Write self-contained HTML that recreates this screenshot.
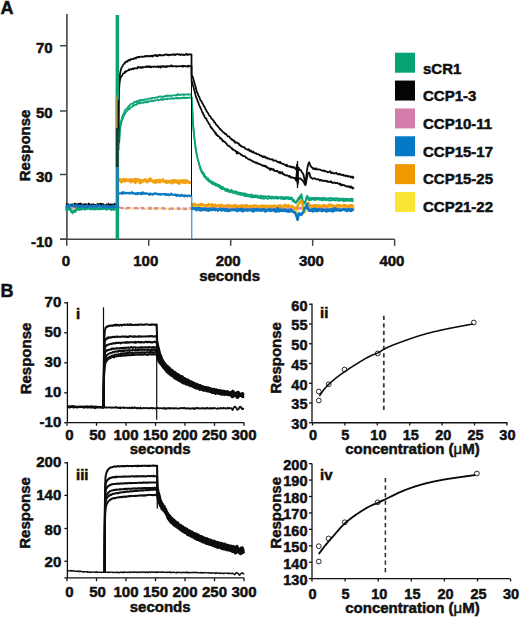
<!DOCTYPE html>
<html><head><meta charset="utf-8"><style>
html,body{margin:0;padding:0;background:#fff;}
svg{display:block;}
text{font-family:"Liberation Sans",sans-serif;font-weight:bold;fill:#111;stroke:#111;stroke-width:0.5px;}
</style></head><body>
<svg width="520" height="620" viewBox="0 0 520 620">
<rect width="520" height="620" fill="#fff"/>
<text x="0.50" y="13.50" font-size="18" text-anchor="start" >A</text>
<line x1="66.90" y1="14.00" x2="66.90" y2="239.25" stroke="#444444" stroke-width="1.6" />
<line x1="60.00" y1="239.25" x2="394.50" y2="239.25" stroke="#444444" stroke-width="1.6" />
<line x1="60.00" y1="45.70" x2="66.90" y2="45.70" stroke="#444444" stroke-width="1.5" />
<text x="52.70" y="53.10" font-size="15" text-anchor="end" >70</text>
<line x1="60.00" y1="111.00" x2="66.90" y2="111.00" stroke="#444444" stroke-width="1.5" />
<text x="52.70" y="117.50" font-size="15" text-anchor="end" >50</text>
<line x1="60.00" y1="174.50" x2="66.90" y2="174.50" stroke="#444444" stroke-width="1.5" />
<text x="52.70" y="182.00" font-size="15" text-anchor="end" >30</text>
<line x1="60.00" y1="239.25" x2="66.90" y2="239.25" stroke="#444444" stroke-width="1.5" />
<text x="52.70" y="247.20" font-size="15" text-anchor="end" >-10</text>
<line x1="66.75" y1="239.25" x2="66.75" y2="245.80" stroke="#444444" stroke-width="1.5" />
<text x="66.00" y="266.00" font-size="15" text-anchor="middle" >0</text>
<line x1="148.72" y1="239.25" x2="148.72" y2="245.80" stroke="#444444" stroke-width="1.5" />
<text x="145.72" y="266.00" font-size="15" text-anchor="middle" >100</text>
<line x1="230.69" y1="239.25" x2="230.69" y2="245.80" stroke="#444444" stroke-width="1.5" />
<text x="228.19" y="266.00" font-size="15" text-anchor="middle" >200</text>
<line x1="312.66" y1="239.25" x2="312.66" y2="245.80" stroke="#444444" stroke-width="1.5" />
<text x="311.46" y="266.00" font-size="15" text-anchor="middle" >300</text>
<line x1="394.63" y1="239.25" x2="394.63" y2="245.80" stroke="#444444" stroke-width="1.5" />
<text x="391.93" y="266.00" font-size="15" text-anchor="middle" >400</text>
<text x="229.60" y="280.50" font-size="15" text-anchor="middle" >seconds</text>
<path d="M119.00,209.02 L119.50,208.48 L120.00,208.35 L120.50,207.57 L121.00,208.21 L121.50,208.18 L122.00,208.30 L122.50,208.08 L123.00,208.32 L123.50,208.15 L124.00,207.82 L124.50,208.71 L125.00,208.71 L125.50,209.05 L126.00,208.39 L126.50,208.21 L127.00,208.16 L127.50,207.76 L128.00,208.78 L128.50,207.95 L129.00,207.92 L129.50,208.32 L130.00,209.00 L130.50,208.51 L131.00,208.01 L131.50,208.14 L132.00,208.68 L132.50,208.37 L133.00,208.13 L133.50,208.35 L134.00,208.74 L134.50,209.24 L135.00,207.96 L135.50,208.21 L136.00,208.14 L136.50,207.50 L137.00,208.10 L137.50,208.07 L138.00,208.93 L138.50,208.44 L139.00,207.84 L139.50,208.76 L140.00,208.36 L140.50,207.81 L141.00,208.27 L141.50,208.28 L142.00,208.17 L142.50,208.54 L143.00,207.63 L143.50,208.43 L144.00,208.95 L144.50,208.89 L145.00,208.99 L145.50,209.00 L146.00,209.16 L146.50,208.12 L147.00,208.91 L147.50,207.83 L148.00,208.34 L148.50,207.82 L149.00,209.01 L149.50,209.13 L150.00,208.52 L150.50,209.31 L151.00,208.34 L151.50,208.67 L152.00,208.68 L152.50,208.20 L153.00,208.80 L153.50,209.41 L154.00,208.23 L154.50,209.00 L155.00,208.59 L155.50,209.36 L156.00,208.85 L156.50,208.93 L157.00,208.92 L157.50,208.77 L158.00,208.12 L158.50,209.24 L159.00,208.14 L159.50,208.79 L160.00,208.94 L160.50,208.37 L161.00,208.76 L161.50,209.18 L162.00,208.71 L162.50,208.36 L163.00,207.56 L163.50,208.34 L164.00,208.50 L164.50,208.53 L165.00,208.36 L165.50,208.90 L166.00,208.52 L166.50,208.71 L167.00,209.04 L167.50,208.43 L168.00,208.65 L168.50,209.64 L169.00,209.13 L169.50,208.27 L170.00,208.76 L170.50,209.02 L171.00,209.30 L171.50,208.87 L172.00,208.60 L172.50,208.52 L173.00,209.08 L173.50,208.95 L174.00,208.62 L174.50,208.76 L175.00,208.67 L175.50,209.14 L176.00,208.57 L176.50,209.05 L177.00,209.20 L177.50,209.06 L178.00,208.54 L178.50,209.41 L179.00,208.61 L179.50,209.05 L180.00,208.59 L180.50,208.20 L181.00,208.99 L181.50,209.02 L182.00,208.88 L182.50,209.02 L183.00,208.66 L183.50,208.63 L184.00,208.86 L184.50,209.70 L185.00,209.26 L185.50,208.73 L186.00,209.17 L186.50,208.76 L187.00,208.77 L187.50,209.31 L188.00,208.76 L188.50,208.30 L189.00,208.61 L189.50,209.02 L190.00,209.04 L190.50,209.49 L191.00,208.71 L191.50,209.29" fill="none" stroke="#f8ea8a" stroke-width="1.8" stroke-linejoin="round" />
<path d="M66.00,207.71 L66.50,207.43 L67.00,207.92 L67.50,207.75 L68.00,207.07 L68.50,208.04 L69.00,206.89 L69.50,207.53 L70.00,207.50 L70.50,207.71 L71.00,207.14 L71.50,207.48 L72.00,207.43 L72.50,208.00 L73.00,207.10 L73.50,207.54 L74.00,207.37 L74.50,206.85 L75.00,208.84 L75.50,207.46 L76.00,206.76 L76.50,208.20 L77.00,206.96 L77.50,207.69 L78.00,207.93 L78.50,207.18 L79.00,207.28 L79.50,207.23 L80.00,207.44 L80.50,206.69 L81.00,206.88 L81.50,207.43 L82.00,208.02 L82.50,207.82 L83.00,208.36 L83.50,207.85 L84.00,207.24 L84.50,207.44 L85.00,206.48 L85.50,207.02 L86.00,206.99 L86.50,207.64 L87.00,207.82 L87.50,207.22 L88.00,207.21 L88.50,206.73 L89.00,207.44 L89.50,207.62 L90.00,207.72 L90.50,207.11 L91.00,208.49 L91.50,208.10 L92.00,207.45 L92.50,207.24 L93.00,207.34 L93.50,207.58 L94.00,207.49 L94.50,207.74 L95.00,207.88 L95.50,208.18 L96.00,208.07 L96.50,207.44 L97.00,207.69 L97.50,207.31 L98.00,207.21 L98.50,208.46 L99.00,207.27 L99.50,208.50 L100.00,207.33 L100.50,207.63 L101.00,208.04 L101.50,207.51 L102.00,207.70 L102.50,207.38 L103.00,207.26 L103.50,207.42 L104.00,207.18 L104.50,208.32 L105.00,207.42 L105.50,208.36 L106.00,206.16 L106.50,207.51 L107.00,207.78 L107.50,207.35 L108.00,208.05 L108.50,207.82 L109.00,207.36 L109.50,207.72 L110.00,208.91 L110.50,207.63 L111.00,207.65 L111.50,207.28 L112.00,207.57 L112.50,206.86 L113.00,207.40 L113.50,208.73 L114.00,208.03 L114.50,207.82 L115.00,208.05 L115.50,208.44 L116.00,207.80 L116.50,208.54 L117.00,208.03 L117.50,207.58" fill="none" stroke="#f7e23c" stroke-width="1.8" stroke-linejoin="round" />
<path d="M192.00,207.86 L192.50,205.82 L193.00,206.72 L193.50,207.14 L194.00,206.55 L194.50,206.93 L195.00,206.69 L195.50,206.69 L196.00,208.37 L196.49,207.33 L196.99,206.99 L197.49,207.68 L197.99,206.91 L198.49,207.47 L198.99,207.21 L199.49,207.85 L199.99,206.32 L200.49,207.42 L200.99,207.10 L201.49,206.46 L201.99,207.58 L202.49,206.61 L202.99,207.86 L203.49,207.31 L203.99,207.40 L204.48,207.09 L204.98,207.51 L205.48,206.13 L205.98,207.10 L206.48,206.75 L206.98,207.21 L207.48,207.04 L207.98,207.38 L208.48,206.65 L208.98,207.99 L209.48,208.23 L209.98,206.97 L210.48,207.07 L210.98,207.23 L211.48,207.72 L211.98,208.03 L212.47,206.49 L212.97,206.78 L213.47,206.56 L213.97,206.54 L214.47,206.28 L214.97,207.28 L215.47,206.52 L215.97,207.86 L216.47,207.56 L216.97,206.59 L217.47,206.59 L217.97,206.81 L218.47,207.81 L218.97,206.69 L219.47,206.37 L219.97,207.10 L220.46,207.31 L220.96,206.80 L221.46,207.94 L221.96,207.25 L222.46,207.36 L222.96,206.71 L223.46,207.12 L223.96,207.06 L224.46,206.00 L224.96,207.29 L225.46,206.25 L225.96,207.13 L226.46,206.41 L226.96,208.16 L227.46,207.32 L227.96,207.59 L228.46,207.62 L228.95,206.50 L229.45,206.02 L229.95,207.00 L230.45,207.61 L230.95,207.21 L231.45,207.56 L231.95,207.64 L232.45,206.43 L232.95,207.32 L233.45,208.16 L233.95,206.90 L234.45,206.17 L234.95,207.07 L235.45,206.96 L235.95,207.40 L236.45,206.75 L236.94,207.24 L237.44,206.09 L237.94,207.63 L238.44,207.99 L238.94,207.85 L239.44,206.45 L239.94,207.37 L240.44,205.72 L240.94,207.35 L241.44,207.18 L241.94,206.72 L242.44,207.39 L242.94,207.29 L243.44,207.69 L243.94,207.29 L244.44,207.34 L244.93,206.26 L245.43,206.65 L245.93,206.99 L246.43,207.38 L246.93,207.23 L247.43,207.99 L247.93,206.81 L248.43,207.12 L248.93,207.37 L249.43,207.13 L249.93,207.50 L250.43,206.97 L250.93,207.96 L251.43,207.10 L251.93,207.82 L252.43,207.25 L252.92,208.01 L253.42,206.57 L253.92,207.53 L254.42,207.05 L254.92,207.39 L255.42,207.87 L255.92,206.71 L256.42,206.62 L256.92,206.78 L257.42,207.41 L257.92,206.34 L258.42,207.33 L258.92,206.65 L259.42,206.72 L259.92,207.11 L260.42,207.49 L260.92,206.98 L261.41,207.05 L261.91,207.28 L262.41,207.17 L262.91,205.97 L263.41,207.09 L263.91,207.35 L264.41,207.86 L264.91,208.34 L265.41,207.65 L265.91,207.36 L266.41,206.84 L266.91,207.37 L267.41,207.71 L267.91,207.96 L268.41,206.89 L268.91,207.45 L269.40,207.74 L269.90,208.27 L270.40,207.47 L270.90,207.07 L271.40,207.00 L271.90,207.17 L272.40,207.02 L272.90,207.76 L273.40,207.89 L273.90,207.72 L274.40,207.95 L274.90,207.13 L275.40,207.55 L275.90,207.17 L276.40,207.39 L276.90,207.98 L277.39,207.35 L277.89,206.44 L278.39,207.25 L278.89,207.02 L279.39,206.62 L279.89,206.98 L280.39,207.86 L280.89,208.22 L281.39,207.14 L281.89,207.89 L282.39,207.98 L282.89,206.81 L283.39,207.37 L283.89,207.37 L284.39,207.48 L284.89,206.60 L285.38,207.23 L285.88,207.93 L286.38,208.04 L286.88,208.32 L287.38,207.24 L287.88,208.35 L288.38,207.75 L288.88,206.74 L289.38,207.80 L289.88,207.25 L290.38,207.68 L290.88,207.38 L291.38,208.03 L291.88,207.56 L292.38,207.29 L292.88,207.92 L293.38,207.57 L293.87,207.23 L294.37,208.83 L294.62,208.91 L294.87,208.99 L295.12,209.43 L295.37,209.87 L295.62,210.40 L295.87,210.92 L296.12,211.19 L296.37,211.46 L296.62,212.19 L296.87,212.92 L297.12,213.24 L297.37,212.72 L297.62,210.90 L297.87,209.09 L298.12,208.20 L298.37,207.30 L298.62,205.90 L298.87,204.50 L299.12,203.80 L299.37,203.42 L299.62,203.46 L299.87,203.49 L300.12,202.84 L300.37,202.18 L300.62,201.31 L300.87,200.43 L301.12,200.09 L301.37,199.74 L301.61,199.96 L301.86,201.25 L302.11,202.76 L302.36,204.27 L302.61,205.73 L302.86,207.20 L303.11,208.70 L303.36,210.21 L303.61,211.45 L303.86,212.01 L304.11,212.33 L304.36,212.64 L304.61,212.87 L304.86,213.09 L305.11,213.18 L305.36,213.26 L305.61,212.37 L305.86,210.41 L306.11,209.07 L306.36,207.73 L306.61,205.85 L306.86,203.98 L307.11,203.81 L307.36,205.01 L307.61,205.68 L307.86,206.35 L308.11,207.15 L308.36,207.95 L308.61,208.42 L308.86,208.90 L309.11,208.86 L309.36,208.25 L309.61,208.69 L309.85,209.13 L310.10,208.95 L310.35,208.77 L310.60,207.84 L310.85,206.92 L311.10,207.18 L311.35,207.58 L311.60,207.85 L311.85,208.11 L312.10,207.55 L312.35,206.98 L312.60,207.69 L312.85,208.41 L313.10,207.88 L313.35,207.35 L313.60,207.17 L313.85,206.99 L314.10,207.60 L314.35,208.21 L314.85,207.68 L315.35,207.21 L315.85,207.97 L316.35,206.56 L316.85,208.45 L317.35,207.13 L317.84,207.69 L318.34,207.35 L318.84,207.77 L319.34,207.99 L319.84,207.14 L320.34,207.95 L320.84,207.41 L321.34,207.21 L321.84,207.45 L322.34,207.06 L322.84,207.17 L323.34,208.04 L323.84,207.49 L324.34,208.14 L324.84,207.79 L325.34,207.06 L325.84,206.63 L326.33,207.24 L326.83,207.71 L327.33,207.59 L327.83,207.17 L328.33,208.09 L328.83,206.72 L329.33,206.96 L329.83,207.66 L330.33,208.69 L330.83,207.81 L331.33,207.10 L331.83,207.90 L332.33,207.95 L332.83,208.08 L333.33,207.40 L333.83,207.21 L334.32,207.67 L334.82,207.82 L335.32,208.42 L335.82,208.67 L336.32,207.26 L336.82,207.36 L337.32,207.59 L337.82,207.50 L338.32,207.87 L338.82,207.88 L339.32,207.76 L339.82,208.31 L340.32,207.56 L340.82,207.12 L341.32,206.86 L341.82,207.13 L342.31,207.13 L342.81,206.71 L343.31,207.98 L343.81,207.75 L344.31,207.45 L344.81,207.21 L345.31,206.87 L345.81,207.20 L346.31,208.59 L346.81,206.56 L347.31,207.74 L347.81,208.04 L348.31,207.74 L348.81,207.52 L349.31,208.06 L349.81,207.13 L350.30,207.96 L350.80,208.40 L351.30,207.17 L351.80,207.28 L352.30,207.76 L352.80,208.19 L353.30,208.37 L353.80,208.04 L354.30,207.37" fill="none" stroke="#f7e23c" stroke-width="1.8" stroke-linejoin="round" />
<path d="M66.00,206.55 L66.50,207.10 L67.00,207.16 L67.50,206.56 L68.00,207.02 L68.50,207.13 L69.00,207.42 L69.50,206.60 L70.00,207.22 L70.50,206.53 L71.00,206.83 L71.50,206.97 L72.00,207.61 L72.50,208.33 L73.00,207.10 L73.50,207.20 L74.00,207.40 L74.50,206.46 L75.00,207.31 L75.50,206.50 L76.00,207.65 L76.50,207.58 L77.00,207.20 L77.50,206.68 L78.00,207.67 L78.50,207.10 L79.00,207.04 L79.50,207.23 L80.00,206.32 L80.50,207.17 L81.00,207.40 L81.50,207.14 L82.00,207.06 L82.50,206.62 L83.00,207.26 L83.50,207.08 L84.00,207.00 L84.50,206.77 L85.00,207.34 L85.50,207.50 L86.00,207.16 L86.50,207.36 L87.00,207.53 L87.50,207.64 L88.00,207.09 L88.50,206.91 L89.00,206.83 L89.50,207.01 L90.00,207.22 L90.50,207.38 L91.00,206.83 L91.50,207.06 L92.00,206.60 L92.50,207.51 L93.00,206.84 L93.50,207.14 L94.00,206.71 L94.50,206.88 L95.00,206.73 L95.50,207.68 L96.00,207.14 L96.50,206.93 L97.00,206.62 L97.50,206.76 L98.00,207.23 L98.50,207.67 L99.00,206.43 L99.50,206.63 L100.00,206.93 L100.50,206.75 L101.00,206.34 L101.50,207.01 L102.00,207.30 L102.50,206.37 L103.00,207.08 L103.50,207.39 L104.00,207.39 L104.50,206.83 L105.00,207.92 L105.50,207.22 L106.00,206.68 L106.50,207.39 L107.00,206.55 L107.50,207.36 L108.00,206.50 L108.50,207.32 L109.00,206.77 L109.50,207.45 L110.00,207.30 L110.50,207.18 L111.00,207.02 L111.50,207.43 L112.00,206.28 L112.50,207.17 L113.00,207.17 L113.50,207.22 L114.00,207.33 L114.50,208.48 L115.00,207.05 L115.50,207.32 L116.00,207.06 L116.50,207.63 L117.00,206.19 L117.50,207.68" fill="none" stroke="#d67fb0" stroke-width="1.5" stroke-linejoin="round" />
<path d="M119.00,207.69 L119.50,207.23 L120.00,207.59 L120.50,207.87 L121.00,207.98 L121.50,207.92 L122.00,208.18 L122.50,207.93 L123.00,207.93 L123.50,207.31 L124.00,208.11 L124.50,208.27 L125.00,207.85 L125.50,207.42 L126.00,207.59 L126.50,208.50 L127.00,207.82 L127.50,207.81 L128.00,207.77 L128.50,208.22 L129.00,207.85 L129.50,207.77 L130.00,207.58 L130.50,208.01 L131.00,208.35 L131.50,208.01 L132.00,208.33 L132.50,208.12 L133.00,208.12 L133.50,208.13 L134.00,208.10 L134.50,208.40 L135.00,208.24 L135.50,207.93 L136.00,208.15 L136.50,208.09 L137.00,208.27 L137.50,208.18 L138.00,208.26 L138.50,207.70 L139.00,208.26 L139.50,208.55 L140.00,207.76 L140.50,208.65 L141.00,208.26 L141.50,208.12 L142.00,207.64 L142.50,208.52 L143.00,207.91 L143.50,208.05 L144.00,208.37 L144.50,207.91 L145.00,207.93 L145.50,207.88 L146.00,208.20 L146.50,208.42 L147.00,208.37 L147.50,208.38 L148.00,208.16 L148.50,208.31 L149.00,208.07 L149.50,208.88 L150.00,208.34 L150.50,207.70 L151.00,207.98 L151.50,208.78 L152.00,207.90 L152.50,208.18 L153.00,208.44 L153.50,208.00 L154.00,208.65 L154.50,208.84 L155.00,208.10 L155.50,208.69 L156.00,208.09 L156.50,208.07 L157.00,208.45 L157.50,208.45 L158.00,208.21 L158.50,208.64 L159.00,207.96 L159.50,208.15 L160.00,208.09 L160.50,208.64 L161.00,208.66 L161.50,208.63 L162.00,208.05 L162.50,208.48 L163.00,208.58 L163.50,207.97 L164.00,208.21 L164.50,208.66 L165.00,208.68 L165.50,208.55 L166.00,208.65 L166.50,208.59 L167.00,208.54 L167.50,208.47 L168.00,208.25 L168.50,208.44 L169.00,208.40 L169.50,209.22 L170.00,208.61 L170.50,208.54 L171.00,208.48 L171.50,208.52 L172.00,208.48 L172.50,208.73 L173.00,208.56 L173.50,208.82 L174.00,208.37 L174.50,208.69 L175.00,208.86 L175.50,208.26 L176.00,208.66 L176.50,208.69 L177.00,208.52 L177.50,208.48 L178.00,208.08 L178.50,208.98 L179.00,208.36 L179.50,208.28 L180.00,208.85 L180.50,208.11 L181.00,208.96 L181.50,208.81 L182.00,208.86 L182.50,208.64 L183.00,208.33 L183.50,208.13 L184.00,209.14 L184.50,208.57 L185.00,208.56 L185.50,209.20 L186.00,208.54 L186.50,208.67 L187.00,208.67 L187.50,208.71 L188.00,208.44 L188.50,208.59 L189.00,209.15 L189.50,209.00 L190.00,207.89 L190.50,208.20 L191.00,208.89 L191.50,208.77" fill="none" stroke="#d487a8" stroke-width="2.0" stroke-linejoin="round" stroke-dasharray="5 4"/>
<path d="M192.00,207.85 L192.50,208.42 L193.00,207.29 L193.50,208.49 L194.00,208.06 L194.50,208.23 L195.00,208.11 L195.50,208.35 L196.00,207.91 L196.49,207.80 L196.99,208.33 L197.49,208.09 L197.99,207.52 L198.49,208.56 L198.99,208.51 L199.49,208.60 L199.99,208.06 L200.49,208.17 L200.99,207.88 L201.49,207.65 L201.99,208.06 L202.49,208.11 L202.99,207.78 L203.49,208.77 L203.99,207.40 L204.48,207.72 L204.98,207.78 L205.48,208.57 L205.98,207.95 L206.48,207.92 L206.98,207.70 L207.48,207.75 L207.98,207.54 L208.48,208.47 L208.98,208.31 L209.48,208.46 L209.98,207.80 L210.48,209.07 L210.98,207.68 L211.48,207.25 L211.98,207.96 L212.47,208.13 L212.97,208.38 L213.47,207.67 L213.97,208.32 L214.47,208.77 L214.97,207.74 L215.47,207.79 L215.97,207.41 L216.47,208.19 L216.97,208.44 L217.47,208.40 L217.97,208.43 L218.47,208.66 L218.97,208.15 L219.47,208.48 L219.97,207.72 L220.46,207.79 L220.96,208.20 L221.46,207.78 L221.96,208.34 L222.46,208.66 L222.96,208.28 L223.46,207.82 L223.96,207.82 L224.46,208.67 L224.96,207.80 L225.46,208.16 L225.96,208.02 L226.46,208.15 L226.96,208.57 L227.46,207.92 L227.96,207.57 L228.46,208.72 L228.95,208.23 L229.45,208.43 L229.95,208.13 L230.45,208.45 L230.95,208.65 L231.45,208.69 L231.95,208.04 L232.45,208.01 L232.95,208.31 L233.45,208.24 L233.95,208.38 L234.45,207.87 L234.95,207.23 L235.45,208.34 L235.95,208.47 L236.45,208.42 L236.94,208.83 L237.44,208.51 L237.94,208.01 L238.44,208.57 L238.94,208.14 L239.44,208.68 L239.94,208.27 L240.44,208.36 L240.94,208.27 L241.44,208.20 L241.94,207.59 L242.44,208.21 L242.94,207.28 L243.44,208.39 L243.94,208.59 L244.44,209.01 L244.93,208.35 L245.43,207.91 L245.93,207.56 L246.43,208.98 L246.93,207.63 L247.43,208.56 L247.93,207.28 L248.43,208.19 L248.93,208.48 L249.43,208.34 L249.93,208.20 L250.43,207.89 L250.93,207.86 L251.43,208.62 L251.93,208.40 L252.43,208.16 L252.92,208.31 L253.42,207.86 L253.92,208.64 L254.42,208.74 L254.92,207.92 L255.42,208.28 L255.92,208.66 L256.42,207.98 L256.92,209.05 L257.42,208.85 L257.92,208.13 L258.42,208.64 L258.92,208.91 L259.42,207.75 L259.92,208.50 L260.42,208.20 L260.92,208.17 L261.41,208.54 L261.91,208.07 L262.41,207.70 L262.91,207.69 L263.41,208.26 L263.91,208.52 L264.41,208.26 L264.91,208.21 L265.41,208.26 L265.91,208.79 L266.41,208.49 L266.91,207.98 L267.41,208.16 L267.91,208.76 L268.41,208.05 L268.91,208.13 L269.40,208.28 L269.90,207.86 L270.40,208.65 L270.90,207.42 L271.40,208.87 L271.90,208.12 L272.40,207.79 L272.90,208.41 L273.40,207.62 L273.90,208.52 L274.40,208.61 L274.90,208.08 L275.40,208.15 L275.90,208.69 L276.40,208.04 L276.90,208.32 L277.39,208.45 L277.89,208.94 L278.39,208.12 L278.89,208.34 L279.39,208.78 L279.89,207.30 L280.39,208.22 L280.89,207.56 L281.39,207.59 L281.89,209.12 L282.39,208.42 L282.89,208.93 L283.39,208.24 L283.89,208.56 L284.39,208.17 L284.89,208.12 L285.38,208.32 L285.88,208.40 L286.38,208.96 L286.88,208.27 L287.38,208.50 L287.88,208.25 L288.38,208.41 L288.88,207.83 L289.38,208.80 L289.88,208.15 L290.38,208.38 L290.88,208.28 L291.38,208.76 L291.88,208.58 L292.38,208.38 L292.88,208.44 L293.38,208.51 L293.87,208.68 L294.37,208.58 L294.87,208.89 L295.37,209.03 L295.87,208.63 L296.37,207.86 L296.87,209.09 L297.37,209.25 L297.87,208.25 L298.37,208.23 L298.87,207.57 L299.37,208.71 L299.87,208.00 L300.37,209.13 L300.87,207.41 L301.37,208.43 L301.86,208.68 L302.36,208.25 L302.86,208.09 L303.36,208.51 L303.86,208.20 L304.36,208.28 L304.86,208.40 L305.36,208.20 L305.86,208.33 L306.36,208.74 L306.86,208.27 L307.36,208.49 L307.86,208.13 L308.36,208.80 L308.86,207.92 L309.36,208.82 L309.85,207.22 L310.35,208.07 L310.85,207.80 L311.35,208.85 L311.85,208.55 L312.35,207.92 L312.85,208.22 L313.35,208.98 L313.85,208.42 L314.35,208.67 L314.85,207.85 L315.35,207.85 L315.85,208.68 L316.35,209.38 L316.85,208.24 L317.35,208.69 L317.84,208.08 L318.34,208.96 L318.84,208.28 L319.34,208.29 L319.84,207.71 L320.34,208.30 L320.84,208.54 L321.34,209.02 L321.84,208.00 L322.34,208.86 L322.84,208.33 L323.34,208.36 L323.84,208.09 L324.34,207.79 L324.84,207.99 L325.34,209.13 L325.84,208.00 L326.33,208.31 L326.83,208.92 L327.33,207.64 L327.83,208.66 L328.33,208.28 L328.83,208.56 L329.33,208.83 L329.83,208.43 L330.33,208.41 L330.83,208.78 L331.33,208.75 L331.83,208.21 L332.33,208.42 L332.83,207.96 L333.33,209.02 L333.83,208.02 L334.32,208.58 L334.82,209.21 L335.32,208.83 L335.82,208.40 L336.32,208.22 L336.82,208.27 L337.32,208.89 L337.82,208.66 L338.32,208.52 L338.82,209.57 L339.32,208.20 L339.82,208.34 L340.32,208.38 L340.82,208.62 L341.32,208.66 L341.82,208.43 L342.31,208.84 L342.81,208.76 L343.31,208.43 L343.81,207.57 L344.31,208.86 L344.81,208.17 L345.31,208.29 L345.81,208.49 L346.31,208.05 L346.81,208.23 L347.31,208.57 L347.81,208.41 L348.31,208.67 L348.81,208.20 L349.31,208.45 L349.81,208.12 L350.30,208.44 L350.80,208.67 L351.30,208.45 L351.80,207.98 L352.30,208.48 L352.80,208.62 L353.30,209.01 L353.80,208.55 L354.30,208.40" fill="none" stroke="#d67fb0" stroke-width="1.5" stroke-linejoin="round" />
<path d="M66.00,208.25 L66.50,210.14 L67.00,208.37 L67.50,208.26 L68.00,208.85 L68.50,207.84 L69.00,209.58 L69.50,209.04 L70.00,209.22 L70.50,208.34 L71.00,211.12 L71.50,211.93 L72.00,211.96 L72.50,213.12 L73.00,212.07 L73.50,210.28 L74.00,211.46 L74.50,211.19 L75.00,212.06 L75.50,211.35 L76.00,209.20 L76.50,208.71 L77.00,209.26 L77.50,209.77 L78.00,208.53 L78.50,207.67 L79.00,208.27 L79.50,209.82 L80.00,209.02 L80.50,208.70 L81.00,208.30 L81.50,209.51 L82.00,209.05 L82.50,208.80 L83.00,208.54 L83.50,208.77 L84.00,208.67 L84.50,209.20 L85.00,209.62 L85.50,207.68 L86.00,207.98 L86.50,208.79 L87.00,208.89 L87.50,207.91 L88.00,208.47 L88.50,208.59 L89.00,208.57 L89.50,208.55 L90.00,208.77 L90.50,209.35 L91.00,209.26 L91.50,209.17 L92.00,208.98 L92.50,208.38 L93.00,208.52 L93.50,209.22 L94.00,208.87 L94.50,209.28 L95.00,208.96 L95.50,208.83 L96.00,209.06 L96.50,207.86 L97.00,208.69 L97.50,208.43 L98.00,209.29 L98.50,208.37 L99.00,208.91 L99.50,208.51 L100.00,209.05 L100.50,209.19 L101.00,208.63 L101.50,208.82 L102.00,208.86 L102.50,209.21 L103.00,208.55 L103.50,208.76 L104.00,208.48 L104.50,208.16 L105.00,208.83 L105.50,208.98 L106.00,208.24 L106.50,209.66 L107.00,208.27 L107.50,209.16 L108.00,208.93 L108.50,207.68 L109.00,208.69 L109.50,207.75 L110.00,208.63 L110.50,209.10 L111.00,209.80 L111.50,209.16 L112.00,207.77 L112.50,208.47 L113.00,209.58 L113.50,208.78 L114.00,209.73 L114.50,208.23 L115.00,208.33 L115.50,207.85 L116.00,208.43 L116.50,209.41 L117.00,208.09" fill="none" stroke="#0ba478" stroke-width="2.2" stroke-linejoin="round" />
<path d="M119.20,140.26 L119.70,131.68 L120.20,126.56 L120.70,122.73 L121.20,120.23 L121.70,119.07 L122.20,116.32 L122.70,115.68 L123.21,114.77 L123.71,113.36 L124.21,112.86 L124.71,110.40 L125.21,110.54 L125.71,109.49 L126.21,109.06 L126.71,108.52 L127.21,108.12 L127.71,107.09 L128.21,107.17 L128.71,105.83 L129.21,106.26 L129.71,105.42 L130.22,104.49 L130.72,104.12 L131.22,103.76 L131.72,103.71 L132.22,103.78 L132.72,103.91 L133.22,103.44 L133.72,102.44 L134.22,101.84 L134.72,102.30 L135.22,101.67 L135.72,101.88 L136.22,101.49 L136.72,102.43 L137.23,100.73 L137.73,101.27 L138.23,101.66 L138.73,100.72 L139.23,100.45 L139.73,101.19 L140.23,99.73 L140.73,99.76 L141.23,99.81 L141.73,100.28 L142.23,100.31 L142.73,99.89 L143.23,100.60 L143.73,99.67 L144.23,99.65 L144.74,99.46 L145.24,99.91 L145.74,99.39 L146.24,99.16 L146.74,99.81 L147.24,99.58 L147.74,99.39 L148.24,98.50 L148.74,98.48 L149.24,98.68 L149.74,98.58 L150.24,98.42 L150.74,98.40 L151.24,98.61 L151.75,97.93 L152.25,98.27 L152.75,97.95 L153.25,97.82 L153.75,97.80 L154.25,98.06 L154.75,97.81 L155.25,97.34 L155.75,97.64 L156.25,97.48 L156.75,97.49 L157.25,97.16 L157.75,97.52 L158.25,97.22 L158.76,96.60 L159.26,96.47 L159.76,96.35 L160.26,96.91 L160.76,96.45 L161.26,96.50 L161.76,96.53 L162.26,96.92 L162.76,97.19 L163.26,96.32 L163.76,97.01 L164.26,96.44 L164.76,96.62 L165.26,96.04 L165.77,95.65 L166.27,96.20 L166.77,96.44 L167.27,95.38 L167.77,95.86 L168.27,95.91 L168.77,96.00 L169.27,95.36 L169.77,95.50 L170.27,95.98 L170.77,96.25 L171.27,95.60 L171.77,95.87 L172.27,95.55 L172.77,95.60 L173.28,95.27 L173.78,95.29 L174.28,95.13 L174.78,95.32 L175.28,95.64 L175.78,95.28 L176.28,95.41 L176.78,94.92 L177.28,95.36 L177.78,93.96 L178.28,94.53 L178.78,94.88 L179.28,94.32 L179.78,95.13 L180.29,94.97 L180.79,94.54 L181.29,94.86 L181.79,94.26 L182.29,94.44 L182.79,94.60 L183.29,94.13 L183.79,95.04 L184.29,94.41 L184.79,94.97 L185.29,94.53 L185.79,94.66 L186.29,94.20 L186.79,94.39 L187.30,94.32 L187.80,94.52 L188.30,94.90 L188.80,94.19 L189.30,94.31 L189.80,94.47 L190.30,94.62 L190.80,94.26 L191.60,96.86 L192.10,104.38 L192.60,114.12 L193.10,124.07 L193.60,129.86 L194.10,134.85 L194.60,139.63 L195.10,143.56 L195.60,147.16 L196.10,150.83 L196.60,153.64 L197.10,156.13 L197.60,158.41 L198.10,160.05 L198.60,162.09 L199.10,163.85 L199.60,165.36 L200.09,166.15 L200.59,168.06 L201.09,169.33 L201.59,170.42 L202.09,171.12 L202.59,172.15 L203.09,172.36 L203.59,173.26 L204.09,173.48 L204.59,175.13 L205.09,176.41 L205.59,177.03 L206.09,176.57 L206.59,177.71 L207.09,178.41 L207.59,178.33 L208.09,178.19 L208.59,179.80 L209.09,179.58 L209.59,179.95 L210.09,181.05 L210.59,180.96 L211.09,181.42 L211.59,182.01 L212.09,181.69 L212.59,181.68 L213.09,182.56 L213.59,182.54 L214.09,183.04 L214.59,183.16 L215.09,182.99 L215.59,183.51 L216.08,183.62 L216.58,183.91 L217.08,184.24 L217.58,184.66 L218.08,184.89 L218.58,184.66 L219.08,185.63 L219.58,185.20 L220.08,186.78 L220.58,186.03 L221.08,186.56 L221.58,187.33 L222.08,187.06 L222.58,186.94 L223.08,187.13 L223.58,187.95 L224.08,188.21 L224.58,188.56 L225.08,188.56 L225.58,188.49 L226.08,189.01 L226.58,189.53 L227.08,188.93 L227.58,190.64 L228.08,189.41 L228.58,190.16 L229.08,190.54 L229.58,190.36 L230.08,190.31 L230.58,190.61 L231.08,190.98 L231.58,189.73 L232.07,190.97 L232.57,190.82 L233.07,190.86 L233.57,191.30 L234.07,191.46 L234.57,191.72 L235.07,191.49 L235.57,192.23 L236.07,191.25 L236.57,191.78 L237.07,191.83 L237.57,192.43 L238.07,192.36 L238.57,192.85 L239.07,192.51 L239.57,193.37 L240.07,193.30 L240.57,192.97 L241.07,192.67 L241.57,192.96 L242.07,192.93 L242.57,194.01 L243.07,193.93 L243.57,193.32 L244.07,194.52 L244.57,193.84 L245.07,193.25 L245.57,194.51 L246.07,194.68 L246.57,194.31 L247.07,194.08 L247.57,194.92 L248.07,194.39 L248.56,194.65 L249.06,194.90 L249.56,194.93 L250.06,194.74 L250.56,194.61 L251.06,195.32 L251.56,194.36 L252.06,195.32 L252.56,195.38 L253.06,195.54 L253.56,195.29 L254.06,195.57 L254.56,195.84 L255.06,195.26 L255.56,195.70 L256.06,195.88 L256.56,195.36 L257.06,195.53 L257.56,196.47 L258.06,196.33 L258.56,195.76 L259.06,196.32 L259.56,196.26 L260.06,196.65 L260.56,196.60 L261.06,195.39 L261.56,196.17 L262.06,196.79 L262.56,196.92 L263.06,196.16 L263.56,195.98 L264.06,196.53 L264.55,196.24 L265.05,196.49 L265.55,196.12 L266.05,196.82 L266.55,196.78 L267.05,196.77 L267.55,196.25 L268.05,196.07 L268.55,196.24 L269.05,196.88 L269.55,196.10 L270.05,196.99 L270.55,197.40 L271.05,196.58 L271.55,196.76 L272.05,197.19 L272.55,197.19 L273.05,196.67 L273.55,196.85 L274.05,196.97 L274.55,196.85 L275.05,197.17 L275.55,197.10 L276.05,197.46 L276.55,196.42 L277.05,197.46 L277.55,197.34 L278.05,197.03 L278.55,197.24 L279.05,197.45 L279.55,197.23 L280.05,197.06 L280.55,197.26 L281.04,196.93 L281.54,196.73 L282.04,196.90 L282.54,196.96 L283.04,197.31 L283.54,197.54 L284.04,197.36 L284.54,197.80 L285.04,197.27 L285.54,197.10 L286.04,197.08 L286.54,197.04 L287.04,197.26 L287.54,197.86 L288.04,196.88 L288.54,197.61 L289.04,197.42 L289.54,197.73 L290.04,197.29 L290.54,197.72 L291.04,197.35 L291.54,198.26 L292.04,197.86 L292.54,199.23 L293.04,199.84 L293.54,199.53 L294.04,200.90 L294.29,200.81 L294.54,200.72 L294.79,201.34 L295.04,201.97 L295.29,202.05 L295.54,202.14 L295.79,202.51 L296.04,202.78 L296.29,202.24 L296.54,201.69 L296.79,200.92 L297.03,200.15 L297.28,200.14 L297.53,200.12 L297.78,199.57 L298.03,199.04 L298.28,198.34 L298.53,197.63 L298.78,197.59 L299.03,197.56 L299.28,197.22 L299.53,196.89 L299.78,196.37 L300.03,195.86 L300.28,195.48 L300.53,195.10 L300.78,195.19 L301.03,195.28 L301.28,194.67 L301.53,194.26 L301.78,195.68 L302.03,197.10 L302.28,198.47 L302.53,199.83 L302.78,200.78 L303.03,201.72 L303.28,202.68 L303.53,203.44 L303.78,203.44 L304.03,203.44 L304.28,202.70 L304.53,201.96 L304.78,201.72 L305.03,201.42 L305.28,201.35 L305.53,201.28 L305.78,199.88 L306.03,198.48 L306.28,197.94 L306.53,197.40 L306.78,196.41 L307.03,195.54 L307.28,196.02 L307.53,196.50 L307.78,196.88 L308.03,197.25 L308.28,197.07 L308.53,196.89 L308.78,197.56 L309.03,198.19 L309.28,198.36 L309.53,198.54 L309.78,198.51 L310.03,198.49 L310.28,198.35 L310.53,198.20 L310.78,197.92 L311.03,197.64 L311.28,197.88 L311.53,198.12 L311.78,197.98 L312.03,197.83 L312.28,197.78 L312.53,197.74 L312.78,197.88 L313.02,198.03 L313.27,198.43 L313.52,198.84 L313.77,198.29 L314.02,197.74 L314.52,198.43 L315.02,198.17 L315.52,197.58 L316.02,197.79 L316.52,198.06 L317.02,197.97 L317.52,198.24 L318.02,197.82 L318.52,197.82 L319.02,198.55 L319.52,198.20 L320.02,197.93 L320.52,198.24 L321.02,198.89 L321.52,198.06 L322.02,197.76 L322.52,198.62 L323.02,199.00 L323.52,198.77 L324.02,197.88 L324.52,197.63 L325.02,198.81 L325.52,198.32 L326.02,198.57 L326.52,198.35 L327.02,199.02 L327.52,198.47 L328.02,198.35 L328.52,198.52 L329.02,198.07 L329.51,198.56 L330.01,198.48 L330.51,197.79 L331.01,198.15 L331.51,198.12 L332.01,198.03 L332.51,198.72 L333.01,199.00 L333.51,198.73 L334.01,198.12 L334.51,198.03 L335.01,198.94 L335.51,198.58 L336.01,198.66 L336.51,198.26 L337.01,198.02 L337.51,199.52 L338.01,198.55 L338.51,198.71 L339.01,198.39 L339.51,199.34 L340.01,198.70 L340.51,198.79 L341.01,198.87 L341.51,198.87 L342.01,199.39 L342.51,198.27 L343.01,199.14 L343.51,198.72 L344.01,198.81 L344.51,198.76 L345.01,199.14 L345.50,198.56 L346.00,198.83 L346.50,199.24 L347.00,198.86 L347.50,198.91 L348.00,199.22 L348.50,199.14 L349.00,199.01 L349.50,199.16 L350.00,198.85 L350.50,199.48 L351.00,198.81 L351.50,198.65 L352.00,199.38 L352.50,198.79 L353.00,198.93 L353.50,199.21" fill="none" stroke="#0ba478" stroke-width="1.7" stroke-linejoin="round" />
<path d="M119.20,143.23 L119.70,134.34 L120.20,129.19 L120.70,125.85 L121.20,123.65 L121.70,121.45 L122.20,120.12 L122.70,119.11 L123.21,117.33 L123.71,116.20 L124.21,115.03 L124.71,114.20 L125.21,113.20 L125.71,112.47 L126.21,111.91 L126.71,111.54 L127.21,110.94 L127.71,110.02 L128.21,109.73 L128.71,108.65 L129.21,109.36 L129.71,109.08 L130.22,107.77 L130.72,107.62 L131.22,107.13 L131.72,107.04 L132.22,106.24 L132.72,105.64 L133.22,106.17 L133.72,105.24 L134.22,105.48 L134.72,104.78 L135.22,104.58 L135.72,104.95 L136.22,104.94 L136.72,104.11 L137.23,103.82 L137.73,103.89 L138.23,103.43 L138.73,102.88 L139.23,103.35 L139.73,102.46 L140.23,103.28 L140.73,102.84 L141.23,102.98 L141.73,102.30 L142.23,102.46 L142.73,102.83 L143.23,103.02 L143.73,102.76 L144.23,102.52 L144.74,101.92 L145.24,102.43 L145.74,102.20 L146.24,101.96 L146.74,102.45 L147.24,101.65 L147.74,102.45 L148.24,101.53 L148.74,101.43 L149.24,101.55 L149.74,101.03 L150.24,101.24 L150.74,101.34 L151.24,100.63 L151.75,100.85 L152.25,100.56 L152.75,100.80 L153.25,101.27 L153.75,100.63 L154.25,100.62 L154.75,100.68 L155.25,100.13 L155.75,100.51 L156.25,100.16 L156.75,100.03 L157.25,99.58 L157.75,99.88 L158.25,100.38 L158.76,100.36 L159.26,99.76 L159.76,99.82 L160.26,99.57 L160.76,99.27 L161.26,98.96 L161.76,100.12 L162.26,99.12 L162.76,99.48 L163.26,99.89 L163.76,99.16 L164.26,99.19 L164.76,99.29 L165.26,99.02 L165.77,99.18 L166.27,98.93 L166.77,99.40 L167.27,99.13 L167.77,98.50 L168.27,98.40 L168.77,98.60 L169.27,98.57 L169.77,98.49 L170.27,99.03 L170.77,98.41 L171.27,98.47 L171.77,98.64 L172.27,97.86 L172.77,98.67 L173.28,98.68 L173.78,98.93 L174.28,98.07 L174.78,98.21 L175.28,98.42 L175.78,98.18 L176.28,97.77 L176.78,98.56 L177.28,98.11 L177.78,98.30 L178.28,97.77 L178.78,98.45 L179.28,97.97 L179.78,97.81 L180.29,98.30 L180.79,98.38 L181.29,97.64 L181.79,98.29 L182.29,98.48 L182.79,97.97 L183.29,97.36 L183.79,98.02 L184.29,98.17 L184.79,97.42 L185.29,98.33 L185.79,97.65 L186.29,97.66 L186.79,98.06 L187.30,97.72 L187.80,98.06 L188.30,97.60 L188.80,97.72 L189.30,97.57 L189.80,97.63 L190.30,97.73 L190.80,97.67 L191.60,97.70 L192.10,105.71 L192.60,114.89 L193.10,125.21 L193.60,131.12 L194.10,135.73 L194.60,139.91 L195.10,144.39 L195.60,148.65 L196.10,151.45 L196.60,154.51 L197.10,156.63 L197.60,158.81 L198.10,160.74 L198.60,162.27 L199.10,164.93 L199.60,166.60 L200.09,168.17 L200.59,169.89 L201.09,170.47 L201.59,172.47 L202.09,172.35 L202.59,173.87 L203.09,174.21 L203.59,175.32 L204.09,176.55 L204.59,176.29 L205.09,177.50 L205.59,178.05 L206.09,178.63 L206.59,179.17 L207.09,179.85 L207.59,180.21 L208.09,180.61 L208.59,181.21 L209.09,181.53 L209.59,181.64 L210.09,181.62 L210.59,182.67 L211.09,182.60 L211.59,183.62 L212.09,183.14 L212.59,183.19 L213.09,184.27 L213.59,183.87 L214.09,183.85 L214.59,185.02 L215.09,184.34 L215.59,185.55 L216.08,184.99 L216.58,185.72 L217.08,185.92 L217.58,185.48 L218.08,186.39 L218.58,186.54 L219.08,187.03 L219.58,187.47 L220.08,188.13 L220.58,187.79 L221.08,188.13 L221.58,189.20 L222.08,188.97 L222.58,189.23 L223.08,188.67 L223.58,188.94 L224.08,189.45 L224.58,189.78 L225.08,190.22 L225.58,191.19 L226.08,189.99 L226.58,190.46 L227.08,191.01 L227.58,191.06 L228.08,191.52 L228.58,191.20 L229.08,191.15 L229.58,192.35 L230.08,191.93 L230.58,191.52 L231.08,191.97 L231.58,192.22 L232.07,191.87 L232.57,192.81 L233.07,192.74 L233.57,192.70 L234.07,192.75 L234.57,193.70 L235.07,193.24 L235.57,193.14 L236.07,192.84 L236.57,193.33 L237.07,194.08 L237.57,194.50 L238.07,193.70 L238.57,193.53 L239.07,194.38 L239.57,194.48 L240.07,194.92 L240.57,194.49 L241.07,194.89 L241.57,194.31 L242.07,194.63 L242.57,194.97 L243.07,195.10 L243.57,195.53 L244.07,195.87 L244.57,195.03 L245.07,196.21 L245.57,195.45 L246.07,195.66 L246.57,196.29 L247.07,195.14 L247.57,195.56 L248.07,195.86 L248.56,196.27 L249.06,196.70 L249.56,196.79 L250.06,196.17 L250.56,196.83 L251.06,196.50 L251.56,197.24 L252.06,196.70 L252.56,197.24 L253.06,196.58 L253.56,197.28 L254.06,196.60 L254.56,197.18 L255.06,196.64 L255.56,197.22 L256.06,197.06 L256.56,197.05 L257.06,197.54 L257.56,197.78 L258.06,197.60 L258.56,197.72 L259.06,197.91 L259.56,198.13 L260.06,198.11 L260.56,197.94 L261.06,198.53 L261.56,197.69 L262.06,198.18 L262.56,197.54 L263.06,198.81 L263.56,197.91 L264.06,198.09 L264.55,198.54 L265.05,198.02 L265.55,197.82 L266.05,197.50 L266.55,198.08 L267.05,198.92 L267.55,198.28 L268.05,198.86 L268.55,198.57 L269.05,198.14 L269.55,197.83 L270.05,198.28 L270.55,198.59 L271.05,198.31 L271.55,198.47 L272.05,198.64 L272.55,198.33 L273.05,197.96 L273.55,198.38 L274.05,198.71 L274.55,198.24 L275.05,198.18 L275.55,198.21 L276.05,198.50 L276.55,198.56 L277.05,198.60 L277.55,198.19 L278.05,198.66 L278.55,198.45 L279.05,198.35 L279.55,198.05 L280.05,198.33 L280.55,198.52 L281.04,198.80 L281.54,198.91 L282.04,198.79 L282.54,198.88 L283.04,198.42 L283.54,199.11 L284.04,199.13 L284.54,199.10 L285.04,198.70 L285.54,198.86 L286.04,198.75 L286.54,198.46 L287.04,198.82 L287.54,198.41 L288.04,198.35 L288.54,199.18 L289.04,199.19 L289.54,199.31 L290.04,198.87 L290.54,199.05 L291.04,199.27 L291.54,199.37 L292.04,199.20 L292.54,201.11 L293.04,201.17 L293.54,201.59 L294.04,201.59 L294.29,201.64 L294.54,201.70 L294.79,202.06 L295.04,202.42 L295.29,202.66 L295.54,202.90 L295.79,202.82 L296.04,202.65 L296.29,202.41 L296.54,202.18 L296.79,201.96 L297.03,201.75 L297.28,201.52 L297.53,201.29 L297.78,200.74 L298.03,200.21 L298.28,199.78 L298.53,199.36 L298.78,198.95 L299.03,198.55 L299.28,198.88 L299.53,199.20 L299.78,198.62 L300.03,198.04 L300.28,197.90 L300.53,197.76 L300.78,197.38 L301.03,197.00 L301.28,196.51 L301.53,196.17 L301.78,197.74 L302.03,199.31 L302.28,200.00 L302.53,200.70 L302.78,201.75 L303.03,202.80 L303.28,203.40 L303.53,203.86 L303.78,203.73 L304.03,203.60 L304.28,203.58 L304.53,203.57 L304.78,203.00 L305.03,202.40 L305.28,201.74 L305.53,201.09 L305.78,200.42 L306.03,199.76 L306.28,199.12 L306.53,198.49 L306.78,198.28 L307.03,198.16 L307.28,198.26 L307.53,198.36 L307.78,198.32 L308.03,198.27 L308.28,199.10 L308.53,199.94 L308.78,200.16 L309.03,200.34 L309.28,200.27 L309.53,200.21 L309.78,199.64 L310.03,199.07 L310.28,199.36 L310.53,199.66 L310.78,199.83 L311.03,200.00 L311.28,199.60 L311.53,199.20 L311.78,199.24 L312.03,199.29 L312.28,199.40 L312.53,199.50 L312.78,199.20 L313.02,198.89 L313.27,199.29 L313.52,199.69 L313.77,199.83 L314.02,199.97 L314.52,199.87 L315.02,200.18 L315.52,199.70 L316.02,199.67 L316.52,199.63 L317.02,199.47 L317.52,199.35 L318.02,199.48 L318.52,199.73 L319.02,199.58 L319.52,199.82 L320.02,199.83 L320.52,200.04 L321.02,199.65 L321.52,199.12 L322.02,199.52 L322.52,200.54 L323.02,200.15 L323.52,199.76 L324.02,199.85 L324.52,199.90 L325.02,199.78 L325.52,200.03 L326.02,200.22 L326.52,200.42 L327.02,199.88 L327.52,199.92 L328.02,199.93 L328.52,200.07 L329.02,200.45 L329.51,199.82 L330.01,200.88 L330.51,200.31 L331.01,200.53 L331.51,199.84 L332.01,200.04 L332.51,200.00 L333.01,200.22 L333.51,199.50 L334.01,200.41 L334.51,199.66 L335.01,200.40 L335.51,200.64 L336.01,200.28 L336.51,200.26 L337.01,200.28 L337.51,200.27 L338.01,200.46 L338.51,200.71 L339.01,200.63 L339.51,200.95 L340.01,200.48 L340.51,200.28 L341.01,200.32 L341.51,200.06 L342.01,200.38 L342.51,200.33 L343.01,201.18 L343.51,200.75 L344.01,201.22 L344.51,199.94 L345.01,200.73 L345.50,201.00 L346.00,200.77 L346.50,200.52 L347.00,200.76 L347.50,200.75 L348.00,200.78 L348.50,200.84 L349.00,201.10 L349.50,200.87 L350.00,200.91 L350.50,200.83 L351.00,201.00 L351.50,200.62 L352.00,201.08 L352.50,200.79 L353.00,201.22 L353.50,200.73" fill="none" stroke="#0ba478" stroke-width="1.7" stroke-linejoin="round" />
<path d="M66.00,206.52 L66.50,206.48 L67.00,206.14 L67.50,206.97 L68.00,206.70 L68.50,206.56 L69.00,207.04 L69.50,206.42 L70.00,206.54 L70.50,206.99 L71.00,207.52 L71.50,206.58 L72.00,207.19 L72.50,206.62 L73.00,206.23 L73.50,206.75 L74.00,207.04 L74.50,206.63 L75.00,206.74 L75.50,206.12 L76.00,205.64 L76.50,206.64 L77.00,205.97 L77.50,206.50 L78.00,206.27 L78.50,206.58 L79.00,206.86 L79.50,205.84 L80.00,206.45 L80.50,206.44 L81.00,207.04 L81.50,206.53 L82.00,206.17 L82.50,206.27 L83.00,207.21 L83.50,206.14 L84.00,206.52 L84.50,206.60 L85.00,206.04 L85.50,206.17 L86.00,205.71 L86.50,206.14 L87.00,206.76 L87.50,206.58 L88.00,205.74 L88.50,207.07 L89.00,205.97 L89.50,206.12 L90.00,207.14 L90.50,206.68 L91.00,206.47 L91.50,207.09 L92.00,206.47 L92.50,206.64 L93.00,206.27 L93.50,206.45 L94.00,206.47 L94.50,206.94 L95.00,206.25 L95.50,206.42 L96.00,205.63 L96.50,205.82 L97.00,206.78 L97.50,206.34 L98.00,206.36 L98.50,206.74 L99.00,206.36 L99.50,206.53 L100.00,206.38 L100.50,205.69 L101.00,206.74 L101.50,207.08 L102.00,206.96 L102.50,206.52 L103.00,206.60 L103.50,206.64 L104.00,207.09 L104.50,206.96 L105.00,206.35 L105.50,206.43 L106.00,206.41 L106.50,206.25 L107.00,206.24 L107.50,206.43 L108.00,205.52 L108.50,206.62 L109.00,206.29 L109.50,205.99 L110.00,206.40 L110.50,206.17 L111.00,206.95 L111.50,206.03 L112.00,206.49 L112.50,206.60 L113.00,206.14 L113.50,205.98 L114.00,206.62 L114.50,206.31 L115.00,206.09 L115.50,205.90 L116.00,206.71 L116.50,207.06 L117.00,206.26 L117.50,206.68" fill="none" stroke="#f0a010" stroke-width="1.2" stroke-linejoin="round" />
<path d="M118.80,180.70 L119.30,180.64 L119.80,179.25 L120.30,180.27 L120.81,180.42 L121.31,182.09 L121.81,180.05 L122.31,180.81 L122.81,180.63 L123.31,180.51 L123.81,179.08 L124.32,180.23 L124.82,181.32 L125.32,179.69 L125.82,180.25 L126.32,179.37 L126.82,180.32 L127.32,180.41 L127.83,180.73 L128.33,179.79 L128.83,179.78 L129.33,179.67 L129.83,180.43 L130.33,180.36 L130.83,182.19 L131.33,179.69 L131.84,180.86 L132.34,179.79 L132.84,179.88 L133.34,181.25 L133.84,180.69 L134.34,180.80 L134.84,179.18 L135.35,182.63 L135.85,182.20 L136.35,179.78 L136.85,179.25 L137.35,179.80 L137.85,180.66 L138.35,179.65 L138.86,180.72 L139.36,179.92 L139.86,182.91 L140.36,180.32 L140.86,180.14 L141.36,182.30 L141.86,180.86 L142.37,180.59 L142.87,180.56 L143.37,181.10 L143.87,180.25 L144.37,180.74 L144.87,180.18 L145.37,179.49 L145.88,180.40 L146.38,180.84 L146.88,182.10 L147.38,180.92 L147.88,180.44 L148.38,180.86 L148.88,181.28 L149.38,178.82 L149.89,180.43 L150.39,178.93 L150.89,179.30 L151.39,180.19 L151.89,180.73 L152.39,180.90 L152.89,180.98 L153.40,182.03 L153.90,181.29 L154.40,181.25 L154.90,180.66 L155.40,182.64 L155.90,182.09 L156.40,180.47 L156.91,180.49 L157.41,181.68 L157.91,181.89 L158.41,180.76 L158.91,182.03 L159.41,180.03 L159.91,180.94 L160.42,181.98 L160.92,180.61 L161.42,181.25 L161.92,181.13 L162.42,180.93 L162.92,179.54 L163.42,180.90 L163.93,181.36 L164.43,181.39 L164.93,181.90 L165.43,182.07 L165.93,180.96 L166.43,181.09 L166.93,182.77 L167.43,182.09 L167.94,181.35 L168.44,181.16 L168.94,182.29 L169.44,182.31 L169.94,181.32 L170.44,181.81 L170.94,181.46 L171.45,181.42 L171.95,183.09 L172.45,180.36 L172.95,182.16 L173.45,180.59 L173.95,180.91 L174.45,182.28 L174.96,180.40 L175.46,180.74 L175.96,180.58 L176.46,181.07 L176.96,181.87 L177.46,182.64 L177.96,181.07 L178.47,182.45 L178.97,180.60 L179.47,183.55 L179.97,181.29 L180.47,181.27 L180.97,181.94 L181.47,181.80 L181.97,181.58 L182.48,180.25 L182.98,182.50 L183.48,182.39 L183.98,181.43 L184.48,180.76 L184.98,182.03 L185.48,182.80 L185.99,180.30 L186.49,180.86 L186.99,181.94 L187.49,181.16 L187.99,181.58 L188.49,181.81 L188.99,182.60 L189.50,182.62 L190.00,182.82 L190.50,182.76 L191.00,181.43" fill="none" stroke="#f0a010" stroke-width="2.8" stroke-linejoin="round" />
<path d="M191.80,202.98 L192.30,204.60 L192.80,204.70 L193.30,204.73 L193.80,204.09 L194.30,205.64 L194.80,203.56 L195.30,205.04 L195.80,204.95 L196.31,205.15 L196.81,205.46 L197.31,204.95 L197.81,204.88 L198.31,204.54 L198.81,205.18 L199.31,204.99 L199.81,205.25 L200.31,204.13 L200.81,203.93 L201.31,204.88 L201.81,205.18 L202.31,204.00 L202.81,204.32 L203.31,204.73 L203.81,205.13 L204.32,205.17 L204.82,205.58 L205.32,204.93 L205.82,205.29 L206.32,205.81 L206.82,204.92 L207.32,206.43 L207.82,204.91 L208.32,205.22 L208.82,204.06 L209.32,205.13 L209.82,204.88 L210.32,204.84 L210.82,205.40 L211.32,204.60 L211.82,205.39 L212.33,204.11 L212.83,205.01 L213.33,206.11 L213.83,205.41 L214.33,205.70 L214.83,204.84 L215.33,204.62 L215.83,206.21 L216.33,206.01 L216.83,205.94 L217.33,205.45 L217.83,206.15 L218.33,205.24 L218.83,205.91 L219.33,205.90 L219.83,205.02 L220.34,206.39 L220.84,205.65 L221.34,206.07 L221.84,204.73 L222.34,204.93 L222.84,205.39 L223.34,205.96 L223.84,206.35 L224.34,205.91 L224.84,205.64 L225.34,206.06 L225.84,205.61 L226.34,205.85 L226.84,206.01 L227.34,205.39 L227.84,206.04 L228.35,204.97 L228.85,205.36 L229.35,206.24 L229.85,205.49 L230.35,206.16 L230.85,206.02 L231.35,205.79 L231.85,206.81 L232.35,206.21 L232.85,205.61 L233.35,205.66 L233.85,206.04 L234.35,205.11 L234.85,206.67 L235.35,205.97 L235.85,205.02 L236.36,205.45 L236.86,206.87 L237.36,206.18 L237.86,207.33 L238.36,206.09 L238.86,206.36 L239.36,207.23 L239.86,207.35 L240.36,205.56 L240.86,206.63 L241.36,205.51 L241.86,205.86 L242.36,205.12 L242.86,206.49 L243.36,205.56 L243.86,205.70 L244.37,207.29 L244.87,206.69 L245.37,206.08 L245.87,205.13 L246.37,206.37 L246.87,204.84 L247.37,205.66 L247.87,206.58 L248.37,206.67 L248.87,206.28 L249.37,206.67 L249.87,206.31 L250.37,205.74 L250.87,206.21 L251.37,207.21 L251.87,206.17 L252.37,206.38 L252.88,206.52 L253.38,205.39 L253.88,205.60 L254.38,205.28 L254.88,206.41 L255.38,205.98 L255.88,205.47 L256.38,205.45 L256.88,206.62 L257.38,206.68 L257.88,206.44 L258.38,206.21 L258.88,206.49 L259.38,206.20 L259.88,206.40 L260.38,205.95 L260.89,205.59 L261.39,205.75 L261.89,206.34 L262.39,207.17 L262.89,205.68 L263.39,205.53 L263.89,206.61 L264.39,206.61 L264.89,205.76 L265.39,205.83 L265.89,205.83 L266.39,206.37 L266.89,207.98 L267.39,205.75 L267.89,206.35 L268.39,205.88 L268.90,206.26 L269.40,206.41 L269.90,206.33 L270.40,205.58 L270.90,205.58 L271.40,206.71 L271.90,206.32 L272.40,206.27 L272.90,206.50 L273.40,205.72 L273.90,206.86 L274.40,205.68 L274.90,205.52 L275.40,205.57 L275.90,206.07 L276.40,207.70 L276.91,206.17 L277.41,206.32 L277.91,207.04 L278.41,205.92 L278.91,205.31 L279.41,205.77 L279.91,205.91 L280.41,205.17 L280.91,205.97 L281.41,206.19 L281.91,207.33 L282.41,206.59 L282.91,206.20 L283.41,205.82 L283.91,205.69 L284.41,205.06 L284.92,206.04 L285.42,204.79 L285.92,206.03 L286.42,207.09 L286.92,205.89 L287.42,206.36 L287.92,205.60 L288.42,205.01 L288.92,206.26 L289.42,205.97 L289.92,206.39 L290.42,206.19 L290.92,206.47 L291.42,205.84 L291.92,206.43 L292.42,207.02 L292.93,206.50 L293.43,206.99 L293.93,208.18 L294.43,208.23 L294.68,208.21 L294.93,208.18 L295.18,207.98 L295.43,207.78 L295.68,208.34 L295.93,208.90 L296.18,209.11 L296.43,209.13 L296.68,208.06 L296.93,206.99 L297.18,206.57 L297.43,206.15 L297.68,205.43 L297.93,204.72 L298.18,204.45 L298.43,204.19 L298.68,203.84 L298.93,203.53 L299.18,203.28 L299.43,203.03 L299.68,202.42 L299.93,201.81 L300.18,201.34 L300.43,200.87 L300.68,201.48 L300.93,202.08 L301.19,201.18 L301.44,200.28 L301.69,200.73 L301.94,201.56 L302.19,202.89 L302.44,204.21 L302.69,205.53 L302.94,206.84 L303.19,208.15 L303.44,209.45 L303.69,209.35 L303.94,208.92 L304.19,208.53 L304.44,208.14 L304.69,208.19 L304.94,208.23 L305.19,207.48 L305.44,206.72 L305.69,206.65 L305.94,206.58 L306.19,206.79 L306.44,206.92 L306.69,206.12 L306.94,205.31 L307.19,204.73 L307.44,204.16 L307.69,203.48 L307.94,202.81 L308.19,202.74 L308.44,202.83 L308.69,203.50 L308.94,204.16 L309.20,204.35 L309.45,204.53 L309.70,205.28 L309.95,206.02 L310.20,205.51 L310.45,205.01 L310.70,205.51 L310.95,206.01 L311.20,205.95 L311.45,205.84 L311.70,205.68 L311.95,205.52 L312.20,206.31 L312.45,207.11 L312.70,206.97 L312.95,206.84 L313.20,206.48 L313.45,206.12 L313.70,205.66 L313.95,205.21 L314.20,205.71 L314.45,206.21 L314.95,206.31 L315.45,205.66 L315.95,205.07 L316.45,207.06 L316.95,205.20 L317.46,206.63 L317.96,205.60 L318.46,205.75 L318.96,206.57 L319.46,205.30 L319.96,205.77 L320.46,205.93 L320.96,206.65 L321.46,206.54 L321.96,206.03 L322.46,205.22 L322.96,206.64 L323.46,205.69 L323.96,206.10 L324.46,204.84 L324.96,205.82 L325.47,206.22 L325.97,205.70 L326.47,206.27 L326.97,206.66 L327.47,206.83 L327.97,205.56 L328.47,204.99 L328.97,204.43 L329.47,205.68 L329.97,204.91 L330.47,206.13 L330.97,204.62 L331.47,206.47 L331.97,205.87 L332.47,204.89 L332.97,205.98 L333.48,206.15 L333.98,206.14 L334.48,205.79 L334.98,206.15 L335.48,206.09 L335.98,205.57 L336.48,205.82 L336.98,204.99 L337.48,206.20 L337.98,204.98 L338.48,205.63 L338.98,205.04 L339.48,206.27 L339.98,205.81 L340.48,205.09 L340.98,205.85 L341.49,205.56 L341.99,206.07 L342.49,205.69 L342.99,205.63 L343.49,205.51 L343.99,204.67 L344.49,205.91 L344.99,206.06 L345.49,205.05 L345.99,205.91 L346.49,206.29 L346.99,206.14 L347.49,206.36 L347.99,206.13 L348.49,205.35 L348.99,206.88 L349.50,205.64 L350.00,205.25 L350.50,206.45 L351.00,205.18 L351.50,206.10 L352.00,205.12 L352.50,206.27 L353.00,206.34 L353.50,205.31" fill="none" stroke="#f0a010" stroke-width="2.3" stroke-linejoin="round" />
<path d="M66.00,203.68 L66.50,204.47 L67.00,205.28 L67.50,203.95 L68.00,204.79 L68.50,204.22 L69.00,205.95 L69.50,205.78 L70.00,204.40 L70.50,204.26 L71.00,204.77 L71.50,204.34 L72.00,204.32 L72.50,204.02 L73.00,205.63 L73.50,206.00 L74.00,204.81 L74.50,203.31 L75.00,203.47 L75.50,204.80 L76.00,203.78 L76.50,204.05 L77.00,204.52 L77.50,204.14 L78.00,205.31 L78.50,203.53 L79.00,204.54 L79.50,203.64 L80.00,204.59 L80.50,203.17 L81.00,204.13 L81.50,205.24 L82.00,203.98 L82.50,204.67 L83.00,204.11 L83.50,204.60 L84.00,204.25 L84.50,204.88 L85.00,203.75 L85.50,204.36 L86.00,205.02 L86.50,204.01 L87.00,205.05 L87.50,205.15 L88.00,204.71 L88.50,203.10 L89.00,205.75 L89.50,203.69 L90.00,204.56 L90.50,204.87 L91.00,205.73 L91.50,204.63 L92.00,203.97 L92.50,205.04 L93.00,205.74 L93.50,203.92 L94.00,205.04 L94.50,204.60 L95.00,204.74 L95.50,204.44 L96.00,204.88 L96.50,205.05 L97.00,206.34 L97.50,203.33 L98.00,205.82 L98.50,204.74 L99.00,203.95 L99.50,203.63 L100.00,205.64 L100.50,203.50 L101.00,205.99 L101.50,203.70 L102.00,204.97 L102.50,204.02 L103.00,203.71 L103.50,204.26 L104.00,206.07 L104.50,204.84 L105.00,204.91 L105.50,205.40 L106.00,205.57 L106.50,204.08 L107.00,205.06 L107.50,204.79 L108.00,204.48 L108.50,203.24 L109.00,205.44 L109.50,205.30 L110.00,204.40 L110.50,207.34 L111.00,203.91 L111.50,204.59 L112.00,204.97 L112.50,204.23 L113.00,204.75 L113.50,205.85 L114.00,204.04 L114.50,203.35 L115.00,204.34 L115.50,204.10 L116.00,204.42 L116.50,204.28 L117.00,204.73 L117.50,206.41" fill="none" stroke="#0a0a0a" stroke-width="1.3" stroke-linejoin="round" />
<path d="M118.30,150.18 L118.80,91.31 L119.30,80.58 L119.80,75.54 L120.30,72.26 L120.80,70.04 L121.30,68.27 L121.80,67.38 L122.30,66.40 L122.80,65.64 L123.30,64.79 L123.80,64.20 L124.30,63.26 L124.80,63.46 L125.30,62.13 L125.80,62.26 L126.30,61.58 L126.80,61.22 L127.30,61.72 L127.80,60.94 L128.30,60.12 L128.80,60.40 L129.30,59.91 L129.80,60.50 L130.30,59.40 L130.80,59.52 L131.30,59.15 L131.80,58.96 L132.30,59.24 L132.80,59.22 L133.30,59.11 L133.80,58.49 L134.30,58.19 L134.80,58.44 L135.30,57.98 L135.80,58.53 L136.30,57.39 L136.80,57.91 L137.30,57.22 L137.80,57.20 L138.30,56.90 L138.80,56.90 L139.30,57.43 L139.80,56.92 L140.30,56.72 L140.80,56.58 L141.30,56.60 L141.80,56.69 L142.30,57.06 L142.80,56.70 L143.30,56.60 L143.80,56.51 L144.30,56.73 L144.80,56.10 L145.30,56.47 L145.80,55.92 L146.30,55.88 L146.80,56.40 L147.30,56.15 L147.80,56.02 L148.30,55.70 L148.80,56.14 L149.30,56.68 L149.80,56.09 L150.30,56.05 L150.80,55.78 L151.30,56.17 L151.80,55.59 L152.30,56.69 L152.80,55.73 L153.30,55.63 L153.80,55.98 L154.30,55.15 L154.80,55.26 L155.30,55.21 L155.80,55.34 L156.30,55.98 L156.80,55.03 L157.30,56.16 L157.80,55.62 L158.30,55.79 L158.80,55.30 L159.30,54.68 L159.80,54.76 L160.30,55.59 L160.80,55.01 L161.30,55.21 L161.80,55.17 L162.30,55.55 L162.80,55.47 L163.30,55.12 L163.80,55.02 L164.30,55.31 L164.80,54.59 L165.30,54.70 L165.80,54.47 L166.30,54.59 L166.80,54.36 L167.30,55.16 L167.80,54.76 L168.30,55.44 L168.80,54.71 L169.30,54.90 L169.80,54.63 L170.30,55.03 L170.80,54.97 L171.30,54.64 L171.80,54.85 L172.30,54.47 L172.80,54.52 L173.30,54.35 L173.80,54.99 L174.30,54.35 L174.80,54.29 L175.30,54.98 L175.80,54.60 L176.30,54.16 L176.80,54.23 L177.30,54.40 L177.80,54.21 L178.30,54.54 L178.80,54.15 L179.30,54.14 L179.80,54.80 L180.30,55.10 L180.80,54.97 L181.30,54.38 L181.80,54.69 L182.30,54.43 L182.80,55.10 L183.30,54.58 L183.80,54.64 L184.30,55.11 L184.80,54.89 L185.30,54.50 L185.80,54.11 L186.30,54.32 L186.80,53.96 L187.30,55.01 L187.80,54.37 L188.30,54.66 L188.80,54.49 L189.30,54.16 L189.80,54.51 L190.30,54.54 L190.80,54.39 L191.50,54.40 L191.60,76.00 L191.80,75.19 L192.30,76.26 L192.80,76.88 L193.30,78.65 L193.80,80.24 L194.30,82.02 L194.80,84.36 L195.30,85.43 L195.80,87.62 L196.30,89.74 L196.80,91.82 L197.30,92.75 L197.80,93.48 L198.30,95.53 L198.80,96.17 L199.30,96.96 L199.80,98.25 L200.29,99.92 L200.79,100.65 L201.29,101.04 L201.79,101.86 L202.29,103.43 L202.79,103.67 L203.29,104.83 L203.79,106.19 L204.29,106.40 L204.79,107.38 L205.29,108.64 L205.79,109.30 L206.29,110.76 L206.79,111.09 L207.29,112.14 L207.79,112.97 L208.29,113.28 L208.79,114.61 L209.29,115.56 L209.79,115.74 L210.29,116.33 L210.79,117.18 L211.29,118.54 L211.79,118.69 L212.29,119.20 L212.79,119.58 L213.29,120.72 L213.79,120.87 L214.29,122.38 L214.79,122.35 L215.29,122.78 L215.79,124.27 L216.28,124.62 L216.78,125.26 L217.28,125.30 L217.78,126.53 L218.28,126.91 L218.78,127.41 L219.28,128.24 L219.78,128.84 L220.28,128.94 L220.78,130.09 L221.28,130.21 L221.78,130.47 L222.28,131.25 L222.78,131.60 L223.28,132.58 L223.78,132.57 L224.28,132.89 L224.78,133.41 L225.28,134.19 L225.78,133.72 L226.28,134.27 L226.78,135.12 L227.28,135.83 L227.78,136.33 L228.28,136.39 L228.78,136.33 L229.28,136.52 L229.78,137.68 L230.28,137.98 L230.78,138.66 L231.28,139.32 L231.78,139.00 L232.28,140.25 L232.77,139.94 L233.27,140.41 L233.77,140.92 L234.27,140.49 L234.77,142.51 L235.27,141.83 L235.77,142.74 L236.27,142.41 L236.77,142.40 L237.27,142.96 L237.77,143.27 L238.27,143.31 L238.77,143.39 L239.27,144.99 L239.77,144.76 L240.27,145.40 L240.77,146.14 L241.27,145.77 L241.77,146.29 L242.27,146.98 L242.77,147.03 L243.27,147.25 L243.77,147.08 L244.27,147.37 L244.77,148.28 L245.27,148.18 L245.77,148.89 L246.27,149.08 L246.77,149.22 L247.27,149.58 L247.77,149.66 L248.27,150.28 L248.76,149.25 L249.26,150.03 L249.76,150.68 L250.26,151.44 L250.76,150.38 L251.26,151.06 L251.76,151.67 L252.26,152.23 L252.76,151.79 L253.26,151.41 L253.76,152.56 L254.26,152.96 L254.76,153.06 L255.26,153.28 L255.76,153.56 L256.26,153.26 L256.76,153.99 L257.26,154.31 L257.76,154.21 L258.26,154.09 L258.76,154.40 L259.26,155.11 L259.76,154.80 L260.26,155.76 L260.76,155.56 L261.26,155.58 L261.76,156.21 L262.26,156.08 L262.76,157.12 L263.26,157.05 L263.76,156.41 L264.26,156.75 L264.76,156.31 L265.25,157.59 L265.75,157.65 L266.25,157.75 L266.75,157.31 L267.25,158.66 L267.75,158.73 L268.25,158.26 L268.75,158.37 L269.25,158.61 L269.75,159.29 L270.25,159.30 L270.75,159.30 L271.25,159.42 L271.75,159.17 L272.25,159.64 L272.75,159.39 L273.25,160.62 L273.75,160.39 L274.25,160.59 L274.75,160.60 L275.25,160.56 L275.75,160.32 L276.25,160.96 L276.75,161.27 L277.25,161.48 L277.75,162.17 L278.25,162.36 L278.75,161.80 L279.25,162.03 L279.75,162.94 L280.25,161.90 L280.75,162.85 L281.24,163.46 L281.74,163.43 L282.24,163.42 L282.74,164.07 L283.24,163.81 L283.74,163.94 L284.24,164.58 L284.74,164.66 L285.24,165.15 L285.74,165.60 L286.24,165.88 L286.74,164.62 L287.24,165.89 L287.74,166.17 L288.24,166.47 L288.74,166.19 L289.24,166.36 L289.74,166.78 L290.24,166.47 L290.74,166.26 L291.24,167.30 L291.74,167.39 L292.24,166.75 L292.74,167.70 L293.24,166.99 L293.74,167.53 L294.24,167.17 L294.49,167.70 L294.74,168.22 L294.99,168.35 L295.24,168.48 L295.49,168.79 L295.74,169.10 L295.99,169.54 L296.24,168.56 L296.49,167.38 L296.74,166.21 L296.99,164.67 L297.24,172.53 L297.48,181.77 L297.73,182.26 L297.98,174.31 L298.23,167.44 L298.48,167.58 L298.73,167.72 L298.98,168.25 L299.23,168.78 L299.48,169.49 L299.73,170.21 L299.98,170.02 L300.23,169.83 L300.48,169.95 L300.73,170.06 L300.98,170.47 L301.23,170.91 L301.48,171.42 L301.73,171.93 L301.98,172.28 L302.23,172.64 L302.48,172.93 L302.73,173.22 L302.98,173.65 L303.23,174.08 L303.48,174.59 L303.73,176.03 L303.98,176.98 L304.23,177.94 L304.48,179.33 L304.73,180.72 L304.98,181.97 L305.23,183.22 L305.48,183.47 L305.73,181.28 L305.98,179.18 L306.23,177.09 L306.48,174.67 L306.73,172.74 L306.98,170.76 L307.23,168.78 L307.48,167.43 L307.73,166.09 L307.98,165.22 L308.23,164.65 L308.48,163.70 L308.73,162.75 L308.98,162.38 L309.23,162.20 L309.48,163.01 L309.73,163.82 L309.98,164.31 L310.23,164.80 L310.48,165.98 L310.73,166.47 L310.98,166.55 L311.23,166.64 L311.48,166.99 L311.73,167.33 L311.98,167.49 L312.23,167.64 L312.48,168.08 L312.73,168.51 L312.98,168.83 L313.23,168.96 L313.48,168.49 L313.72,168.01 L313.97,168.58 L314.22,169.16 L314.72,168.88 L315.22,169.39 L315.72,168.98 L316.22,168.28 L316.72,169.22 L317.22,169.50 L317.72,169.61 L318.22,169.52 L318.72,169.23 L319.22,169.39 L319.72,169.53 L320.22,169.55 L320.72,170.08 L321.22,170.32 L321.72,170.59 L322.22,170.53 L322.72,170.44 L323.22,170.84 L323.72,170.70 L324.22,170.42 L324.72,171.27 L325.22,171.01 L325.72,171.10 L326.22,171.72 L326.72,171.56 L327.22,171.73 L327.72,172.35 L328.22,172.16 L328.72,172.15 L329.22,171.98 L329.72,171.27 L330.21,171.21 L330.71,171.92 L331.21,173.32 L331.71,172.47 L332.21,172.48 L332.71,172.99 L333.21,173.35 L333.71,173.17 L334.21,173.37 L334.71,173.41 L335.21,173.24 L335.71,173.28 L336.21,172.73 L336.71,173.71 L337.21,173.83 L337.71,174.07 L338.21,174.45 L338.71,173.65 L339.21,173.83 L339.71,174.68 L340.21,173.89 L340.71,174.71 L341.21,174.75 L341.71,175.05 L342.21,174.64 L342.71,175.31 L343.21,174.72 L343.71,175.61 L344.21,175.41 L344.71,175.36 L345.21,175.70 L345.71,176.25 L346.20,175.45 L346.70,175.90 L347.20,175.60 L347.70,176.57 L348.20,176.59 L348.70,176.06 L349.20,176.43 L349.70,176.20 L350.20,176.76 L350.70,177.26 L351.20,176.75 L351.70,177.09 L352.20,176.54 L352.70,177.96 L353.20,176.95 L353.70,177.57 L354.20,177.49" fill="none" stroke="#0a0a0a" stroke-width="1.75" stroke-linejoin="round" />
<path d="M118.30,150.30 L118.80,96.48 L119.30,86.48 L119.80,80.97 L120.30,79.05 L120.80,76.67 L121.30,76.77 L121.80,75.89 L122.30,75.46 L122.80,73.95 L123.30,73.46 L123.80,73.27 L124.30,73.12 L124.80,71.95 L125.30,72.34 L125.80,71.18 L126.30,71.49 L126.80,70.99 L127.30,70.78 L127.80,70.45 L128.30,70.48 L128.80,69.43 L129.30,70.18 L129.80,69.45 L130.30,69.39 L130.80,69.03 L131.30,69.38 L131.80,69.14 L132.30,68.74 L132.80,68.41 L133.30,69.22 L133.80,68.39 L134.30,68.54 L134.80,68.13 L135.30,68.48 L135.80,68.48 L136.30,68.28 L136.80,68.39 L137.30,68.33 L137.80,66.95 L138.30,67.39 L138.80,67.14 L139.30,67.72 L139.80,67.54 L140.30,66.98 L140.80,67.89 L141.30,67.35 L141.80,67.80 L142.30,66.99 L142.80,67.45 L143.30,67.55 L143.80,66.96 L144.30,67.16 L144.80,67.01 L145.30,66.85 L145.80,67.06 L146.30,66.26 L146.80,67.13 L147.30,66.90 L147.80,66.42 L148.30,67.06 L148.80,66.13 L149.30,66.39 L149.80,67.17 L150.30,66.94 L150.80,66.52 L151.30,67.22 L151.80,66.61 L152.30,66.64 L152.80,66.71 L153.30,66.91 L153.80,66.85 L154.30,66.34 L154.80,66.51 L155.30,66.85 L155.80,67.02 L156.30,66.72 L156.80,66.93 L157.30,66.91 L157.80,66.26 L158.30,66.53 L158.80,67.32 L159.30,66.50 L159.80,66.83 L160.30,66.12 L160.80,67.60 L161.30,66.29 L161.80,66.77 L162.30,66.71 L162.80,65.99 L163.30,66.44 L163.80,66.87 L164.30,66.26 L164.80,66.79 L165.30,66.34 L165.80,66.85 L166.30,67.19 L166.80,66.03 L167.30,66.50 L167.80,66.13 L168.30,66.02 L168.80,66.33 L169.30,66.38 L169.80,66.45 L170.30,66.42 L170.80,65.51 L171.30,66.08 L171.80,65.51 L172.30,66.33 L172.80,66.51 L173.30,66.31 L173.80,66.03 L174.30,66.33 L174.80,66.48 L175.30,66.39 L175.80,66.01 L176.30,66.08 L176.80,66.64 L177.30,66.20 L177.80,66.26 L178.30,66.22 L178.80,66.41 L179.30,66.39 L179.80,66.10 L180.30,66.08 L180.80,66.10 L181.30,66.25 L181.80,66.40 L182.30,65.72 L182.80,66.72 L183.30,65.84 L183.80,66.23 L184.30,65.83 L184.80,66.02 L185.30,66.17 L185.80,66.38 L186.30,66.28 L186.80,66.48 L187.30,66.09 L187.80,66.74 L188.30,65.65 L188.80,66.28 L189.30,66.30 L189.80,66.04 L190.30,66.18 L190.80,65.90 L191.50,66.30 L191.60,82.00 L191.80,81.15 L192.30,82.48 L192.80,84.63 L193.30,86.32 L193.80,88.27 L194.30,90.14 L194.80,91.74 L195.30,94.28 L195.80,96.14 L196.30,97.36 L196.80,98.54 L197.30,100.08 L197.80,102.07 L198.30,102.30 L198.80,104.30 L199.30,105.22 L199.80,106.79 L200.29,107.04 L200.79,108.86 L201.29,109.33 L201.79,110.96 L202.29,112.41 L202.79,112.65 L203.29,114.43 L203.79,114.67 L204.29,115.88 L204.79,117.43 L205.29,117.85 L205.79,118.57 L206.29,118.38 L206.79,119.86 L207.29,121.19 L207.79,121.62 L208.29,122.38 L208.79,123.78 L209.29,123.86 L209.79,124.77 L210.29,126.27 L210.79,127.55 L211.29,127.23 L211.79,128.30 L212.29,129.18 L212.79,129.41 L213.29,130.01 L213.79,131.15 L214.29,131.21 L214.79,131.95 L215.29,133.57 L215.79,132.69 L216.28,134.76 L216.78,135.11 L217.28,134.87 L217.78,136.09 L218.28,136.24 L218.78,136.31 L219.28,136.96 L219.78,137.39 L220.28,138.77 L220.78,138.18 L221.28,138.62 L221.78,139.44 L222.28,139.80 L222.78,141.37 L223.28,140.80 L223.78,141.18 L224.28,141.62 L224.78,142.07 L225.28,142.05 L225.78,143.30 L226.28,143.44 L226.78,144.05 L227.28,145.08 L227.78,145.45 L228.28,145.79 L228.78,145.54 L229.28,146.28 L229.78,146.53 L230.28,147.02 L230.78,147.49 L231.28,147.73 L231.78,148.74 L232.28,148.43 L232.77,149.64 L233.27,149.64 L233.77,149.79 L234.27,150.38 L234.77,150.42 L235.27,150.78 L235.77,151.64 L236.27,151.48 L236.77,153.59 L237.27,151.78 L237.77,152.05 L238.27,153.40 L238.77,153.02 L239.27,153.28 L239.77,153.42 L240.27,154.05 L240.77,154.14 L241.27,155.04 L241.77,154.81 L242.27,155.35 L242.77,155.90 L243.27,156.04 L243.77,156.06 L244.27,156.14 L244.77,156.26 L245.27,156.53 L245.77,157.72 L246.27,157.50 L246.77,157.85 L247.27,158.37 L247.77,158.71 L248.27,159.27 L248.76,159.33 L249.26,159.33 L249.76,159.24 L250.26,160.14 L250.76,160.19 L251.26,160.47 L251.76,160.40 L252.26,161.11 L252.76,161.57 L253.26,161.41 L253.76,161.97 L254.26,161.96 L254.76,162.04 L255.26,162.87 L255.76,162.50 L256.26,162.93 L256.76,162.45 L257.26,163.59 L257.76,163.30 L258.26,163.61 L258.76,163.71 L259.26,164.18 L259.76,164.04 L260.26,164.05 L260.76,164.73 L261.26,164.97 L261.76,164.87 L262.26,165.53 L262.76,165.89 L263.26,165.38 L263.76,166.05 L264.26,166.25 L264.76,165.67 L265.25,166.00 L265.75,165.82 L266.25,167.44 L266.75,166.93 L267.25,167.16 L267.75,167.77 L268.25,168.35 L268.75,168.12 L269.25,168.78 L269.75,168.87 L270.25,170.04 L270.75,168.40 L271.25,168.81 L271.75,168.89 L272.25,169.64 L272.75,169.27 L273.25,170.11 L273.75,169.26 L274.25,170.60 L274.75,170.61 L275.25,171.20 L275.75,171.08 L276.25,171.07 L276.75,171.36 L277.25,170.61 L277.75,171.51 L278.25,171.87 L278.75,172.71 L279.25,172.24 L279.75,171.77 L280.25,173.48 L280.75,172.44 L281.24,173.06 L281.74,172.86 L282.24,172.08 L282.74,174.02 L283.24,173.74 L283.74,174.47 L284.24,174.14 L284.74,174.86 L285.24,175.47 L285.74,175.31 L286.24,175.22 L286.74,175.28 L287.24,175.69 L287.74,175.36 L288.24,176.12 L288.74,176.52 L289.24,175.84 L289.74,176.09 L290.24,177.47 L290.74,176.87 L291.24,177.73 L291.74,177.34 L292.24,177.49 L292.74,177.35 L293.24,178.03 L293.74,177.95 L294.24,177.81 L294.49,177.84 L294.74,177.88 L294.99,178.41 L295.24,178.93 L295.49,179.57 L295.74,180.20 L295.99,180.42 L296.24,177.70 L296.49,175.29 L296.74,172.87 L296.99,170.12 L297.24,176.21 L297.48,182.91 L297.73,184.21 L297.98,180.92 L298.23,178.10 L298.48,178.13 L298.73,178.16 L298.98,178.31 L299.23,178.46 L299.48,178.53 L299.73,178.60 L299.98,178.45 L300.23,178.29 L300.48,178.61 L300.73,178.92 L300.98,179.03 L301.23,179.24 L301.48,179.64 L301.73,180.05 L301.98,180.00 L302.23,179.95 L302.48,180.07 L302.73,180.18 L302.98,180.95 L303.23,181.72 L303.48,181.71 L303.73,182.01 L303.98,182.62 L304.23,183.22 L304.48,183.87 L304.73,184.51 L304.98,184.67 L305.23,184.83 L305.48,185.10 L305.73,184.25 L305.98,182.96 L306.23,181.67 L306.48,180.28 L306.73,178.71 L306.98,177.65 L307.23,176.60 L307.48,175.26 L307.73,173.92 L307.98,173.50 L308.23,173.40 L308.48,173.08 L308.73,172.75 L308.98,172.59 L309.23,172.56 L309.48,173.37 L309.73,174.17 L309.98,175.54 L310.23,176.91 L310.48,177.32 L310.73,176.96 L310.98,177.48 L311.23,178.00 L311.48,178.02 L311.73,178.04 L311.98,178.17 L312.23,178.30 L312.48,178.57 L312.73,178.83 L312.98,178.84 L313.23,178.75 L313.48,178.50 L313.72,178.25 L313.97,178.22 L314.22,178.18 L314.72,178.33 L315.22,178.81 L315.72,179.07 L316.22,179.13 L316.72,179.36 L317.22,179.50 L317.72,179.34 L318.22,179.03 L318.72,179.49 L319.22,179.51 L319.72,180.53 L320.22,180.34 L320.72,179.70 L321.22,180.09 L321.72,180.74 L322.22,180.42 L322.72,180.85 L323.22,180.63 L323.72,180.74 L324.22,180.98 L324.72,180.58 L325.22,180.64 L325.72,180.88 L326.22,181.55 L326.72,181.34 L327.22,180.81 L327.72,181.83 L328.22,181.72 L328.72,182.00 L329.22,181.85 L329.72,181.86 L330.21,181.16 L330.71,182.16 L331.21,181.45 L331.71,182.19 L332.21,183.10 L332.71,182.58 L333.21,182.75 L333.71,182.52 L334.21,182.95 L334.71,182.44 L335.21,182.97 L335.71,183.30 L336.21,183.21 L336.71,182.98 L337.21,182.61 L337.71,183.43 L338.21,183.46 L338.71,183.68 L339.21,184.23 L339.71,183.45 L340.21,184.59 L340.71,183.86 L341.21,185.53 L341.71,185.18 L342.21,185.06 L342.71,184.61 L343.21,185.14 L343.71,185.28 L344.21,185.10 L344.71,185.26 L345.21,186.05 L345.71,185.82 L346.20,186.66 L346.70,186.52 L347.20,186.17 L347.70,186.58 L348.20,186.54 L348.70,186.13 L349.20,186.99 L349.70,186.59 L350.20,187.63 L350.70,187.62 L351.20,186.40 L351.70,187.56 L352.20,187.24 L352.70,188.48 L353.20,187.92 L353.70,188.24 L354.20,188.52" fill="none" stroke="#0a0a0a" stroke-width="1.75" stroke-linejoin="round" />
<line x1="297.50" y1="161.00" x2="297.50" y2="188.00" stroke="#0a0a0a" stroke-width="1.3" />
<line x1="191.50" y1="54.40" x2="191.50" y2="196.00" stroke="#0a0a0a" stroke-width="1.0" />
<path d="M66.00,205.99 L66.50,207.28 L67.00,205.92 L67.50,205.64 L68.00,204.78 L68.50,206.11 L69.00,206.31 L69.50,207.61 L70.00,204.94 L70.50,205.58 L71.00,205.79 L71.50,205.89 L72.00,205.99 L72.50,205.52 L73.00,205.98 L73.50,205.44 L74.00,205.44 L74.50,206.21 L75.00,206.80 L75.50,205.67 L76.00,204.97 L76.50,205.77 L77.00,206.10 L77.50,206.07 L78.00,206.85 L78.50,205.49 L79.00,205.96 L79.50,205.74 L80.00,207.18 L80.50,206.36 L81.00,205.99 L81.50,205.67 L82.00,206.72 L82.50,205.36 L83.00,206.89 L83.50,206.84 L84.00,206.59 L84.50,206.33 L85.00,206.26 L85.50,206.74 L86.00,206.13 L86.50,206.86 L87.00,205.39 L87.50,207.09 L88.00,206.22 L88.50,207.04 L89.00,206.53 L89.50,206.00 L90.00,206.25 L90.50,205.95 L91.00,206.83 L91.50,205.49 L92.00,205.49 L92.50,206.93 L93.00,206.60 L93.50,205.79 L94.00,206.75 L94.50,205.61 L95.00,206.45 L95.50,205.60 L96.00,206.86 L96.50,206.39 L97.00,206.59 L97.50,205.17 L98.00,205.76 L98.50,205.53 L99.00,206.16 L99.50,206.45 L100.00,205.42 L100.50,206.16 L101.00,206.39 L101.50,206.72 L102.00,206.40 L102.50,206.62 L103.00,207.26 L103.50,205.52 L104.00,207.23 L104.50,205.69 L105.00,206.51 L105.50,206.07 L106.00,206.71 L106.50,206.42 L107.00,207.31 L107.50,205.62 L108.00,207.21 L108.50,206.90 L109.00,207.34 L109.50,206.27 L110.00,207.49 L110.50,206.80 L111.00,207.06 L111.50,206.73 L112.00,207.06 L112.50,207.52 L113.00,206.53 L113.50,205.55 L114.00,206.78 L114.50,207.13 L115.00,206.29 L115.50,206.45 L116.00,205.78 L116.50,207.01 L117.00,206.09" fill="none" stroke="#0a78c2" stroke-width="2.2" stroke-linejoin="round" />
<path d="M119.00,193.16 L119.50,193.25 L120.00,193.65 L120.50,193.37 L121.00,193.33 L121.50,192.88 L122.00,193.76 L122.50,191.97 L123.00,192.36 L123.50,193.70 L124.00,192.59 L124.50,192.43 L125.00,192.64 L125.50,193.35 L126.00,193.48 L126.50,193.32 L127.00,192.80 L127.50,192.94 L128.00,193.34 L128.50,192.94 L129.00,193.35 L129.50,192.52 L130.00,193.64 L130.50,193.21 L131.00,193.14 L131.50,192.93 L132.00,192.16 L132.50,193.80 L133.00,192.97 L133.50,193.23 L134.00,193.23 L134.50,193.69 L135.00,193.21 L135.50,194.15 L136.00,193.64 L136.50,193.15 L137.00,193.10 L137.50,194.52 L138.00,192.98 L138.50,193.18 L139.00,192.91 L139.50,193.51 L140.00,193.40 L140.50,194.03 L141.00,193.03 L141.50,192.85 L142.00,194.30 L142.50,192.30 L143.00,193.53 L143.50,192.74 L144.00,193.82 L144.50,193.21 L145.00,193.91 L145.50,193.41 L146.00,193.75 L146.50,193.09 L147.00,193.64 L147.50,193.78 L148.00,193.78 L148.50,194.19 L149.00,194.15 L149.50,194.99 L150.00,193.17 L150.50,193.98 L151.00,193.79 L151.50,194.08 L152.00,194.48 L152.50,194.80 L153.00,194.60 L153.50,193.48 L154.00,193.52 L154.50,193.48 L155.00,193.93 L155.50,193.28 L156.00,193.89 L156.50,193.27 L157.00,193.90 L157.50,194.03 L158.00,194.61 L158.50,194.06 L159.00,193.97 L159.50,194.42 L160.00,193.78 L160.50,194.76 L161.00,194.19 L161.50,194.46 L162.00,194.12 L162.50,194.29 L163.00,194.13 L163.50,194.04 L164.00,194.38 L164.50,194.72 L165.00,193.74 L165.50,194.43 L166.00,194.93 L166.50,194.33 L167.00,195.02 L167.50,194.86 L168.00,194.07 L168.50,194.29 L169.00,195.23 L169.50,195.16 L170.00,194.86 L170.50,194.75 L171.00,193.64 L171.50,194.71 L172.00,193.98 L172.50,194.72 L173.00,194.80 L173.50,194.79 L174.00,195.12 L174.50,194.97 L175.00,194.39 L175.50,194.77 L176.00,195.44 L176.50,195.98 L177.00,194.56 L177.50,195.31 L178.00,195.65 L178.50,195.40 L179.00,195.12 L179.50,195.79 L180.00,196.10 L180.50,195.38 L181.00,194.95 L181.50,194.72 L182.00,195.73 L182.50,196.05 L183.00,195.35 L183.50,195.51 L184.00,195.42 L184.50,196.51 L185.00,195.16 L185.50,195.97 L186.00,195.38 L186.50,196.03 L187.00,195.97 L187.50,196.33 L188.00,195.72 L188.50,195.52 L189.00,195.63 L189.50,195.45 L190.00,196.37 L190.50,195.95 L191.00,195.23" fill="none" stroke="#0a78c2" stroke-width="2.0" stroke-linejoin="round" />
<path d="M192.00,209.15 L192.50,208.71 L193.00,207.95 L193.50,208.83 L194.00,208.99 L194.50,208.65 L195.00,208.70 L195.50,208.34 L196.00,208.32 L196.50,210.25 L197.00,208.28 L197.50,209.46 L198.00,209.41 L198.50,209.14 L199.00,207.89 L199.50,209.83 L200.00,208.72 L200.50,210.50 L201.00,208.92 L201.50,208.51 L202.00,209.94 L202.50,209.00 L203.00,209.39 L203.50,209.83 L204.00,208.69 L204.50,208.48 L205.00,209.29 L205.50,209.92 L206.00,209.23 L206.50,209.10 L207.00,210.20 L207.50,210.00 L208.00,209.37 L208.50,210.68 L209.00,209.12 L209.50,209.58 L210.00,208.88 L210.50,209.80 L211.00,210.11 L211.50,209.37 L212.00,208.60 L212.50,209.66 L213.00,209.40 L213.50,209.74 L214.00,208.76 L214.50,209.72 L215.00,209.09 L215.50,210.07 L216.00,209.60 L216.50,209.44 L217.00,209.66 L217.50,209.99 L218.00,210.57 L218.50,209.49 L219.00,209.75 L219.50,209.18 L220.00,209.66 L220.50,208.80 L221.00,209.48 L221.50,210.58 L222.00,209.68 L222.50,209.46 L223.00,209.42 L223.50,209.15 L224.00,210.12 L224.50,209.46 L225.00,209.27 L225.50,210.80 L226.00,210.39 L226.50,209.92 L227.00,209.35 L227.50,210.59 L228.00,210.96 L228.50,209.78 L229.00,210.03 L229.50,210.14 L230.00,210.72 L230.50,210.19 L231.00,210.05 L231.50,209.69 L232.00,209.53 L232.50,210.09 L233.00,210.02 L233.50,209.71 L234.00,209.29 L234.50,209.81 L235.00,209.61 L235.50,210.01 L236.00,210.55 L236.50,210.45 L237.00,210.78 L237.50,208.83 L238.00,210.81 L238.50,209.19 L239.00,210.21 L239.50,209.91 L240.00,210.33 L240.50,209.39 L241.00,210.36 L241.50,208.91 L242.00,210.71 L242.50,209.34 L243.00,211.35 L243.50,209.66 L244.00,209.90 L244.50,209.87 L245.00,210.32 L245.50,209.90 L246.00,209.84 L246.50,209.65 L247.00,209.96 L247.50,210.69 L248.00,209.72 L248.50,210.12 L249.00,209.76 L249.50,209.87 L250.00,210.27 L250.50,210.23 L251.00,209.36 L251.50,210.34 L252.00,210.03 L252.50,210.23 L253.00,211.50 L253.50,210.13 L254.00,209.09 L254.50,210.86 L255.00,209.55 L255.50,209.71 L256.00,209.75 L256.50,210.50 L257.00,209.11 L257.50,209.75 L258.00,209.58 L258.50,210.51 L259.00,210.27 L259.50,210.07 L260.00,210.10 L260.50,209.56 L261.00,209.42 L261.50,210.67 L262.00,209.80 L262.50,210.14 L263.00,209.78 L263.50,209.36 L264.00,209.36 L264.50,210.41 L265.00,211.38 L265.50,210.13 L266.00,211.13 L266.50,210.08 L267.00,210.15 L267.50,210.51 L268.00,209.58 L268.50,210.17 L269.00,209.94 L269.50,210.51 L270.00,208.96 L270.50,210.86 L271.00,210.81 L271.50,210.42 L272.00,210.44 L272.50,210.14 L273.00,210.09 L273.50,210.42 L274.00,209.45 L274.50,209.75 L275.00,209.97 L275.50,211.60 L276.00,210.04 L276.50,211.47 L277.00,209.87 L277.50,208.25 L278.00,210.18 L278.50,210.35 L279.00,211.43 L279.50,209.79 L280.00,210.57 L280.50,209.79 L281.00,210.53 L281.50,210.65 L282.00,209.76 L282.50,210.90 L283.00,210.63 L283.50,209.82 L284.00,210.95 L284.50,209.90 L285.00,210.69 L285.50,210.05 L286.00,209.86 L286.50,211.09 L287.00,211.47 L287.50,210.96 L288.00,210.76 L288.50,210.16 L289.00,211.69 L289.50,210.47 L290.00,210.67 L290.50,209.98 L291.00,209.66 L291.50,210.98 L292.00,211.46 L292.50,210.78 L293.00,211.41 L293.50,212.03 L294.00,212.42 L294.25,212.29 L294.50,212.15 L294.75,212.28 L295.00,212.41 L295.25,212.95 L295.50,213.49 L295.75,214.00 L296.00,214.52 L296.25,215.37 L296.50,216.22 L296.75,216.63 L297.00,217.04 L297.25,218.42 L297.50,219.81 L297.75,219.25 L298.00,217.18 L298.25,216.27 L298.50,215.35 L298.75,214.35 L299.00,213.34 L299.25,213.63 L299.50,213.92 L299.75,214.21 L300.00,214.50 L300.25,214.43 L300.50,214.36 L300.75,214.59 L301.00,214.83 L301.25,214.24 L301.50,213.65 L301.75,213.96 L302.00,214.27 L302.25,213.44 L302.50,212.62 L302.75,212.48 L303.00,212.34 L303.25,212.13 L303.50,211.91 L303.75,211.14 L304.00,210.36 L304.25,209.41 L304.50,208.46 L304.75,208.33 L305.00,208.19 L305.25,207.83 L305.50,207.47 L305.75,207.41 L306.00,207.35 L306.25,206.45 L306.50,205.54 L306.75,204.70 L307.00,203.86 L307.25,205.96 L307.50,208.06 L307.75,208.25 L308.00,208.44 L308.25,209.12 L308.50,209.80 L308.75,210.28 L309.00,210.75 L309.25,210.51 L309.50,210.26 L309.75,210.50 L310.00,210.74 L310.25,210.71 L310.50,210.68 L310.75,210.32 L311.00,209.96 L311.25,210.26 L311.50,210.57 L311.75,210.38 L312.00,210.18 L312.25,209.74 L312.50,209.30 L312.75,210.31 L313.00,211.32 L313.25,210.24 L313.50,209.16 L313.75,210.04 L314.00,210.91 L314.50,209.94 L315.00,208.90 L315.50,209.69 L316.00,210.96 L316.50,209.33 L317.00,209.90 L317.50,211.06 L318.00,209.58 L318.50,210.62 L319.00,209.32 L319.50,210.16 L320.00,210.03 L320.50,210.17 L321.00,209.74 L321.50,210.95 L322.00,209.17 L322.50,210.96 L323.00,210.13 L323.50,209.66 L324.00,210.47 L324.50,210.56 L325.00,210.17 L325.50,209.92 L326.00,211.32 L326.50,210.27 L327.00,209.54 L327.50,211.29 L328.00,210.66 L328.50,210.18 L329.00,209.50 L329.50,210.73 L330.00,209.86 L330.50,209.92 L331.00,209.86 L331.50,209.28 L332.00,211.38 L332.50,210.33 L333.00,210.68 L333.50,209.72 L334.00,210.93 L334.50,208.29 L335.00,209.74 L335.50,208.39 L336.00,210.21 L336.50,210.46 L337.00,210.34 L337.50,209.18 L338.00,209.99 L338.50,209.87 L339.00,210.17 L339.50,210.70 L340.00,209.61 L340.50,210.47 L341.00,210.41 L341.50,210.49 L342.00,209.49 L342.50,209.53 L343.00,209.69 L343.50,209.28 L344.00,209.46 L344.50,209.41 L345.00,210.11 L345.50,209.54 L346.00,210.32 L346.50,209.59 L347.00,210.97 L347.50,209.89 L348.00,209.84 L348.50,209.11 L349.00,210.38 L349.50,210.55 L350.00,209.67 L350.50,210.28 L351.00,210.86 L351.50,209.31 L352.00,210.29 L352.50,209.67 L353.00,209.73 L353.50,209.12" fill="none" stroke="#0a78c2" stroke-width="2.6" stroke-linejoin="round" />
<line x1="191.80" y1="195.50" x2="191.80" y2="239.00" stroke="#0a78c2" stroke-width="1.0" />
<rect x="115.6" y="15" width="3.5" height="224.25" fill="#0ba478"/>
<rect x="115.6" y="95" width="1.6" height="33" fill="#9c9b45"/>
<line x1="118.40" y1="100.00" x2="118.40" y2="130.00" stroke="#0a0a0a" stroke-width="1.1" />
<rect x="115.8" y="128" width="2.9" height="39" fill="#153d33"/>
<rect x="116.1" y="167" width="2.9" height="41" fill="#1a84aa"/>
<text x="0" y="0" font-size="15" text-anchor="middle" transform="translate(29.60,145.40) rotate(-90)" >Response</text>
<rect x="395" y="52.7" width="20" height="20" fill="#06a474"/>
<text x="423.00" y="73.60" font-size="15" text-anchor="start" >sCR1</text>
<rect x="395" y="80.56" width="20" height="20" fill="#050505"/>
<text x="423.00" y="101.24" font-size="15" text-anchor="start" >CCP1-3</text>
<rect x="395" y="108.42" width="20" height="20" fill="#d47daa"/>
<text x="423.00" y="128.88" font-size="15" text-anchor="start" >CCP10-11</text>
<rect x="395" y="136.28" width="20" height="20" fill="#0479c6"/>
<text x="423.00" y="156.52" font-size="15" text-anchor="start" >CCP15-17</text>
<rect x="395" y="164.14" width="20" height="20" fill="#f09800"/>
<text x="423.00" y="184.16" font-size="15" text-anchor="start" >CCP15-25</text>
<rect x="395" y="192.0" width="20" height="20" fill="#f9e534"/>
<text x="423.00" y="211.80" font-size="15" text-anchor="start" >CCP21-22</text>
<text x="0.60" y="297.30" font-size="18" text-anchor="start" >B</text>
<line x1="67.40" y1="302.00" x2="67.40" y2="422.70" stroke="#111" stroke-width="1.3" />
<line x1="67.40" y1="422.70" x2="244.20" y2="422.70" stroke="#111" stroke-width="1.3" />
<line x1="64.20" y1="302.80" x2="67.40" y2="302.80" stroke="#111" stroke-width="1.3" />
<text x="61.30" y="307.20" font-size="15" text-anchor="end" >70</text>
<line x1="64.20" y1="332.80" x2="67.40" y2="332.80" stroke="#111" stroke-width="1.3" />
<text x="61.30" y="337.20" font-size="15" text-anchor="end" >50</text>
<line x1="64.20" y1="362.80" x2="67.40" y2="362.80" stroke="#111" stroke-width="1.3" />
<text x="61.30" y="367.20" font-size="15" text-anchor="end" >30</text>
<line x1="64.20" y1="392.80" x2="67.40" y2="392.80" stroke="#111" stroke-width="1.3" />
<text x="61.30" y="397.20" font-size="15" text-anchor="end" >10</text>
<line x1="64.20" y1="422.70" x2="67.40" y2="422.70" stroke="#111" stroke-width="1.3" />
<text x="61.30" y="427.10" font-size="15" text-anchor="end" >-10</text>
<line x1="67.00" y1="422.70" x2="67.00" y2="425.80" stroke="#111" stroke-width="1.3" />
<text x="69.50" y="439.60" font-size="15" text-anchor="middle" >0</text>
<line x1="96.50" y1="422.70" x2="96.50" y2="425.80" stroke="#111" stroke-width="1.3" />
<text x="97.50" y="439.60" font-size="15" text-anchor="middle" >50</text>
<line x1="126.00" y1="422.70" x2="126.00" y2="425.80" stroke="#111" stroke-width="1.3" />
<text x="126.00" y="439.60" font-size="15" text-anchor="middle" >100</text>
<line x1="155.50" y1="422.70" x2="155.50" y2="425.80" stroke="#111" stroke-width="1.3" />
<text x="155.50" y="439.60" font-size="15" text-anchor="middle" >150</text>
<line x1="185.00" y1="422.70" x2="185.00" y2="425.80" stroke="#111" stroke-width="1.3" />
<text x="185.00" y="439.60" font-size="15" text-anchor="middle" >200</text>
<line x1="214.50" y1="422.70" x2="214.50" y2="425.80" stroke="#111" stroke-width="1.3" />
<text x="214.50" y="439.60" font-size="15" text-anchor="middle" >250</text>
<line x1="244.00" y1="422.70" x2="244.00" y2="425.80" stroke="#111" stroke-width="1.3" />
<text x="244.00" y="439.60" font-size="15" text-anchor="middle" >300</text>
<text x="160.20" y="454.00" font-size="15" text-anchor="middle" >seconds</text>
<text x="0" y="0" font-size="15" text-anchor="middle" transform="translate(31.00,358.50) rotate(-90)" >Response</text>
<text x="76.00" y="319.00" font-size="15" text-anchor="start" >i</text>
<line x1="67.40" y1="462.00" x2="67.40" y2="577.90" stroke="#111" stroke-width="1.3" />
<line x1="67.40" y1="577.90" x2="244.20" y2="577.90" stroke="#111" stroke-width="1.3" />
<line x1="64.40" y1="462.80" x2="67.40" y2="462.80" stroke="#111" stroke-width="1.3" />
<text x="61.30" y="466.70" font-size="15" text-anchor="end" >200</text>
<line x1="64.40" y1="495.40" x2="67.40" y2="495.40" stroke="#111" stroke-width="1.3" />
<text x="61.30" y="500.10" font-size="15" text-anchor="end" >140</text>
<line x1="64.40" y1="528.50" x2="67.40" y2="528.50" stroke="#111" stroke-width="1.3" />
<text x="61.30" y="535.00" font-size="15" text-anchor="end" >80</text>
<line x1="64.40" y1="561.30" x2="67.40" y2="561.30" stroke="#111" stroke-width="1.3" />
<text x="61.30" y="567.20" font-size="15" text-anchor="end" >20</text>
<line x1="64.40" y1="577.90" x2="67.40" y2="577.90" stroke="#111" stroke-width="1.3" />
<line x1="67.00" y1="577.90" x2="67.00" y2="581.20" stroke="#111" stroke-width="1.3" />
<text x="69.50" y="597.30" font-size="15" text-anchor="middle" >0</text>
<line x1="96.50" y1="577.90" x2="96.50" y2="581.20" stroke="#111" stroke-width="1.3" />
<text x="97.50" y="597.30" font-size="15" text-anchor="middle" >50</text>
<line x1="126.00" y1="577.90" x2="126.00" y2="581.20" stroke="#111" stroke-width="1.3" />
<text x="126.00" y="597.30" font-size="15" text-anchor="middle" >100</text>
<line x1="155.50" y1="577.90" x2="155.50" y2="581.20" stroke="#111" stroke-width="1.3" />
<text x="155.50" y="597.30" font-size="15" text-anchor="middle" >150</text>
<line x1="185.00" y1="577.90" x2="185.00" y2="581.20" stroke="#111" stroke-width="1.3" />
<text x="185.00" y="597.30" font-size="15" text-anchor="middle" >200</text>
<line x1="214.50" y1="577.90" x2="214.50" y2="581.20" stroke="#111" stroke-width="1.3" />
<text x="214.50" y="597.30" font-size="15" text-anchor="middle" >250</text>
<line x1="244.00" y1="577.90" x2="244.00" y2="581.20" stroke="#111" stroke-width="1.3" />
<text x="244.00" y="597.30" font-size="15" text-anchor="middle" >300</text>
<text x="160.20" y="612.00" font-size="15" text-anchor="middle" >seconds</text>
<text x="0" y="0" font-size="15" text-anchor="middle" transform="translate(30.00,512.90) rotate(-90)" >Response</text>
<text x="76.00" y="480.00" font-size="15" text-anchor="start" >iii</text>
<path d="M67.00,406.55 L67.50,406.58 L68.00,406.88 L68.50,406.42 L69.00,406.49 L69.50,407.38 L70.00,406.71 L70.50,406.87 L71.00,406.79 L71.50,406.27 L72.00,406.71 L72.50,406.75 L73.00,406.16 L73.50,407.42 L74.00,406.54 L74.50,406.50 L75.00,406.83 L75.50,406.99 L76.00,407.03 L76.50,406.81 L77.00,407.31 L77.50,407.00 L78.00,406.83 L78.50,407.02 L79.00,406.69 L79.50,406.75 L80.00,406.99 L80.50,406.63 L81.00,406.61 L81.50,406.91 L82.00,406.83 L82.50,406.84 L83.00,406.65 L83.50,407.44 L84.00,406.85 L84.50,407.20 L85.00,407.13 L85.50,406.60 L86.00,407.00 L86.50,407.11 L87.00,407.35 L87.50,406.43 L88.00,406.56 L88.50,407.34 L89.00,406.66 L89.50,406.65 L90.00,407.25 L90.50,406.97 L91.00,407.42 L91.50,406.32 L92.00,407.38 L92.50,407.37 L93.00,406.93 L93.50,406.87 L94.00,407.45 L94.50,406.72 L95.00,407.93 L95.50,407.42 L96.00,406.68 L96.50,407.14 L97.00,407.26 L97.50,407.52 L98.00,406.99 L98.50,407.31 L99.00,407.15 L99.50,407.09 L100.00,407.07 L100.50,407.45 L101.00,407.23 L101.50,407.41 L102.00,407.42 L102.50,407.30 L103.00,407.88 L103.50,407.66" fill="none" stroke="#0d0d0d" stroke-width="2.4" stroke-linejoin="round" />
<path d="M103.50,407.48 L104.00,407.01 L104.50,407.69 L105.00,407.41 L105.50,407.40 L106.00,407.13 L106.50,407.27 L107.00,407.87 L107.50,407.61 L108.00,407.42 L108.50,407.49 L109.00,407.30 L109.50,407.64 L110.00,407.31 L110.50,407.28 L111.00,407.90 L111.50,407.47 L112.00,407.80 L112.50,407.28 L113.00,407.43 L113.50,407.74 L114.00,407.61 L114.50,407.63 L115.00,407.61 L115.50,407.02 L116.00,407.75 L116.50,407.65 L117.00,407.14 L117.50,407.86 L118.00,407.95 L118.50,408.22 L119.00,407.67 L119.50,407.91 L120.00,407.17 L120.50,408.42 L121.00,407.71 L121.50,407.85 L122.00,407.72 L122.50,407.49 L123.00,407.31 L123.50,407.92 L124.00,407.37 L124.50,408.01 L125.00,407.62 L125.50,407.97 L126.00,407.80 L126.50,407.69 L127.00,407.66 L127.50,408.05 L128.00,408.13 L128.50,408.26 L129.00,407.49 L129.50,407.81 L130.00,407.91 L130.50,408.35 L131.00,407.91 L131.50,407.41 L132.00,407.83 L132.50,407.30 L133.00,408.34 L133.50,407.98 L134.00,408.18 L134.50,407.20 L135.00,407.92 L135.50,407.69 L136.00,408.00 L136.50,408.33 L137.00,407.71 L137.50,408.46 L138.00,408.01 L138.50,408.30 L139.00,407.93 L139.50,408.12 L140.00,408.45 L140.50,407.33 L141.00,408.33 L141.50,408.28 L142.00,408.38 L142.50,408.32 L143.00,407.95 L143.50,408.07 L144.00,407.78 L144.50,408.27 L145.00,408.34 L145.50,407.87 L146.00,407.84 L146.50,408.03 L147.00,408.11 L147.50,408.20 L148.00,408.53 L148.50,407.92 L149.00,408.15 L149.50,408.19 L150.00,408.38 L150.50,407.78 L151.00,408.37 L151.50,408.11 L152.00,407.70 L152.50,408.60 L153.00,408.01 L153.50,407.98 L154.00,408.08 L154.50,408.33 L155.00,408.23 L155.50,408.68 L156.00,408.45 L156.50,407.99 L157.00,408.23 L157.50,407.68 L158.00,407.95 L158.50,408.27 L159.00,408.38 L159.50,408.42 L160.00,408.00 L160.50,408.21 L161.00,408.22 L161.50,408.39 L162.00,408.43 L162.50,408.20 L163.00,408.61 L163.50,407.95 L164.00,408.32 L164.50,408.17 L165.00,408.17 L165.50,409.09 L166.00,408.21 L166.50,408.69 L167.00,408.26 L167.50,408.10 L168.00,408.65 L168.50,407.95 L169.00,408.17 L169.50,408.28 L170.00,407.92 L170.50,408.78 L171.00,408.18 L171.50,408.46 L172.00,408.02 L172.50,408.31 L173.00,408.30 L173.50,408.66 L174.00,408.19 L174.50,408.08 L175.00,408.59 L175.50,408.25 L176.00,407.93 L176.50,408.31 L177.00,408.36 L177.50,408.63 L178.00,408.55 L178.50,408.57 L179.00,408.73 L179.50,408.04 L180.00,408.49 L180.50,408.26 L181.00,408.09 L181.50,408.35 L182.00,407.92 L182.50,408.23 L183.00,407.92 L183.50,408.41 L184.00,408.42 L184.50,407.77 L185.00,408.41 L185.50,408.23 L186.00,408.57 L186.50,408.63 L187.00,408.13 L187.50,408.28 L188.00,408.16 L188.50,408.74 L189.00,408.63 L189.50,408.84 L190.00,408.28 L190.50,408.61 L191.00,408.41 L191.50,408.60 L192.00,408.25 L192.50,408.17 L193.00,408.81 L193.50,408.03 L194.00,408.55 L194.50,409.08 L195.00,408.05 L195.50,408.31 L196.00,408.51 L196.50,407.84 L197.00,408.51 L197.50,408.01 L198.00,407.86 L198.50,408.39 L199.00,408.09 L199.50,408.62 L200.00,408.59 L200.50,408.60 L201.00,408.11 L201.50,408.14 L202.00,408.43 L202.50,407.79 L203.00,408.51 L203.50,408.57 L204.00,408.76 L204.50,408.34 L205.00,408.06 L205.50,408.71 L206.00,408.03 L206.50,408.55 L207.00,408.33 L207.50,407.77 L208.00,408.35 L208.50,408.46 L209.00,408.55 L209.50,408.54 L210.00,407.88 L210.50,408.51 L211.00,408.19 L211.50,408.23 L212.00,408.65 L212.50,408.00 L213.00,408.73 L213.50,408.50 L214.00,407.86 L214.50,408.17 L215.00,408.11 L215.50,408.19 L216.00,408.48 L216.50,408.67 L217.00,408.84 L217.50,408.32 L218.00,408.61 L218.50,408.22 L219.00,408.34 L219.50,408.31 L220.00,408.67 L220.50,407.97 L221.00,408.24 L221.50,408.01 L222.00,408.49 L222.50,408.46 L223.00,408.57 L223.50,407.75 L224.00,408.17 L224.50,408.23 L225.00,408.47 L225.50,408.07 L226.00,408.57 L226.50,408.57 L227.00,408.40 L227.50,407.59 L228.00,407.97 L228.50,408.67 L229.00,408.33 L229.50,408.00 L230.00,407.93 L230.50,408.26 L231.00,408.44 L231.50,408.22 L232.00,408.95 L232.50,410.05 L233.00,409.40 L233.50,407.96 L234.00,407.10 L234.50,407.21 L235.00,406.48 L235.50,406.98 L236.00,407.98 L236.50,408.07 L237.00,409.65 L237.50,409.79 L238.00,409.34 L238.50,409.35 L239.00,408.28 L239.50,407.00 L240.00,407.27 L240.50,406.69 L241.00,407.02 L241.50,408.59 L242.00,408.39 L242.50,409.26 L243.00,408.37 L243.50,408.81 L244.00,408.89" fill="none" stroke="#0d0d0d" stroke-width="1.7" stroke-linejoin="round" />
<path d="M103.60,407.00 L103.68,391.29 L103.76,378.78 L103.84,368.76 L103.92,360.79 L104.00,354.44 L104.08,349.29 L104.16,345.14 L104.24,342.07 L104.32,339.37 L104.40,337.06 L104.48,335.34 L104.56,334.08 L104.64,332.90 L104.72,332.04 L104.80,331.21 L104.88,330.45 L104.96,330.03 L105.04,329.60 L105.12,329.31 L105.20,328.95 L105.28,328.22 L105.36,328.40 L105.44,328.68 L105.52,328.05 L105.60,328.48 L105.68,327.83 L105.76,327.42 L105.84,327.52 L105.92,327.71 L106.00,327.50 L106.08,327.61 L106.16,327.36 L106.24,327.45 L106.32,327.09 L106.40,326.74 L106.48,327.29 L106.56,327.24 L106.60,326.98 L107.10,326.25 L107.60,326.38 L108.10,326.46 L108.60,325.95 L109.10,325.80 L109.60,325.52 L110.10,325.93 L110.60,325.91 L111.10,325.41 L111.60,325.76 L112.10,325.48 L112.60,325.97 L113.10,325.37 L113.60,324.89 L114.10,325.05 L114.60,325.53 L115.10,325.03 L115.60,324.68 L116.10,325.55 L116.60,324.99 L117.10,324.81 L117.60,325.30 L118.10,324.72 L118.60,325.32 L119.10,325.65 L119.60,325.07 L120.10,324.89 L120.60,324.77 L121.10,324.77 L121.60,325.61 L122.10,324.98 L122.60,324.99 L123.10,324.81 L123.60,324.62 L124.10,325.04 L124.60,324.75 L125.10,324.95 L125.60,324.64 L126.10,324.71 L126.60,324.69 L127.10,324.39 L127.60,324.75 L128.10,325.01 L128.60,324.50 L129.10,324.69 L129.60,324.55 L130.10,325.12 L130.60,324.77 L131.10,324.16 L131.60,324.87 L132.10,325.12 L132.60,325.02 L133.10,325.14 L133.60,324.91 L134.10,324.93 L134.60,324.69 L135.10,324.65 L135.60,324.80 L136.10,325.12 L136.60,325.11 L137.10,324.66 L137.60,324.52 L138.10,325.08 L138.60,324.81 L139.10,324.48 L139.60,324.83 L140.10,324.72 L140.60,324.42 L141.10,324.48 L141.60,324.36 L142.10,324.95 L142.60,324.70 L143.10,324.86 L143.60,324.72 L144.10,324.65 L144.60,324.67 L145.10,324.60 L145.60,324.24 L146.10,324.60 L146.60,324.62 L147.10,324.48 L147.60,324.61 L148.10,324.57 L148.60,324.65 L149.10,324.60 L149.60,324.87 L150.10,324.95 L150.60,324.91 L151.10,324.60 L151.60,324.35 L152.10,324.69 L152.60,324.50 L153.10,324.44 L153.60,324.68 L154.10,324.70 L154.60,324.60 L155.10,325.09 L155.60,324.66 L156.10,324.56 L156.60,324.77 L157.20,340.71 L157.70,343.12 L158.20,345.99 L158.70,347.86 L159.20,349.68 L159.70,351.74 L160.20,353.88 L160.70,354.91 L161.20,355.93 L161.70,357.39 L162.20,358.86 L162.70,359.84 L163.20,360.58 L163.70,361.40 L164.20,362.28 L164.70,363.20 L165.20,363.66 L165.70,363.81 L166.20,365.16 L166.70,365.59 L167.20,365.52 L167.70,365.92 L168.20,366.67 L168.70,367.87 L169.20,368.04 L169.70,367.56 L170.20,368.66 L170.70,369.23 L171.20,369.36 L171.70,370.13 L172.20,369.69 L172.70,370.71 L173.20,371.07 L173.70,371.54 L174.20,371.58 L174.70,372.37 L175.20,372.10 L175.70,372.92 L176.20,372.97 L176.70,373.58 L177.20,374.29 L177.70,373.88 L178.20,374.18 L178.70,374.73 L179.20,374.70 L179.70,375.21 L180.20,375.98 L180.70,375.78 L181.20,376.46 L181.70,376.74 L182.20,375.99 L182.70,376.62 L183.20,377.49 L183.70,378.04 L184.20,378.01 L184.70,378.26 L185.20,378.27 L185.70,378.86 L186.20,379.03 L186.70,379.68 L187.20,380.07 L187.70,379.99 L188.20,379.42 L188.70,380.41 L189.20,380.92 L189.70,380.84 L190.20,381.63 L190.70,381.15 L191.20,381.15 L191.70,382.18 L192.20,381.93 L192.70,382.05 L193.20,382.51 L193.70,382.50 L194.20,382.96 L194.70,383.05 L195.20,383.36 L195.70,384.01 L196.20,383.60 L196.70,384.23 L197.20,384.50 L197.70,384.38 L198.20,384.30 L198.70,385.05 L199.20,385.34 L199.70,385.06 L200.20,385.22 L200.70,385.44 L201.20,385.75 L201.70,385.92 L202.20,385.94 L202.70,386.41 L203.20,386.49 L203.70,386.38 L204.20,387.02 L204.70,387.02 L205.20,387.45 L205.70,386.92 L206.20,387.68 L206.70,387.29 L207.20,387.36 L207.70,387.61 L208.20,387.22 L208.70,388.13 L209.20,388.23 L209.70,387.90 L210.20,388.20 L210.70,388.81 L211.20,388.52 L211.70,388.61 L212.20,389.01 L212.70,388.90 L213.20,388.73 L213.70,389.04 L214.20,388.83 L214.70,389.24 L215.20,389.49 L215.70,389.55 L216.20,389.66 L216.70,389.28 L217.20,389.99 L217.70,390.30 L218.20,390.07 L218.70,390.01 L219.20,390.65 L219.70,390.17 L220.20,390.79 L220.70,390.30 L221.20,390.41 L221.70,390.54 L222.20,391.19 L222.70,391.33 L223.20,390.60 L223.70,391.31 L224.20,391.47 L224.70,390.73 L225.20,391.21 L225.70,391.17 L226.20,391.93 L226.70,391.31 L227.20,391.03 L227.70,391.38 L228.20,391.98 L228.70,391.54 L229.20,392.47 L229.70,392.73 L230.20,393.85 L230.70,392.82 L231.20,392.89 L231.70,392.26 L232.20,391.70 L232.70,390.60 L233.20,391.52 L233.70,391.32 L234.20,393.35 L234.70,393.39 L235.20,393.99 L235.70,394.90 L236.20,393.89 L236.70,393.78 L237.20,392.29 L237.70,392.21 L238.20,391.81 L238.70,392.14 L239.20,392.47 L239.70,393.63 L240.20,393.76 L240.70,393.95 L241.20,394.61 L241.70,394.34 L242.20,393.07 L242.70,392.92 L243.20,393.77 L243.70,394.55" fill="none" stroke="#0d0d0d" stroke-width="2.0" stroke-linejoin="round" />
<path d="M103.60,407.00 L103.68,393.65 L103.76,382.99 L103.84,374.52 L103.92,367.74 L104.00,362.27 L104.08,357.94 L104.16,354.32 L104.24,351.62 L104.32,349.17 L104.40,347.54 L104.48,345.80 L104.56,344.58 L104.64,343.80 L104.72,343.01 L104.80,342.47 L104.88,341.69 L104.96,341.65 L105.04,340.71 L105.12,340.79 L105.20,340.50 L105.28,340.12 L105.36,339.76 L105.44,339.93 L105.52,339.73 L105.60,339.31 L105.68,339.67 L105.76,340.02 L105.84,338.98 L105.92,339.48 L106.00,339.41 L106.08,339.01 L106.16,339.23 L106.24,339.10 L106.32,338.82 L106.40,338.97 L106.48,338.44 L106.56,338.28 L106.60,338.36 L107.10,338.16 L107.60,338.52 L108.10,337.22 L108.60,337.88 L109.10,337.33 L109.60,337.62 L110.10,337.69 L110.60,337.15 L111.10,337.31 L111.60,337.50 L112.10,337.05 L112.60,336.75 L113.10,337.00 L113.60,337.19 L114.10,336.92 L114.60,336.71 L115.10,337.24 L115.60,336.80 L116.10,336.56 L116.60,336.49 L117.10,336.65 L117.60,337.01 L118.10,336.79 L118.60,336.85 L119.10,336.63 L119.60,336.70 L120.10,337.06 L120.60,336.75 L121.10,336.70 L121.60,336.85 L122.10,336.40 L122.60,336.50 L123.10,336.31 L123.60,336.73 L124.10,336.85 L124.60,336.77 L125.10,336.77 L125.60,336.28 L126.10,336.53 L126.60,336.96 L127.10,336.73 L127.60,337.00 L128.10,336.73 L128.60,337.07 L129.10,336.40 L129.60,336.14 L130.10,336.19 L130.60,336.27 L131.10,336.46 L131.60,336.40 L132.10,336.67 L132.60,336.50 L133.10,336.66 L133.60,336.92 L134.10,336.54 L134.60,335.99 L135.10,336.62 L135.60,336.70 L136.10,336.82 L136.60,336.60 L137.10,336.60 L137.60,336.55 L138.10,336.74 L138.60,336.89 L139.10,336.00 L139.60,336.42 L140.10,336.60 L140.60,336.23 L141.10,336.66 L141.60,336.64 L142.10,336.62 L142.60,336.62 L143.10,336.47 L143.60,336.42 L144.10,336.48 L144.60,336.47 L145.10,336.53 L145.60,336.58 L146.10,336.30 L146.60,336.42 L147.10,336.45 L147.60,336.22 L148.10,336.45 L148.60,336.42 L149.10,336.18 L149.60,336.46 L150.10,336.42 L150.60,335.89 L151.10,336.33 L151.60,336.27 L152.10,336.08 L152.60,336.22 L153.10,336.66 L153.60,336.86 L154.10,336.38 L154.60,336.40 L155.10,336.17 L155.60,336.09 L156.10,336.30 L156.60,336.30 L157.20,343.70 L157.70,346.60 L158.20,348.15 L158.70,350.21 L159.20,352.47 L159.70,353.42 L160.20,356.01 L160.70,356.97 L161.20,358.04 L161.70,359.16 L162.20,360.14 L162.70,360.76 L163.20,361.74 L163.70,362.70 L164.20,363.37 L164.70,363.54 L165.20,364.37 L165.70,365.15 L166.20,365.50 L166.70,366.45 L167.20,366.53 L167.70,367.34 L168.20,367.99 L168.70,368.25 L169.20,368.94 L169.70,368.92 L170.20,369.77 L170.70,370.55 L171.20,370.79 L171.70,371.62 L172.20,370.81 L172.70,371.74 L173.20,372.08 L173.70,372.70 L174.20,373.05 L174.70,372.85 L175.20,373.58 L175.70,373.54 L176.20,373.97 L176.70,374.34 L177.20,374.73 L177.70,374.56 L178.20,375.73 L178.70,375.30 L179.20,376.07 L179.70,376.48 L180.20,376.69 L180.70,377.22 L181.20,377.07 L181.70,377.54 L182.20,377.71 L182.70,378.31 L183.20,377.96 L183.70,378.61 L184.20,379.16 L184.70,379.85 L185.20,379.78 L185.70,379.31 L186.20,379.73 L186.70,380.50 L187.20,380.23 L187.70,380.38 L188.20,381.11 L188.70,381.22 L189.20,381.35 L189.70,381.95 L190.20,381.42 L190.70,381.59 L191.20,382.75 L191.70,382.09 L192.20,382.68 L192.70,382.77 L193.20,383.23 L193.70,383.20 L194.20,383.72 L194.70,384.23 L195.20,384.29 L195.70,384.30 L196.20,384.32 L196.70,385.04 L197.20,384.24 L197.70,384.53 L198.20,385.27 L198.70,385.36 L199.20,386.04 L199.70,386.14 L200.20,385.50 L200.70,385.98 L201.20,385.83 L201.70,386.76 L202.20,386.35 L202.70,386.70 L203.20,386.89 L203.70,387.52 L204.20,387.43 L204.70,387.06 L205.20,387.58 L205.70,388.00 L206.20,387.37 L206.70,387.74 L207.20,388.69 L207.70,388.62 L208.20,388.47 L208.70,388.51 L209.20,388.69 L209.70,388.60 L210.20,388.38 L210.70,389.57 L211.20,389.18 L211.70,388.98 L212.20,389.70 L212.70,389.25 L213.20,390.15 L213.70,389.88 L214.20,389.98 L214.70,389.59 L215.20,390.21 L215.70,390.65 L216.20,390.56 L216.70,390.34 L217.20,390.61 L217.70,390.62 L218.20,390.86 L218.70,390.95 L219.20,390.77 L219.70,391.29 L220.20,391.31 L220.70,391.20 L221.20,391.26 L221.70,391.30 L222.20,391.33 L222.70,391.18 L223.20,391.33 L223.70,391.51 L224.20,392.24 L224.70,391.39 L225.20,391.64 L225.70,391.98 L226.20,392.22 L226.70,392.03 L227.20,391.92 L227.70,391.83 L228.20,392.19 L228.70,392.55 L229.20,393.08 L229.70,392.99 L230.20,393.95 L230.70,393.20 L231.20,392.40 L231.70,391.65 L232.20,391.38 L232.70,391.91 L233.20,392.52 L233.70,392.09 L234.20,393.92 L234.70,395.27 L235.20,395.34 L235.70,394.11 L236.20,393.07 L236.70,392.35 L237.20,392.42 L237.70,391.81 L238.20,392.14 L238.70,392.53 L239.20,394.38 L239.70,394.35 L240.20,395.15 L240.70,395.64 L241.20,394.31 L241.70,394.70 L242.20,394.00 L242.70,393.41 L243.20,394.28 L243.70,394.28" fill="none" stroke="#0d0d0d" stroke-width="2.0" stroke-linejoin="round" />
<path d="M103.60,407.00 L103.68,394.95 L103.76,385.34 L103.84,377.66 L103.92,371.58 L104.00,366.64 L104.08,362.76 L104.16,359.61 L104.24,357.18 L104.32,354.99 L104.40,353.25 L104.48,351.92 L104.56,350.97 L104.64,350.08 L104.72,349.52 L104.80,349.02 L104.88,348.16 L104.96,347.88 L105.04,347.76 L105.12,347.37 L105.20,347.50 L105.28,346.87 L105.36,346.88 L105.44,346.13 L105.52,346.21 L105.60,346.61 L105.68,346.61 L105.76,346.13 L105.84,345.59 L105.92,345.97 L106.00,346.00 L106.08,345.81 L106.16,345.64 L106.24,345.58 L106.32,345.45 L106.40,345.60 L106.48,345.36 L106.56,345.63 L106.60,345.49 L107.10,344.92 L107.60,344.71 L108.10,344.65 L108.60,344.68 L109.10,344.24 L109.60,344.34 L110.10,344.14 L110.60,343.84 L111.10,343.69 L111.60,343.94 L112.10,343.81 L112.60,343.56 L113.10,343.54 L113.60,343.04 L114.10,343.17 L114.60,343.17 L115.10,343.53 L115.60,343.12 L116.10,343.12 L116.60,342.46 L117.10,342.92 L117.60,342.97 L118.10,342.93 L118.60,342.91 L119.10,342.55 L119.60,342.82 L120.10,342.76 L120.60,343.44 L121.10,342.98 L121.60,342.58 L122.10,342.81 L122.60,342.66 L123.10,342.51 L123.60,342.58 L124.10,342.74 L124.60,342.65 L125.10,342.83 L125.60,342.11 L126.10,342.52 L126.60,342.76 L127.10,342.02 L127.60,342.16 L128.10,342.72 L128.60,342.30 L129.10,342.57 L129.60,342.27 L130.10,342.40 L130.60,342.32 L131.10,342.24 L131.60,342.31 L132.10,342.10 L132.60,342.13 L133.10,342.45 L133.60,342.18 L134.10,342.47 L134.60,341.94 L135.10,342.63 L135.60,341.70 L136.10,342.59 L136.60,342.16 L137.10,342.26 L137.60,342.12 L138.10,341.86 L138.60,342.07 L139.10,342.37 L139.60,342.12 L140.10,342.55 L140.60,342.08 L141.10,342.06 L141.60,342.42 L142.10,342.09 L142.60,342.17 L143.10,342.36 L143.60,342.41 L144.10,342.60 L144.60,342.23 L145.10,341.92 L145.60,341.77 L146.10,342.01 L146.60,341.79 L147.10,342.52 L147.60,342.05 L148.10,341.97 L148.60,341.84 L149.10,342.29 L149.60,341.89 L150.10,341.73 L150.60,342.36 L151.10,342.17 L151.60,342.52 L152.10,342.03 L152.60,342.45 L153.10,341.99 L153.60,342.02 L154.10,342.04 L154.60,341.53 L155.10,342.23 L155.60,342.17 L156.10,341.79 L156.60,342.02 L157.20,346.40 L157.70,348.26 L158.20,351.02 L158.70,352.47 L159.20,354.02 L159.70,355.47 L160.20,356.79 L160.70,357.86 L161.20,359.75 L161.70,360.35 L162.20,361.21 L162.70,361.15 L163.20,363.35 L163.70,363.80 L164.20,363.80 L164.70,364.85 L165.20,365.16 L165.70,366.45 L166.20,366.57 L166.70,367.65 L167.20,367.99 L167.70,368.57 L168.20,368.48 L168.70,369.54 L169.20,369.59 L169.70,370.17 L170.20,370.58 L170.70,370.69 L171.20,371.86 L171.70,371.85 L172.20,372.43 L172.70,372.47 L173.20,372.89 L173.70,373.47 L174.20,373.56 L174.70,374.32 L175.20,374.84 L175.70,374.66 L176.20,375.11 L176.70,376.02 L177.20,375.74 L177.70,375.90 L178.20,376.14 L178.70,376.87 L179.20,377.56 L179.70,377.18 L180.20,377.52 L180.70,378.06 L181.20,377.94 L181.70,378.40 L182.20,378.95 L182.70,378.92 L183.20,379.37 L183.70,379.46 L184.20,380.00 L184.70,379.90 L185.20,380.79 L185.70,380.41 L186.20,380.30 L186.70,380.98 L187.20,381.42 L187.70,381.33 L188.20,381.85 L188.70,382.11 L189.20,382.08 L189.70,382.64 L190.20,381.90 L190.70,383.42 L191.20,383.32 L191.70,383.06 L192.20,383.33 L192.70,383.98 L193.20,384.47 L193.70,384.53 L194.20,384.32 L194.70,384.10 L195.20,384.67 L195.70,385.01 L196.20,385.33 L196.70,385.18 L197.20,385.48 L197.70,385.91 L198.20,385.99 L198.70,386.07 L199.20,386.51 L199.70,386.99 L200.20,387.00 L200.70,387.61 L201.20,386.65 L201.70,386.90 L202.20,387.17 L202.70,387.82 L203.20,387.81 L203.70,387.35 L204.20,387.27 L204.70,388.24 L205.20,388.15 L205.70,388.53 L206.20,388.44 L206.70,388.92 L207.20,388.92 L207.70,389.11 L208.20,388.80 L208.70,389.29 L209.20,388.97 L209.70,389.74 L210.20,389.16 L210.70,389.76 L211.20,389.56 L211.70,389.57 L212.20,390.16 L212.70,390.45 L213.20,390.35 L213.70,390.43 L214.20,390.19 L214.70,390.74 L215.20,390.75 L215.70,390.88 L216.20,391.31 L216.70,390.65 L217.20,391.11 L217.70,391.15 L218.20,392.12 L218.70,391.03 L219.20,391.43 L219.70,391.79 L220.20,391.90 L220.70,391.63 L221.20,391.75 L221.70,391.60 L222.20,392.04 L222.70,391.69 L223.20,391.94 L223.70,392.30 L224.20,392.37 L224.70,393.23 L225.20,391.97 L225.70,392.29 L226.20,392.36 L226.70,392.95 L227.20,393.08 L227.70,392.44 L228.20,392.97 L228.70,392.52 L229.20,393.82 L229.70,393.70 L230.20,393.43 L230.70,392.73 L231.20,393.43 L231.70,391.87 L232.20,392.20 L232.70,392.40 L233.20,394.17 L233.70,395.13 L234.20,395.63 L234.70,395.02 L235.20,395.08 L235.70,393.77 L236.20,393.06 L236.70,392.80 L237.20,393.01 L237.70,392.98 L238.20,393.29 L238.70,395.41 L239.20,395.75 L239.70,395.01 L240.20,395.52 L240.70,395.02 L241.20,393.79 L241.70,393.91 L242.20,394.37 L242.70,395.07 L243.20,394.08 L243.70,394.99" fill="none" stroke="#0d0d0d" stroke-width="2.0" stroke-linejoin="round" />
<path d="M103.60,407.00 L103.68,396.13 L103.76,387.42 L103.84,380.50 L103.92,374.90 L104.00,370.53 L104.08,366.98 L104.16,364.13 L104.24,361.78 L104.32,359.76 L104.40,358.41 L104.48,357.10 L104.56,356.09 L104.64,355.29 L104.72,354.65 L104.80,354.37 L104.88,353.78 L104.96,353.85 L105.04,353.04 L105.12,352.74 L105.20,352.72 L105.28,352.18 L105.36,352.20 L105.44,351.84 L105.52,351.89 L105.60,351.90 L105.68,351.37 L105.76,351.49 L105.84,351.13 L105.92,351.09 L106.00,351.01 L106.08,351.12 L106.16,351.35 L106.24,351.11 L106.32,350.28 L106.40,350.92 L106.48,350.58 L106.56,351.23 L106.60,350.56 L107.10,350.16 L107.60,349.99 L108.10,350.32 L108.60,349.74 L109.10,349.76 L109.60,349.70 L110.10,349.53 L110.60,349.38 L111.10,349.55 L111.60,348.46 L112.10,349.07 L112.60,348.58 L113.10,348.70 L113.60,348.92 L114.10,348.60 L114.60,348.72 L115.10,348.51 L115.60,348.80 L116.10,348.76 L116.60,347.97 L117.10,348.34 L117.60,348.23 L118.10,348.61 L118.60,348.49 L119.10,348.28 L119.60,348.47 L120.10,348.32 L120.60,348.25 L121.10,347.86 L121.60,348.37 L122.10,347.91 L122.60,347.79 L123.10,348.35 L123.60,347.98 L124.10,348.51 L124.60,347.56 L125.10,348.04 L125.60,347.93 L126.10,347.74 L126.60,347.86 L127.10,347.79 L127.60,347.56 L128.10,347.68 L128.60,347.51 L129.10,347.58 L129.60,347.79 L130.10,347.86 L130.60,347.24 L131.10,347.44 L131.60,347.11 L132.10,347.61 L132.60,347.93 L133.10,347.49 L133.60,347.31 L134.10,347.24 L134.60,347.41 L135.10,347.28 L135.60,347.91 L136.10,347.56 L136.60,347.38 L137.10,347.63 L137.60,347.77 L138.10,347.68 L138.60,347.74 L139.10,347.39 L139.60,347.85 L140.10,347.44 L140.60,347.68 L141.10,347.04 L141.60,347.45 L142.10,347.35 L142.60,347.32 L143.10,347.60 L143.60,347.34 L144.10,347.52 L144.60,347.27 L145.10,347.51 L145.60,347.18 L146.10,347.57 L146.60,347.26 L147.10,347.26 L147.60,347.46 L148.10,347.74 L148.60,347.14 L149.10,346.98 L149.60,347.23 L150.10,347.27 L150.60,347.23 L151.10,347.31 L151.60,347.51 L152.10,347.80 L152.60,346.97 L153.10,347.52 L153.60,347.25 L154.10,347.75 L154.60,347.07 L155.10,347.27 L155.60,347.50 L156.10,347.63 L156.60,347.28 L157.20,349.05 L157.70,351.69 L158.20,353.33 L158.70,354.72 L159.20,356.37 L159.70,357.61 L160.20,358.51 L160.70,359.99 L161.20,360.81 L161.70,362.13 L162.20,362.41 L162.70,362.88 L163.20,364.03 L163.70,364.63 L164.20,365.64 L164.70,365.60 L165.20,366.40 L165.70,367.58 L166.20,367.88 L166.70,368.77 L167.20,369.32 L167.70,369.41 L168.20,370.03 L168.70,370.19 L169.20,371.07 L169.70,371.37 L170.20,371.65 L170.70,371.96 L171.20,372.74 L171.70,373.02 L172.20,373.27 L172.70,373.81 L173.20,374.33 L173.70,374.12 L174.20,374.57 L174.70,375.06 L175.20,375.89 L175.70,375.42 L176.20,376.50 L176.70,376.70 L177.20,376.74 L177.70,377.04 L178.20,377.35 L178.70,378.02 L179.20,378.03 L179.70,378.51 L180.20,378.28 L180.70,379.10 L181.20,379.18 L181.70,379.54 L182.20,379.20 L182.70,380.63 L183.20,380.01 L183.70,379.83 L184.20,380.91 L184.70,380.94 L185.20,380.89 L185.70,380.98 L186.20,382.02 L186.70,381.94 L187.20,381.86 L187.70,381.82 L188.20,382.58 L188.70,383.37 L189.20,382.89 L189.70,383.20 L190.20,383.13 L190.70,383.65 L191.20,383.56 L191.70,383.94 L192.20,384.33 L192.70,384.56 L193.20,384.91 L193.70,385.23 L194.20,384.77 L194.70,385.25 L195.20,385.33 L195.70,385.87 L196.20,385.96 L196.70,385.99 L197.20,386.79 L197.70,386.43 L198.20,386.56 L198.70,387.39 L199.20,387.16 L199.70,387.30 L200.20,387.43 L200.70,387.65 L201.20,387.63 L201.70,388.10 L202.20,387.95 L202.70,388.61 L203.20,388.86 L203.70,388.32 L204.20,388.14 L204.70,388.88 L205.20,389.15 L205.70,388.75 L206.20,389.04 L206.70,389.21 L207.20,389.54 L207.70,389.48 L208.20,389.98 L208.70,389.81 L209.20,390.20 L209.70,389.94 L210.20,390.08 L210.70,390.58 L211.20,390.48 L211.70,390.23 L212.20,390.92 L212.70,390.73 L213.20,391.37 L213.70,391.24 L214.20,390.90 L214.70,391.19 L215.20,391.21 L215.70,391.63 L216.20,391.17 L216.70,391.18 L217.20,391.84 L217.70,391.83 L218.20,392.28 L218.70,392.17 L219.20,392.58 L219.70,392.47 L220.20,392.74 L220.70,392.41 L221.20,391.91 L221.70,392.31 L222.20,391.88 L222.70,392.81 L223.20,393.09 L223.70,392.70 L224.20,392.40 L224.70,393.08 L225.20,393.12 L225.70,392.91 L226.20,393.21 L226.70,393.16 L227.20,393.13 L227.70,393.33 L228.20,393.58 L228.70,393.29 L229.20,393.90 L229.70,393.16 L230.20,393.68 L230.70,392.37 L231.20,392.79 L231.70,392.72 L232.20,393.49 L232.70,394.25 L233.20,395.26 L233.70,395.54 L234.20,395.36 L234.70,394.82 L235.20,393.60 L235.70,393.51 L236.20,393.03 L236.70,392.78 L237.20,394.32 L237.70,394.23 L238.20,395.04 L238.70,396.34 L239.20,396.35 L239.70,395.20 L240.20,394.32 L240.70,395.30 L241.20,394.68 L241.70,394.36 L242.20,394.15 L242.70,395.32 L243.20,395.34 L243.70,395.04" fill="none" stroke="#0d0d0d" stroke-width="2.0" stroke-linejoin="round" />
<path d="M103.60,407.00 L103.68,397.52 L103.76,389.94 L103.84,383.85 L103.92,378.96 L104.00,375.04 L104.08,371.75 L104.16,369.40 L104.24,367.37 L104.32,365.44 L104.40,363.95 L104.48,363.02 L104.56,362.02 L104.64,361.25 L104.72,360.36 L104.80,359.84 L104.88,359.48 L104.96,358.70 L105.04,358.51 L105.12,358.57 L105.20,358.13 L105.28,357.90 L105.36,357.32 L105.44,357.13 L105.52,357.19 L105.60,357.27 L105.68,356.69 L105.76,356.79 L105.84,356.29 L105.92,356.17 L106.00,356.13 L106.08,356.13 L106.16,356.18 L106.24,355.80 L106.32,355.29 L106.40,355.54 L106.48,355.55 L106.56,355.67 L106.60,355.49 L107.10,354.70 L107.60,354.75 L108.10,353.92 L108.60,353.82 L109.10,353.56 L109.60,353.36 L110.10,353.34 L110.60,352.92 L111.10,352.97 L111.60,352.65 L112.10,352.68 L112.60,352.58 L113.10,351.79 L113.60,352.19 L114.10,351.76 L114.60,351.66 L115.10,351.72 L115.60,351.65 L116.10,351.41 L116.60,351.26 L117.10,351.60 L117.60,351.06 L118.10,351.75 L118.60,351.09 L119.10,350.85 L119.60,350.93 L120.10,351.32 L120.60,350.68 L121.10,350.99 L121.60,351.66 L122.10,350.71 L122.60,350.54 L123.10,350.82 L123.60,351.32 L124.10,350.76 L124.60,350.70 L125.10,350.65 L125.60,350.21 L126.10,350.42 L126.60,350.66 L127.10,350.40 L127.60,350.82 L128.10,350.27 L128.60,350.10 L129.10,350.01 L129.60,350.95 L130.10,350.70 L130.60,350.23 L131.10,350.43 L131.60,350.60 L132.10,350.26 L132.60,350.38 L133.10,349.85 L133.60,349.71 L134.10,350.30 L134.60,349.93 L135.10,350.42 L135.60,349.89 L136.10,350.42 L136.60,349.90 L137.10,349.96 L137.60,349.99 L138.10,349.92 L138.60,349.89 L139.10,350.00 L139.60,349.87 L140.10,349.80 L140.60,349.66 L141.10,349.75 L141.60,349.56 L142.10,349.93 L142.60,349.59 L143.10,349.62 L143.60,349.74 L144.10,349.79 L144.60,350.01 L145.10,349.81 L145.60,349.75 L146.10,349.70 L146.60,349.74 L147.10,349.65 L147.60,350.10 L148.10,349.76 L148.60,349.43 L149.10,349.70 L149.60,349.85 L150.10,349.99 L150.60,349.80 L151.10,350.09 L151.60,349.39 L152.10,350.17 L152.60,349.67 L153.10,349.80 L153.60,349.89 L154.10,349.20 L154.60,350.07 L155.10,349.53 L155.60,349.92 L156.10,349.80 L156.60,349.85 L157.20,352.86 L157.70,354.16 L158.20,356.04 L158.70,357.39 L159.20,358.20 L159.70,359.79 L160.20,360.59 L160.70,361.12 L161.20,362.50 L161.70,363.37 L162.20,364.24 L162.70,364.07 L163.20,365.50 L163.70,366.07 L164.20,366.22 L164.70,367.00 L165.20,368.00 L165.70,368.39 L166.20,369.43 L166.70,369.33 L167.20,370.35 L167.70,370.30 L168.20,370.62 L168.70,371.65 L169.20,372.27 L169.70,372.47 L170.20,372.87 L170.70,373.38 L171.20,373.88 L171.70,373.84 L172.20,374.41 L172.70,375.21 L173.20,375.17 L173.70,375.67 L174.20,375.60 L174.70,376.05 L175.20,376.55 L175.70,377.01 L176.20,377.45 L176.70,377.60 L177.20,377.55 L177.70,379.10 L178.20,378.33 L178.70,378.75 L179.20,378.74 L179.70,379.65 L180.20,379.61 L180.70,379.95 L181.20,380.18 L181.70,380.15 L182.20,380.05 L182.70,380.50 L183.20,381.48 L183.70,381.42 L184.20,381.49 L184.70,382.00 L185.20,381.98 L185.70,382.44 L186.20,382.48 L186.70,382.42 L187.20,382.97 L187.70,383.25 L188.20,383.19 L188.70,383.14 L189.20,383.77 L189.70,384.04 L190.20,383.98 L190.70,384.37 L191.20,384.52 L191.70,384.51 L192.20,384.24 L192.70,385.38 L193.20,385.37 L193.70,385.87 L194.20,386.14 L194.70,385.91 L195.20,385.55 L195.70,386.71 L196.20,386.44 L196.70,386.83 L197.20,387.11 L197.70,386.94 L198.20,387.77 L198.70,387.96 L199.20,387.92 L199.70,387.57 L200.20,388.06 L200.70,388.15 L201.20,389.15 L201.70,388.62 L202.20,389.03 L202.70,388.58 L203.20,388.89 L203.70,389.58 L204.20,389.43 L204.70,389.69 L205.20,389.06 L205.70,389.45 L206.20,389.88 L206.70,389.72 L207.20,390.08 L207.70,390.32 L208.20,390.35 L208.70,390.52 L209.20,390.21 L209.70,390.58 L210.20,390.65 L210.70,390.60 L211.20,391.41 L211.70,391.02 L212.20,391.67 L212.70,391.43 L213.20,391.94 L213.70,391.80 L214.20,391.17 L214.70,391.88 L215.20,392.17 L215.70,391.94 L216.20,392.34 L216.70,392.07 L217.20,392.56 L217.70,392.34 L218.20,393.12 L218.70,393.19 L219.20,392.08 L219.70,392.77 L220.20,392.79 L220.70,393.57 L221.20,393.39 L221.70,392.94 L222.20,392.86 L222.70,393.33 L223.20,393.40 L223.70,393.56 L224.20,393.20 L224.70,393.91 L225.20,393.44 L225.70,392.56 L226.20,392.90 L226.70,394.03 L227.20,393.89 L227.70,393.29 L228.20,394.41 L228.70,393.57 L229.20,393.45 L229.70,393.17 L230.20,393.68 L230.70,393.67 L231.20,393.47 L231.70,394.38 L232.20,395.24 L232.70,395.29 L233.20,395.69 L233.70,396.38 L234.20,395.35 L234.70,394.68 L235.20,393.39 L235.70,392.77 L236.20,393.70 L236.70,393.53 L237.20,395.98 L237.70,395.78 L238.20,396.55 L238.70,396.76 L239.20,395.71 L239.70,395.34 L240.20,394.86 L240.70,394.79 L241.20,395.08 L241.70,394.78 L242.20,395.62 L242.70,395.07 L243.20,396.21 L243.70,396.27" fill="none" stroke="#0d0d0d" stroke-width="2.0" stroke-linejoin="round" />
<path d="M103.60,407.00 L103.68,398.10 L103.76,390.95 L103.84,385.27 L103.92,380.63 L104.00,376.99 L104.08,374.02 L104.16,371.62 L104.24,369.74 L104.32,368.01 L104.40,366.89 L104.48,365.63 L104.56,364.83 L104.64,364.21 L104.72,363.51 L104.80,363.02 L104.88,362.52 L104.96,362.52 L105.04,361.67 L105.12,361.62 L105.20,361.27 L105.28,361.21 L105.36,361.06 L105.44,360.59 L105.52,360.56 L105.60,360.37 L105.68,360.19 L105.76,360.24 L105.84,359.96 L105.92,359.64 L106.00,359.85 L106.08,359.64 L106.16,359.61 L106.24,359.61 L106.32,359.51 L106.40,359.04 L106.48,359.16 L106.56,359.00 L106.60,358.76 L107.10,358.18 L107.60,357.91 L108.10,357.64 L108.60,357.65 L109.10,357.09 L109.60,357.00 L110.10,356.49 L110.60,356.45 L111.10,356.27 L111.60,356.26 L112.10,355.58 L112.60,355.78 L113.10,356.09 L113.60,355.67 L114.10,355.44 L114.60,354.61 L115.10,354.71 L115.60,354.82 L116.10,354.61 L116.60,354.71 L117.10,354.45 L117.60,354.46 L118.10,354.43 L118.60,354.23 L119.10,354.26 L119.60,354.39 L120.10,354.40 L120.60,353.72 L121.10,353.76 L121.60,354.03 L122.10,353.68 L122.60,353.79 L123.10,353.43 L123.60,353.99 L124.10,353.38 L124.60,353.25 L125.10,353.30 L125.60,353.11 L126.10,353.30 L126.60,353.14 L127.10,352.91 L127.60,353.08 L128.10,353.21 L128.60,352.83 L129.10,352.75 L129.60,352.84 L130.10,352.74 L130.60,352.83 L131.10,352.90 L131.60,353.14 L132.10,352.77 L132.60,353.00 L133.10,353.43 L133.60,353.08 L134.10,352.84 L134.60,352.53 L135.10,352.65 L135.60,352.83 L136.10,352.48 L136.60,352.80 L137.10,352.77 L137.60,352.46 L138.10,352.56 L138.60,352.35 L139.10,352.58 L139.60,352.95 L140.10,352.49 L140.60,352.39 L141.10,352.20 L141.60,352.88 L142.10,352.31 L142.60,352.51 L143.10,352.36 L143.60,352.39 L144.10,352.66 L144.60,352.47 L145.10,352.36 L145.60,352.72 L146.10,352.59 L146.60,352.42 L147.10,351.92 L147.60,352.37 L148.10,352.53 L148.60,352.26 L149.10,352.68 L149.60,351.94 L150.10,352.38 L150.60,351.70 L151.10,352.02 L151.60,352.66 L152.10,352.65 L152.60,352.26 L153.10,352.36 L153.60,352.20 L154.10,352.66 L154.60,352.59 L155.10,352.06 L155.60,352.05 L156.10,352.18 L156.60,352.16 L157.20,355.84 L157.70,356.76 L158.20,358.01 L158.70,359.53 L159.20,360.74 L159.70,361.70 L160.20,361.67 L160.70,363.00 L161.20,363.49 L161.70,364.07 L162.20,365.23 L162.70,365.73 L163.20,366.26 L163.70,367.07 L164.20,367.50 L164.70,367.99 L165.20,368.86 L165.70,369.26 L166.20,370.11 L166.70,370.41 L167.20,370.68 L167.70,371.58 L168.20,372.50 L168.70,372.55 L169.20,372.93 L169.70,372.95 L170.20,373.78 L170.70,374.15 L171.20,374.66 L171.70,375.12 L172.20,375.25 L172.70,375.65 L173.20,375.83 L173.70,376.93 L174.20,376.58 L174.70,377.04 L175.20,377.37 L175.70,378.21 L176.20,378.07 L176.70,377.99 L177.20,379.14 L177.70,379.29 L178.20,379.84 L178.70,379.78 L179.20,380.08 L179.70,379.71 L180.20,380.89 L180.70,380.79 L181.20,381.62 L181.70,381.08 L182.20,381.27 L182.70,381.52 L183.20,382.06 L183.70,382.09 L184.20,382.02 L184.70,382.53 L185.20,382.87 L185.70,383.32 L186.20,382.88 L186.70,383.48 L187.20,383.70 L187.70,383.82 L188.20,384.50 L188.70,384.20 L189.20,384.28 L189.70,384.24 L190.20,384.66 L190.70,384.96 L191.20,385.24 L191.70,385.92 L192.20,386.13 L192.70,385.82 L193.20,386.40 L193.70,386.66 L194.20,386.95 L194.70,386.98 L195.20,386.68 L195.70,386.89 L196.20,387.57 L196.70,387.96 L197.20,387.89 L197.70,388.10 L198.20,388.39 L198.70,388.47 L199.20,388.58 L199.70,388.76 L200.20,388.81 L200.70,388.65 L201.20,388.79 L201.70,388.96 L202.20,389.21 L202.70,389.08 L203.20,389.80 L203.70,389.74 L204.20,389.84 L204.70,389.76 L205.20,390.05 L205.70,390.73 L206.20,390.52 L206.70,390.49 L207.20,391.09 L207.70,390.50 L208.20,391.27 L208.70,391.22 L209.20,391.13 L209.70,390.96 L210.20,391.20 L210.70,391.62 L211.20,391.43 L211.70,391.49 L212.20,391.69 L212.70,392.01 L213.20,392.61 L213.70,392.56 L214.20,392.88 L214.70,392.19 L215.20,392.41 L215.70,392.77 L216.20,392.71 L216.70,393.17 L217.20,392.96 L217.70,393.24 L218.20,392.78 L218.70,393.35 L219.20,393.75 L219.70,393.62 L220.20,393.33 L220.70,393.60 L221.20,393.51 L221.70,393.44 L222.20,393.93 L222.70,393.27 L223.20,393.58 L223.70,394.03 L224.20,393.68 L224.70,394.04 L225.20,394.18 L225.70,393.67 L226.20,393.78 L226.70,393.45 L227.20,394.51 L227.70,394.46 L228.20,394.11 L228.70,394.37 L229.20,393.99 L229.70,395.57 L230.20,393.62 L230.70,394.29 L231.20,395.34 L231.70,395.98 L232.20,396.91 L232.70,396.87 L233.20,395.44 L233.70,395.85 L234.20,394.20 L234.70,394.82 L235.20,393.41 L235.70,393.72 L236.20,394.64 L236.70,395.71 L237.20,395.82 L237.70,397.79 L238.20,396.70 L238.70,396.23 L239.20,395.44 L239.70,395.15 L240.20,395.16 L240.70,394.80 L241.20,395.80 L241.70,396.39 L242.20,396.26 L242.70,395.73 L243.20,397.33 L243.70,396.50" fill="none" stroke="#0d0d0d" stroke-width="2.0" stroke-linejoin="round" />
<path d="M103.60,407.00 L103.68,398.86 L103.76,392.34 L103.84,387.09 L103.92,382.80 L104.00,379.33 L104.08,376.54 L104.16,374.50 L104.24,372.52 L104.32,370.80 L104.40,369.48 L104.48,368.78 L104.56,367.82 L104.64,366.91 L104.72,366.19 L104.80,365.72 L104.88,365.33 L104.96,365.04 L105.04,364.47 L105.12,364.22 L105.20,364.05 L105.28,363.69 L105.36,363.03 L105.44,363.47 L105.52,362.51 L105.60,362.62 L105.68,362.79 L105.76,362.02 L105.84,362.65 L105.92,362.04 L106.00,361.51 L106.08,361.69 L106.16,361.25 L106.24,361.48 L106.32,360.82 L106.40,361.40 L106.48,361.06 L106.56,360.87 L106.60,360.80 L107.10,360.56 L107.60,359.55 L108.10,359.09 L108.60,358.60 L109.10,358.65 L109.60,358.43 L110.10,357.74 L110.60,358.13 L111.10,357.44 L111.60,357.21 L112.10,357.15 L112.60,356.96 L113.10,357.13 L113.60,357.13 L114.10,357.39 L114.60,356.61 L115.10,356.25 L115.60,356.47 L116.10,356.55 L116.60,356.06 L117.10,356.15 L117.60,356.24 L118.10,356.20 L118.60,355.64 L119.10,355.90 L119.60,355.96 L120.10,355.80 L120.60,355.91 L121.10,355.61 L121.60,355.63 L122.10,355.70 L122.60,355.59 L123.10,355.68 L123.60,355.57 L124.10,355.36 L124.60,355.12 L125.10,355.73 L125.60,355.15 L126.10,355.43 L126.60,355.41 L127.10,354.99 L127.60,354.73 L128.10,355.23 L128.60,355.15 L129.10,354.76 L129.60,355.08 L130.10,355.19 L130.60,355.24 L131.10,355.06 L131.60,354.77 L132.10,355.04 L132.60,354.73 L133.10,354.72 L133.60,355.01 L134.10,355.01 L134.60,354.89 L135.10,354.59 L135.60,354.76 L136.10,354.64 L136.60,354.63 L137.10,354.70 L137.60,354.66 L138.10,354.42 L138.60,354.30 L139.10,354.82 L139.60,354.77 L140.10,354.76 L140.60,354.59 L141.10,354.76 L141.60,354.31 L142.10,354.63 L142.60,354.48 L143.10,354.67 L143.60,354.71 L144.10,354.33 L144.60,354.48 L145.10,353.98 L145.60,354.48 L146.10,354.68 L146.60,354.63 L147.10,354.50 L147.60,354.87 L148.10,354.52 L148.60,354.70 L149.10,354.46 L149.60,353.97 L150.10,354.21 L150.60,354.43 L151.10,354.37 L151.60,354.63 L152.10,354.57 L152.60,354.57 L153.10,353.95 L153.60,354.55 L154.10,354.53 L154.60,354.61 L155.10,354.46 L155.60,354.57 L156.10,354.55 L156.60,354.68 L157.20,358.07 L157.70,359.64 L158.20,360.54 L158.70,361.75 L159.20,362.58 L159.70,363.27 L160.20,363.87 L160.70,363.92 L161.20,365.10 L161.70,365.61 L162.20,366.45 L162.70,366.63 L163.20,368.01 L163.70,368.06 L164.20,368.58 L164.70,369.58 L165.20,369.91 L165.70,370.51 L166.20,371.33 L166.70,372.12 L167.20,371.59 L167.70,372.04 L168.20,373.53 L168.70,373.18 L169.20,374.05 L169.70,374.68 L170.20,374.61 L170.70,375.40 L171.20,375.78 L171.70,375.77 L172.20,376.21 L172.70,376.29 L173.20,376.88 L173.70,377.43 L174.20,378.23 L174.70,378.37 L175.20,378.83 L175.70,378.45 L176.20,379.41 L176.70,379.43 L177.20,379.45 L177.70,379.50 L178.20,380.64 L178.70,380.75 L179.20,380.92 L179.70,381.14 L180.20,381.46 L180.70,381.64 L181.20,381.66 L181.70,382.53 L182.20,382.75 L182.70,382.18 L183.20,383.47 L183.70,383.10 L184.20,383.41 L184.70,383.33 L185.20,383.73 L185.70,384.51 L186.20,383.96 L186.70,384.13 L187.20,384.76 L187.70,384.65 L188.20,384.47 L188.70,385.42 L189.20,384.79 L189.70,385.03 L190.20,386.02 L190.70,386.18 L191.20,385.38 L191.70,386.38 L192.20,386.49 L192.70,386.84 L193.20,386.57 L193.70,387.21 L194.20,387.90 L194.70,387.72 L195.20,387.08 L195.70,388.12 L196.20,388.82 L196.70,388.65 L197.20,388.20 L197.70,388.25 L198.20,388.87 L198.70,389.33 L199.20,389.13 L199.70,389.94 L200.20,389.54 L200.70,389.82 L201.20,389.68 L201.70,389.80 L202.20,390.10 L202.70,390.00 L203.20,390.83 L203.70,390.50 L204.20,390.33 L204.70,390.30 L205.20,390.85 L205.70,390.64 L206.20,390.79 L206.70,391.41 L207.20,390.88 L207.70,391.24 L208.20,390.95 L208.70,391.54 L209.20,391.21 L209.70,391.95 L210.20,391.72 L210.70,392.09 L211.20,391.75 L211.70,392.84 L212.20,392.56 L212.70,392.97 L213.20,393.12 L213.70,393.16 L214.20,392.42 L214.70,393.33 L215.20,393.00 L215.70,393.89 L216.20,393.36 L216.70,393.00 L217.20,393.12 L217.70,393.39 L218.20,393.93 L218.70,393.68 L219.20,393.83 L219.70,394.01 L220.20,393.93 L220.70,394.23 L221.20,394.85 L221.70,394.60 L222.20,393.38 L222.70,393.98 L223.20,394.67 L223.70,394.55 L224.20,394.42 L224.70,395.05 L225.20,393.37 L225.70,394.07 L226.20,394.68 L226.70,394.72 L227.20,394.94 L227.70,394.76 L228.20,395.28 L228.70,394.84 L229.20,394.21 L229.70,394.75 L230.20,394.43 L230.70,394.70 L231.20,395.68 L231.70,397.02 L232.20,396.20 L232.70,397.26 L233.20,395.51 L233.70,395.06 L234.20,394.98 L234.70,394.64 L235.20,395.14 L235.70,395.40 L236.20,397.08 L236.70,397.47 L237.20,397.91 L237.70,398.02 L238.20,396.73 L238.70,395.97 L239.20,395.60 L239.70,395.30 L240.20,394.95 L240.70,395.89 L241.20,396.10 L241.70,396.36 L242.20,396.93 L242.70,395.90 L243.20,396.75 L243.70,396.04" fill="none" stroke="#0d0d0d" stroke-width="2.0" stroke-linejoin="round" />
<line x1="103.50" y1="307.30" x2="103.50" y2="407.50" stroke="#0d0d0d" stroke-width="1.2" />
<line x1="156.70" y1="323.70" x2="156.70" y2="419.80" stroke="#0d0d0d" stroke-width="1.2" />
<path d="M67.00,570.18 L67.50,570.46 L68.00,570.44 L68.50,570.81 L69.00,571.07 L69.50,570.96 L70.00,570.78 L70.50,570.66 L71.00,570.52 L71.50,571.03 L72.00,570.84 L72.50,571.00 L73.00,570.87 L73.50,570.58 L74.00,571.00 L74.50,571.11 L75.00,571.37 L75.50,571.35 L76.00,571.24 L76.50,571.25 L77.00,571.44 L77.50,571.21 L78.00,570.98 L78.50,571.42 L79.00,571.73 L79.50,571.24 L80.00,571.04 L80.50,571.49 L81.00,571.55 L81.50,571.31 L82.00,571.77 L82.50,571.85 L83.00,571.53 L83.50,572.11 L84.00,571.93 L84.50,571.60 L85.00,571.76 L85.50,571.86 L86.00,571.74 L86.50,571.62 L87.00,571.68 L87.50,572.17 L88.00,571.78 L88.50,572.10 L89.00,571.99 L89.50,572.52 L90.00,572.08 L90.50,572.03 L91.00,572.27 L91.50,572.06 L92.00,571.87 L92.50,572.10 L93.00,572.13 L93.50,572.11 L94.00,571.96 L94.50,572.27 L95.00,572.35 L95.50,572.29 L96.00,571.79 L96.50,571.81 L97.00,572.41 L97.50,572.06 L98.00,572.44 L98.50,572.33 L99.00,572.21 L99.50,572.27 L100.00,572.29 L100.50,572.28 L101.00,572.14 L101.50,572.48 L102.00,572.14 L102.50,572.35 L103.00,572.37 L103.50,572.05 L104.00,572.21 L104.50,571.98 L105.00,572.34 L105.50,572.27 L106.00,572.35 L106.50,572.21 L107.00,572.28 L107.50,572.36 L108.00,572.14 L108.50,572.48 L109.00,572.28 L109.50,572.10 L110.00,572.33 L110.50,572.32 L111.00,572.09 L111.50,572.11 L112.00,572.14 L112.50,572.59 L113.00,572.27 L113.50,572.39 L114.00,572.42 L114.50,572.43 L115.00,572.36 L115.50,572.60 L116.00,572.55 L116.50,572.17 L117.00,572.51 L117.50,572.22 L118.00,572.34 L118.50,572.72 L119.00,572.69 L119.50,572.51 L120.00,572.25 L120.50,572.30 L121.00,572.30 L121.50,572.08 L122.00,572.50 L122.50,572.28 L123.00,572.57 L123.50,572.19 L124.00,571.86 L124.50,572.51 L125.00,572.15 L125.50,572.12 L126.00,572.42 L126.50,572.34 L127.00,572.14 L127.50,572.54 L128.00,572.28 L128.50,572.13 L129.00,572.19 L129.50,572.46 L130.00,572.62 L130.50,572.02 L131.00,571.97 L131.50,572.24 L132.00,572.48 L132.50,572.11 L133.00,572.21 L133.50,572.23 L134.00,572.13 L134.50,571.77 L135.00,572.22 L135.50,572.22 L136.00,572.50 L136.50,572.35 L137.00,571.90 L137.50,572.23 L138.00,572.05 L138.50,572.61 L139.00,572.43 L139.50,572.32 L140.00,571.98 L140.50,572.00 L141.00,572.05 L141.50,572.54 L142.00,572.41 L142.50,572.22 L143.00,572.02 L143.50,572.19 L144.00,572.03 L144.50,572.32 L145.00,572.12 L145.50,572.55 L146.00,572.21 L146.50,571.97 L147.00,572.30 L147.50,572.57 L148.00,572.05 L148.50,572.57 L149.00,572.17 L149.50,572.09 L150.00,571.74 L150.50,572.54 L151.00,572.39 L151.50,572.26 L152.00,571.85 L152.50,572.36 L153.00,572.10 L153.50,572.15 L154.00,572.27 L154.50,572.06 L155.00,572.37 L155.50,571.99 L156.00,572.21 L156.50,572.58 L157.00,572.14 L157.50,572.03 L158.00,572.42 L158.50,572.16 L159.00,572.06 L159.50,572.08 L160.00,572.26 L160.50,572.24 L161.00,572.33 L161.50,571.91 L162.00,572.11 L162.50,571.98 L163.00,572.33 L163.50,572.02 L164.00,572.26 L164.50,572.42 L165.00,572.32 L165.50,572.13 L166.00,572.38 L166.50,572.52 L167.00,572.31 L167.50,572.23 L168.00,572.48 L168.50,572.20 L169.00,572.13 L169.50,572.38 L170.00,571.90 L170.50,572.11 L171.00,572.69 L171.50,572.44 L172.00,572.46 L172.50,572.09 L173.00,572.08 L173.50,572.45 L174.00,572.23 L174.50,572.46 L175.00,572.65 L175.50,572.61 L176.00,572.77 L176.50,572.20 L177.00,572.82 L177.50,572.15 L178.00,572.41 L178.50,572.35 L179.00,572.48 L179.50,572.46 L180.00,572.24 L180.50,572.66 L181.00,572.50 L181.50,572.67 L182.00,572.73 L182.50,572.81 L183.00,572.16 L183.50,572.41 L184.00,572.46 L184.50,572.37 L185.00,572.46 L185.50,572.69 L186.00,572.27 L186.50,572.52 L187.00,572.13 L187.50,572.72 L188.00,572.32 L188.50,572.89 L189.00,572.51 L189.50,572.74 L190.00,572.55 L190.50,572.61 L191.00,572.75 L191.50,572.44 L192.00,572.57 L192.50,572.45 L193.00,572.55 L193.50,572.27 L194.00,572.52 L194.50,572.34 L195.00,572.39 L195.50,572.69 L196.00,572.33 L196.50,572.65 L197.00,572.62 L197.50,572.53 L198.00,572.66 L198.50,572.75 L199.00,572.90 L199.50,572.85 L200.00,572.78 L200.50,572.49 L201.00,572.58 L201.50,572.96 L202.00,572.41 L202.50,572.65 L203.00,573.09 L203.50,572.64 L204.00,573.00 L204.50,572.83 L205.00,572.63 L205.50,572.41 L206.00,572.66 L206.50,572.59 L207.00,572.88 L207.50,572.88 L208.00,572.76 L208.50,572.71 L209.00,572.98 L209.50,572.85 L210.00,573.09 L210.50,573.07 L211.00,572.82 L211.50,573.25 L212.00,572.87 L212.50,572.94 L213.00,573.00 L213.50,572.83 L214.00,573.13 L214.50,573.09 L215.00,572.82 L215.50,573.50 L216.00,573.17 L216.50,573.22 L217.00,572.79 L217.50,572.93 L218.00,572.95 L218.50,573.06 L219.00,573.36 L219.50,573.48 L220.00,572.85 L220.50,573.09 L221.00,573.25 L221.50,573.12 L222.00,573.25 L222.50,573.25 L223.00,573.61 L223.50,573.33 L224.00,573.31 L224.50,573.47 L225.00,573.17 L225.50,573.07 L226.00,573.13 L226.50,573.16 L227.00,572.95 L227.50,573.68 L228.00,573.40 L228.50,573.22 L229.00,573.21 L229.50,573.62 L230.00,573.26 L230.50,573.64 L231.00,573.56 L231.50,573.54 L232.00,573.64 L232.50,573.30 L233.00,573.32 L233.50,573.90 L234.00,573.91 L234.50,574.70 L235.00,574.38 L235.50,573.73 L236.00,572.70 L236.50,572.62 L237.00,572.97 L237.50,572.85 L238.00,573.56 L238.50,573.71 L239.00,574.65 L239.50,575.17 L240.00,574.95 L240.50,573.79 L241.00,573.59 L241.50,573.40 L242.00,572.79 L242.50,572.90 L243.00,573.38 L243.50,573.50 L244.00,574.37" fill="none" stroke="#0d0d0d" stroke-width="1.4" stroke-linejoin="round" />
<path d="M104.60,572.30 L104.68,546.46 L104.76,527.57 L104.84,513.80 L104.92,503.68 L105.00,496.22 L105.08,490.77 L105.16,486.74 L105.24,483.70 L105.32,481.35 L105.40,479.66 L105.48,478.29 L105.56,477.31 L105.64,476.49 L105.72,475.70 L105.80,475.20 L105.88,474.93 L105.96,474.40 L106.04,474.00 L106.12,473.68 L106.20,473.34 L106.28,473.27 L106.36,473.08 L106.44,472.75 L106.52,472.48 L106.60,472.46 L106.68,472.25 L106.76,472.16 L106.84,471.99 L106.92,471.31 L107.00,471.37 L107.08,471.20 L107.16,471.05 L107.24,470.96 L107.32,471.20 L107.40,470.66 L107.48,470.53 L107.56,470.44 L107.60,470.51 L108.10,469.61 L108.60,468.80 L109.10,468.52 L109.60,468.13 L110.10,467.74 L110.60,467.52 L111.10,467.56 L111.60,467.19 L112.10,467.16 L112.60,467.07 L113.10,466.79 L113.60,466.86 L114.10,466.67 L114.60,466.48 L115.10,466.60 L115.60,466.28 L116.10,466.83 L116.60,466.56 L117.10,466.34 L117.60,466.37 L118.10,465.90 L118.60,466.19 L119.10,466.50 L119.60,466.31 L120.10,466.29 L120.60,466.09 L121.10,466.12 L121.60,466.27 L122.10,466.14 L122.60,466.02 L123.10,466.18 L123.60,466.11 L124.10,466.05 L124.60,466.38 L125.10,466.36 L125.60,465.98 L126.10,465.91 L126.60,465.88 L127.10,465.97 L127.60,465.83 L128.10,466.03 L128.60,466.18 L129.10,466.06 L129.60,465.96 L130.10,466.12 L130.60,466.07 L131.10,465.98 L131.60,466.28 L132.10,466.27 L132.60,465.99 L133.10,465.93 L133.60,466.03 L134.10,466.01 L134.60,466.06 L135.10,465.92 L135.60,466.01 L136.10,465.76 L136.60,466.07 L137.10,466.20 L137.60,465.68 L138.10,466.18 L138.60,466.01 L139.10,465.69 L139.60,465.94 L140.10,465.96 L140.60,466.02 L141.10,466.00 L141.60,465.72 L142.10,466.01 L142.60,465.80 L143.10,465.80 L143.60,465.77 L144.10,465.81 L144.60,465.68 L145.10,465.60 L145.60,466.08 L146.10,465.83 L146.60,465.72 L147.10,466.00 L147.60,465.93 L148.10,465.76 L148.60,465.97 L149.10,465.43 L149.60,465.85 L150.10,466.01 L150.60,465.81 L151.10,465.76 L151.60,465.65 L152.10,465.73 L152.60,465.85 L153.10,465.52 L153.60,465.38 L154.10,465.96 L154.60,465.87 L155.10,465.83 L155.60,465.82 L156.10,465.88 L156.60,465.64 L157.10,465.77 L157.50,486.50 L158.00,488.69 L158.50,491.50 L159.00,493.08 L159.50,494.85 L160.00,497.06 L160.50,499.25 L161.00,500.51 L161.50,501.74 L162.00,503.10 L162.50,503.63 L163.00,504.01 L163.50,505.60 L164.00,506.12 L164.50,506.08 L165.00,507.40 L165.50,508.53 L166.00,508.86 L166.50,510.31 L167.00,511.37 L167.50,512.44 L168.00,512.98 L168.50,514.01 L169.00,514.89 L169.50,515.02 L170.00,515.58 L170.50,516.39 L171.00,517.00 L171.50,517.60 L172.00,517.87 L172.50,518.38 L173.00,518.81 L173.50,519.39 L174.00,519.69 L174.50,519.86 L175.00,520.72 L175.50,521.56 L176.00,521.37 L176.50,522.56 L177.00,522.15 L177.50,523.27 L178.00,522.39 L178.50,524.06 L179.00,524.51 L179.50,524.72 L180.00,524.52 L180.50,525.44 L181.00,524.97 L181.50,526.35 L182.00,526.03 L182.50,526.03 L183.00,526.76 L183.50,526.59 L184.00,527.33 L184.50,527.62 L185.00,528.02 L185.50,528.53 L186.00,528.09 L186.50,528.83 L187.00,528.69 L187.50,529.81 L188.00,529.64 L188.50,530.62 L189.00,530.73 L189.50,530.17 L190.00,530.79 L190.50,531.18 L191.00,531.05 L191.50,532.22 L192.00,532.09 L192.50,531.49 L193.00,532.32 L193.50,532.64 L194.00,532.89 L194.50,533.90 L195.00,533.36 L195.50,533.37 L196.00,533.97 L196.50,533.51 L197.00,534.27 L197.50,534.39 L198.00,534.87 L198.50,534.42 L199.00,535.26 L199.50,535.83 L200.00,536.08 L200.50,536.21 L201.00,535.77 L201.50,536.34 L202.00,536.32 L202.50,536.91 L203.00,536.69 L203.50,537.99 L204.00,537.24 L204.50,537.91 L205.00,538.28 L205.50,537.70 L206.00,538.11 L206.50,538.47 L207.00,538.31 L207.50,538.26 L208.00,539.02 L208.50,539.04 L209.00,539.13 L209.50,540.14 L210.00,539.48 L210.50,539.88 L211.00,539.63 L211.50,540.14 L212.00,540.67 L212.50,540.89 L213.00,540.81 L213.50,540.48 L214.00,541.27 L214.50,540.72 L215.00,541.46 L215.50,541.22 L216.00,541.60 L216.50,542.18 L217.00,541.96 L217.50,542.80 L218.00,542.02 L218.50,542.17 L219.00,542.43 L219.50,542.82 L220.00,542.99 L220.50,543.35 L221.00,542.72 L221.50,543.01 L222.00,543.09 L222.50,543.96 L223.00,543.64 L223.50,543.71 L224.00,544.06 L224.50,543.43 L225.00,544.20 L225.50,544.75 L226.00,544.58 L226.50,544.35 L227.00,544.70 L227.50,545.32 L228.00,544.89 L228.50,545.71 L229.00,545.08 L229.50,545.32 L230.00,545.61 L230.50,545.86 L231.00,545.56 L231.50,545.66 L232.00,545.87 L232.50,546.48 L233.00,546.37 L233.50,545.92 L234.00,546.99 L234.50,548.16 L235.00,546.88 L235.50,546.49 L236.00,546.91 L236.50,546.77 L237.00,545.72 L237.50,546.19 L238.00,547.69 L238.50,548.14 L239.00,549.23 L239.50,549.41 L240.00,549.14 L240.50,548.61 L241.00,547.97 L241.50,547.75 L242.00,547.27 L242.50,547.20 L243.00,548.57 L243.50,549.29 L244.00,548.79" fill="none" stroke="#0d0d0d" stroke-width="2.0" stroke-linejoin="round" />
<path d="M104.60,572.30 L104.68,548.44 L104.76,531.04 L104.84,518.32 L104.92,509.03 L105.00,502.24 L105.08,497.29 L105.16,493.54 L105.24,490.82 L105.32,488.80 L105.40,487.27 L105.48,486.13 L105.56,485.27 L105.64,484.45 L105.72,483.82 L105.80,483.45 L105.88,483.12 L105.96,482.57 L106.04,482.63 L106.12,482.21 L106.20,482.02 L106.28,481.73 L106.36,481.63 L106.44,481.56 L106.52,481.44 L106.60,481.27 L106.68,480.94 L106.76,480.83 L106.84,480.96 L106.92,480.65 L107.00,480.47 L107.08,480.25 L107.16,480.27 L107.24,480.34 L107.32,480.47 L107.40,480.34 L107.48,480.06 L107.56,480.11 L107.60,479.93 L108.10,479.18 L108.60,478.81 L109.10,479.01 L109.60,478.11 L110.10,478.04 L110.60,477.73 L111.10,477.92 L111.60,477.75 L112.10,477.36 L112.60,477.19 L113.10,477.37 L113.60,476.94 L114.10,476.92 L114.60,477.11 L115.10,477.46 L115.60,477.06 L116.10,476.64 L116.60,477.21 L117.10,476.72 L117.60,476.87 L118.10,476.72 L118.60,476.90 L119.10,476.82 L119.60,476.65 L120.10,476.71 L120.60,476.65 L121.10,476.75 L121.60,476.66 L122.10,476.77 L122.60,476.57 L123.10,476.87 L123.60,476.52 L124.10,476.36 L124.60,476.39 L125.10,476.66 L125.60,476.51 L126.10,476.54 L126.60,476.81 L127.10,476.44 L127.60,476.40 L128.10,476.64 L128.60,476.54 L129.10,476.54 L129.60,476.45 L130.10,476.74 L130.60,476.43 L131.10,476.24 L131.60,476.29 L132.10,476.30 L132.60,476.31 L133.10,476.38 L133.60,476.24 L134.10,476.58 L134.60,476.53 L135.10,476.15 L135.60,476.25 L136.10,476.51 L136.60,476.23 L137.10,476.38 L137.60,476.32 L138.10,476.49 L138.60,476.30 L139.10,476.02 L139.60,476.27 L140.10,476.27 L140.60,476.52 L141.10,476.32 L141.60,476.14 L142.10,476.33 L142.60,476.01 L143.10,476.06 L143.60,476.37 L144.10,476.42 L144.60,476.23 L145.10,476.47 L145.60,476.43 L146.10,476.32 L146.60,476.18 L147.10,476.12 L147.60,476.05 L148.10,475.99 L148.60,476.15 L149.10,476.09 L149.60,476.09 L150.10,476.24 L150.60,476.20 L151.10,476.00 L151.60,475.98 L152.10,476.07 L152.60,476.16 L153.10,476.14 L153.60,475.68 L154.10,476.19 L154.60,476.15 L155.10,476.25 L155.60,476.27 L156.10,476.18 L156.60,476.10 L157.10,476.16 L157.50,489.08 L158.00,491.45 L158.50,493.30 L159.00,495.17 L159.50,497.10 L160.00,498.70 L160.50,500.48 L161.00,501.77 L161.50,502.89 L162.00,503.90 L162.50,504.70 L163.00,505.31 L163.50,506.50 L164.00,507.17 L164.50,507.52 L165.00,508.16 L165.50,509.47 L166.00,510.32 L166.50,511.34 L167.00,512.65 L167.50,513.23 L168.00,514.00 L168.50,514.58 L169.00,516.37 L169.50,515.99 L170.00,517.60 L170.50,518.11 L171.00,517.83 L171.50,518.75 L172.00,518.86 L172.50,519.31 L173.00,520.11 L173.50,520.34 L174.00,520.63 L174.50,521.68 L175.00,521.79 L175.50,522.68 L176.00,522.59 L176.50,523.17 L177.00,523.14 L177.50,523.87 L178.00,524.40 L178.50,525.08 L179.00,525.11 L179.50,525.35 L180.00,525.69 L180.50,525.57 L181.00,526.74 L181.50,526.89 L182.00,527.39 L182.50,526.92 L183.00,528.07 L183.50,528.35 L184.00,528.43 L184.50,528.45 L185.00,529.54 L185.50,529.65 L186.00,529.43 L186.50,529.50 L187.00,530.25 L187.50,530.39 L188.00,530.90 L188.50,530.68 L189.00,531.38 L189.50,531.71 L190.00,532.06 L190.50,531.66 L191.00,532.64 L191.50,533.06 L192.00,533.22 L192.50,533.29 L193.00,533.69 L193.50,533.90 L194.00,534.65 L194.50,534.19 L195.00,534.51 L195.50,534.75 L196.00,535.08 L196.50,534.74 L197.00,535.33 L197.50,535.56 L198.00,536.43 L198.50,536.06 L199.00,536.99 L199.50,537.18 L200.00,536.74 L200.50,537.05 L201.00,538.15 L201.50,536.59 L202.00,537.42 L202.50,537.49 L203.00,537.56 L203.50,537.91 L204.00,538.38 L204.50,539.36 L205.00,539.11 L205.50,538.98 L206.00,539.31 L206.50,539.17 L207.00,540.00 L207.50,539.75 L208.00,540.57 L208.50,540.14 L209.00,540.07 L209.50,540.24 L210.00,541.12 L210.50,541.17 L211.00,541.44 L211.50,541.66 L212.00,541.46 L212.50,542.01 L213.00,542.00 L213.50,542.13 L214.00,542.02 L214.50,542.32 L215.00,541.97 L215.50,542.51 L216.00,542.98 L216.50,542.90 L217.00,542.80 L217.50,543.02 L218.00,544.03 L218.50,543.81 L219.00,543.91 L219.50,543.66 L220.00,544.09 L220.50,543.93 L221.00,544.07 L221.50,544.20 L222.00,543.97 L222.50,544.95 L223.00,544.32 L223.50,545.37 L224.00,545.19 L224.50,545.25 L225.00,545.06 L225.50,545.57 L226.00,545.05 L226.50,545.91 L227.00,545.73 L227.50,546.40 L228.00,546.03 L228.50,546.54 L229.00,546.36 L229.50,546.56 L230.00,546.54 L230.50,546.70 L231.00,546.78 L231.50,546.76 L232.00,547.54 L232.50,548.01 L233.00,547.17 L233.50,548.63 L234.00,547.40 L234.50,547.29 L235.00,547.50 L235.50,548.07 L236.00,546.91 L236.50,547.47 L237.00,547.01 L237.50,547.72 L238.00,550.26 L238.50,549.96 L239.00,550.53 L239.50,549.52 L240.00,548.94 L240.50,547.89 L241.00,547.59 L241.50,548.17 L242.00,549.14 L242.50,549.21 L243.00,550.16 L243.50,550.01 L244.00,550.19" fill="none" stroke="#0d0d0d" stroke-width="2.0" stroke-linejoin="round" />
<path d="M104.60,572.30 L104.68,550.22 L104.76,534.12 L104.84,522.36 L104.92,513.77 L105.00,507.48 L105.08,502.89 L105.16,499.51 L105.24,496.85 L105.32,495.10 L105.40,493.62 L105.48,492.51 L105.56,491.70 L105.64,491.08 L105.72,490.55 L105.80,490.04 L105.88,489.92 L105.96,489.51 L106.04,489.15 L106.12,489.08 L106.20,489.02 L106.28,488.58 L106.36,488.59 L106.44,488.33 L106.52,488.22 L106.60,488.08 L106.68,487.89 L106.76,487.78 L106.84,487.91 L106.92,487.74 L107.00,487.41 L107.08,487.57 L107.16,487.48 L107.24,487.16 L107.32,487.11 L107.40,486.96 L107.48,487.22 L107.56,486.83 L107.60,486.86 L108.10,485.97 L108.60,485.95 L109.10,485.72 L109.60,485.12 L110.10,485.15 L110.60,484.74 L111.10,484.68 L111.60,484.28 L112.10,484.40 L112.60,484.20 L113.10,483.98 L113.60,484.01 L114.10,484.10 L114.60,483.98 L115.10,483.97 L115.60,483.93 L116.10,483.85 L116.60,483.86 L117.10,483.64 L117.60,483.86 L118.10,483.59 L118.60,484.01 L119.10,483.89 L119.60,483.41 L120.10,483.50 L120.60,483.58 L121.10,483.67 L121.60,483.33 L122.10,483.49 L122.60,483.45 L123.10,483.37 L123.60,483.47 L124.10,483.43 L124.60,483.02 L125.10,483.29 L125.60,483.35 L126.10,483.23 L126.60,483.11 L127.10,483.18 L127.60,483.51 L128.10,483.17 L128.60,483.18 L129.10,483.00 L129.60,483.09 L130.10,482.90 L130.60,483.25 L131.10,483.11 L131.60,483.22 L132.10,482.95 L132.60,482.97 L133.10,482.98 L133.60,482.91 L134.10,482.88 L134.60,483.04 L135.10,483.04 L135.60,482.89 L136.10,482.94 L136.60,482.87 L137.10,482.75 L137.60,483.03 L138.10,482.84 L138.60,482.69 L139.10,482.68 L139.60,482.67 L140.10,482.60 L140.60,482.92 L141.10,482.95 L141.60,482.92 L142.10,482.70 L142.60,482.85 L143.10,482.79 L143.60,482.36 L144.10,482.69 L144.60,482.37 L145.10,482.49 L145.60,482.62 L146.10,482.82 L146.60,482.90 L147.10,482.48 L147.60,482.47 L148.10,482.69 L148.60,482.59 L149.10,482.41 L149.60,482.64 L150.10,482.59 L150.60,482.44 L151.10,482.53 L151.60,482.41 L152.10,482.52 L152.60,482.45 L153.10,482.48 L153.60,482.49 L154.10,482.39 L154.60,482.55 L155.10,482.55 L155.60,482.50 L156.10,482.44 L156.60,482.26 L157.10,482.58 L157.50,491.39 L158.00,493.35 L158.50,495.39 L159.00,497.63 L159.50,498.72 L160.00,500.80 L160.50,502.32 L161.00,503.14 L161.50,504.28 L162.00,504.95 L162.50,505.50 L163.00,506.38 L163.50,508.11 L164.00,508.17 L164.50,508.66 L165.00,509.83 L165.50,510.64 L166.00,511.31 L166.50,512.07 L167.00,513.47 L167.50,514.40 L168.00,515.04 L168.50,515.86 L169.00,516.92 L169.50,517.47 L170.00,518.37 L170.50,518.62 L171.00,519.71 L171.50,519.81 L172.00,521.08 L172.50,521.16 L173.00,520.90 L173.50,521.59 L174.00,522.20 L174.50,522.37 L175.00,522.70 L175.50,522.92 L176.00,523.88 L176.50,524.53 L177.00,524.63 L177.50,524.31 L178.00,525.12 L178.50,526.12 L179.00,525.94 L179.50,526.65 L180.00,527.15 L180.50,527.14 L181.00,527.24 L181.50,527.59 L182.00,528.09 L182.50,528.50 L183.00,528.64 L183.50,528.93 L184.00,528.94 L184.50,529.10 L185.00,530.48 L185.50,530.62 L186.00,530.34 L186.50,530.66 L187.00,531.43 L187.50,531.10 L188.00,531.53 L188.50,532.32 L189.00,533.19 L189.50,532.43 L190.00,533.22 L190.50,533.31 L191.00,533.27 L191.50,533.26 L192.00,534.18 L192.50,534.09 L193.00,534.43 L193.50,535.16 L194.00,534.75 L194.50,535.44 L195.00,535.70 L195.50,535.64 L196.00,536.18 L196.50,536.08 L197.00,536.65 L197.50,536.83 L198.00,536.97 L198.50,537.17 L199.00,537.72 L199.50,537.62 L200.00,538.07 L200.50,538.50 L201.00,538.56 L201.50,538.66 L202.00,537.92 L202.50,538.82 L203.00,539.00 L203.50,539.28 L204.00,539.56 L204.50,540.35 L205.00,539.76 L205.50,540.24 L206.00,539.60 L206.50,539.98 L207.00,540.80 L207.50,541.29 L208.00,540.89 L208.50,541.15 L209.00,541.02 L209.50,541.81 L210.00,541.75 L210.50,541.89 L211.00,542.10 L211.50,542.33 L212.00,542.60 L212.50,542.67 L213.00,542.37 L213.50,543.38 L214.00,542.87 L214.50,543.63 L215.00,543.45 L215.50,543.74 L216.00,543.96 L216.50,543.72 L217.00,544.08 L217.50,544.08 L218.00,544.01 L218.50,545.20 L219.00,545.12 L219.50,545.52 L220.00,544.97 L220.50,544.78 L221.00,544.80 L221.50,545.27 L222.00,545.45 L222.50,545.47 L223.00,545.70 L223.50,545.59 L224.00,546.30 L224.50,546.44 L225.00,546.35 L225.50,546.73 L226.00,546.97 L226.50,546.37 L227.00,547.35 L227.50,547.46 L228.00,547.45 L228.50,547.53 L229.00,547.88 L229.50,547.40 L230.00,547.47 L230.50,547.98 L231.00,548.01 L231.50,548.14 L232.00,548.06 L232.50,547.94 L233.00,548.77 L233.50,549.13 L234.00,549.30 L234.50,548.11 L235.00,548.07 L235.50,549.07 L236.00,549.26 L236.50,548.83 L237.00,550.67 L237.50,550.59 L238.00,551.37 L238.50,550.67 L239.00,549.55 L239.50,549.14 L240.00,549.28 L240.50,548.91 L241.00,549.40 L241.50,550.49 L242.00,551.28 L242.50,550.86 L243.00,550.83 L243.50,550.71 L244.00,551.66" fill="none" stroke="#0d0d0d" stroke-width="2.0" stroke-linejoin="round" />
<path d="M104.60,572.30 L104.68,552.40 L104.76,537.87 L104.84,527.27 L104.92,519.48 L105.00,513.74 L105.08,509.55 L105.16,506.42 L105.24,504.03 L105.32,502.29 L105.40,500.95 L105.48,499.86 L105.56,498.96 L105.64,498.55 L105.72,497.86 L105.80,497.36 L105.88,497.13 L105.96,496.79 L106.04,496.62 L106.12,496.42 L106.20,496.09 L106.28,495.60 L106.36,495.60 L106.44,495.43 L106.52,495.10 L106.60,495.22 L106.68,495.01 L106.76,494.63 L106.84,494.98 L106.92,494.51 L107.00,494.53 L107.08,494.16 L107.16,494.35 L107.24,493.96 L107.32,493.86 L107.40,493.81 L107.48,493.87 L107.56,493.53 L107.60,493.67 L108.10,492.71 L108.60,492.24 L109.10,492.19 L109.60,491.44 L110.10,491.29 L110.60,490.89 L111.10,490.77 L111.60,490.55 L112.10,490.58 L112.60,490.36 L113.10,490.31 L113.60,490.17 L114.10,489.82 L114.60,489.95 L115.10,489.94 L115.60,489.89 L116.10,489.45 L116.60,489.58 L117.10,489.74 L117.60,489.71 L118.10,489.62 L118.60,489.60 L119.10,489.30 L119.60,489.39 L120.10,489.33 L120.60,489.43 L121.10,489.28 L121.60,489.33 L122.10,489.37 L122.60,489.25 L123.10,489.33 L123.60,489.15 L124.10,488.83 L124.60,489.24 L125.10,489.16 L125.60,488.90 L126.10,488.87 L126.60,488.57 L127.10,489.24 L127.60,488.87 L128.10,488.76 L128.60,488.76 L129.10,488.62 L129.60,488.76 L130.10,488.84 L130.60,488.74 L131.10,488.61 L131.60,488.66 L132.10,488.67 L132.60,488.55 L133.10,488.67 L133.60,488.62 L134.10,488.33 L134.60,488.34 L135.10,488.43 L135.60,488.47 L136.10,488.77 L136.60,488.42 L137.10,488.39 L137.60,488.34 L138.10,488.43 L138.60,488.30 L139.10,488.36 L139.60,488.19 L140.10,488.41 L140.60,488.44 L141.10,488.34 L141.60,488.23 L142.10,487.93 L142.60,488.35 L143.10,488.66 L143.60,488.17 L144.10,487.94 L144.60,487.96 L145.10,487.92 L145.60,488.10 L146.10,488.13 L146.60,488.06 L147.10,487.98 L147.60,487.99 L148.10,488.24 L148.60,488.09 L149.10,487.86 L149.60,487.88 L150.10,488.31 L150.60,487.98 L151.10,487.91 L151.60,488.13 L152.10,488.00 L152.60,487.87 L153.10,487.95 L153.60,488.05 L154.10,487.82 L154.60,487.45 L155.10,487.95 L155.60,487.90 L156.10,487.84 L156.60,487.86 L157.10,487.89 L157.50,494.41 L158.00,495.53 L158.50,497.90 L159.00,499.40 L159.50,501.28 L160.00,501.85 L160.50,503.93 L161.00,504.65 L161.50,505.46 L162.00,506.72 L162.50,506.72 L163.00,508.18 L163.50,508.71 L164.00,509.07 L164.50,509.96 L165.00,511.03 L165.50,511.88 L166.00,512.34 L166.50,513.75 L167.00,515.05 L167.50,515.40 L168.00,516.37 L168.50,517.37 L169.00,517.43 L169.50,518.33 L170.00,519.21 L170.50,519.58 L171.00,519.79 L171.50,521.00 L172.00,521.48 L172.50,521.56 L173.00,522.31 L173.50,522.43 L174.00,523.18 L174.50,523.16 L175.00,524.24 L175.50,524.10 L176.00,524.43 L176.50,525.38 L177.00,525.25 L177.50,526.07 L178.00,526.55 L178.50,526.65 L179.00,527.40 L179.50,526.62 L180.00,527.87 L180.50,528.54 L181.00,528.63 L181.50,528.55 L182.00,529.29 L182.50,529.57 L183.00,530.17 L183.50,530.00 L184.00,530.46 L184.50,530.98 L185.00,530.40 L185.50,531.43 L186.00,531.65 L186.50,532.06 L187.00,531.97 L187.50,532.14 L188.00,532.80 L188.50,533.39 L189.00,532.81 L189.50,533.95 L190.00,533.94 L190.50,533.83 L191.00,534.33 L191.50,534.88 L192.00,534.84 L192.50,535.41 L193.00,535.39 L193.50,536.33 L194.00,536.39 L194.50,536.30 L195.00,536.79 L195.50,537.24 L196.00,536.90 L196.50,537.25 L197.00,537.15 L197.50,537.77 L198.00,538.27 L198.50,538.56 L199.00,538.47 L199.50,538.79 L200.00,538.89 L200.50,539.15 L201.00,539.61 L201.50,539.88 L202.00,540.18 L202.50,540.20 L203.00,540.39 L203.50,540.87 L204.00,540.89 L204.50,541.23 L205.00,541.14 L205.50,541.26 L206.00,541.64 L206.50,541.33 L207.00,542.29 L207.50,542.03 L208.00,542.02 L208.50,542.45 L209.00,542.29 L209.50,542.75 L210.00,542.61 L210.50,543.05 L211.00,542.92 L211.50,542.50 L212.00,543.94 L212.50,543.26 L213.00,544.77 L213.50,543.64 L214.00,544.08 L214.50,544.29 L215.00,544.69 L215.50,544.69 L216.00,545.25 L216.50,545.20 L217.00,544.95 L217.50,545.53 L218.00,545.36 L218.50,545.85 L219.00,546.10 L219.50,545.85 L220.00,545.94 L220.50,545.76 L221.00,545.91 L221.50,546.51 L222.00,546.13 L222.50,546.97 L223.00,546.84 L223.50,547.33 L224.00,547.15 L224.50,547.26 L225.00,547.60 L225.50,547.80 L226.00,548.02 L226.50,548.27 L227.00,547.96 L227.50,548.20 L228.00,548.13 L228.50,547.86 L229.00,548.72 L229.50,548.17 L230.00,549.00 L230.50,548.48 L231.00,548.87 L231.50,549.31 L232.00,549.10 L232.50,549.15 L233.00,550.15 L233.50,549.11 L234.00,549.13 L234.50,548.76 L235.00,549.21 L235.50,549.91 L236.00,551.08 L236.50,551.18 L237.00,551.66 L237.50,551.31 L238.00,551.00 L238.50,550.90 L239.00,549.47 L239.50,550.02 L240.00,549.57 L240.50,550.16 L241.00,550.96 L241.50,551.59 L242.00,552.32 L242.50,552.33 L243.00,551.87 L243.50,552.05 L244.00,551.43" fill="none" stroke="#0d0d0d" stroke-width="2.0" stroke-linejoin="round" />
<path d="M104.60,572.30 L104.68,553.16 L104.76,539.18 L104.84,528.98 L104.92,521.51 L105.00,516.01 L105.08,512.06 L105.16,508.97 L105.24,506.86 L105.32,505.12 L105.40,503.72 L105.48,502.95 L105.56,502.16 L105.64,501.51 L105.72,501.11 L105.80,500.57 L105.88,500.25 L105.96,500.17 L106.04,499.99 L106.12,499.83 L106.20,499.35 L106.28,499.29 L106.36,498.99 L106.44,498.81 L106.52,498.66 L106.60,498.49 L106.68,498.27 L106.76,498.16 L106.84,497.98 L106.92,498.02 L107.00,498.03 L107.08,497.60 L107.16,497.82 L107.24,497.65 L107.32,497.46 L107.40,497.37 L107.48,497.42 L107.56,497.17 L107.60,497.08 L108.10,496.81 L108.60,496.41 L109.10,495.38 L109.60,495.62 L110.10,495.17 L110.60,494.43 L111.10,494.92 L111.60,494.60 L112.10,494.23 L112.60,493.90 L113.10,493.82 L113.60,493.77 L114.10,493.53 L114.60,493.64 L115.10,493.55 L115.60,493.22 L116.10,493.24 L116.60,493.21 L117.10,493.02 L117.60,493.05 L118.10,493.34 L118.60,493.00 L119.10,492.54 L119.60,492.83 L120.10,492.48 L120.60,492.55 L121.10,492.55 L121.60,492.33 L122.10,492.18 L122.60,492.23 L123.10,492.15 L123.60,491.95 L124.10,492.17 L124.60,492.14 L125.10,491.74 L125.60,491.93 L126.10,491.75 L126.60,491.84 L127.10,491.52 L127.60,491.57 L128.10,491.69 L128.60,491.74 L129.10,491.59 L129.60,491.18 L130.10,491.30 L130.60,491.47 L131.10,491.44 L131.60,491.27 L132.10,491.25 L132.60,491.16 L133.10,491.34 L133.60,491.18 L134.10,490.92 L134.60,490.91 L135.10,490.99 L135.60,490.81 L136.10,490.92 L136.60,490.63 L137.10,490.95 L137.60,490.67 L138.10,490.68 L138.60,490.83 L139.10,490.58 L139.60,490.41 L140.10,490.59 L140.60,490.57 L141.10,490.56 L141.60,490.44 L142.10,490.21 L142.60,490.68 L143.10,490.50 L143.60,490.33 L144.10,490.29 L144.60,490.28 L145.10,490.14 L145.60,490.08 L146.10,489.92 L146.60,490.36 L147.10,489.98 L147.60,489.97 L148.10,490.20 L148.60,489.72 L149.10,490.14 L149.60,489.94 L150.10,489.94 L150.60,489.74 L151.10,489.82 L151.60,489.85 L152.10,490.00 L152.60,489.67 L153.10,489.45 L153.60,489.65 L154.10,489.56 L154.60,489.66 L155.10,489.68 L155.60,489.70 L156.10,489.65 L156.60,489.75 L157.10,489.38 L157.50,495.81 L158.00,497.96 L158.50,499.95 L159.00,501.60 L159.50,502.45 L160.00,504.43 L160.50,504.73 L161.00,506.35 L161.50,506.71 L162.00,507.62 L162.50,507.90 L163.00,508.42 L163.50,509.74 L164.00,509.98 L164.50,511.28 L165.00,511.43 L165.50,512.24 L166.00,513.20 L166.50,514.48 L167.00,515.92 L167.50,516.89 L168.00,517.68 L168.50,518.52 L169.00,519.12 L169.50,519.94 L170.00,520.81 L170.50,521.02 L171.00,521.84 L171.50,521.82 L172.00,522.63 L172.50,522.91 L173.00,523.36 L173.50,524.62 L174.00,524.63 L174.50,524.74 L175.00,525.01 L175.50,525.60 L176.00,525.92 L176.50,525.85 L177.00,526.93 L177.50,526.92 L178.00,527.12 L178.50,527.60 L179.00,528.07 L179.50,528.43 L180.00,529.03 L180.50,528.98 L181.00,529.57 L181.50,529.68 L182.00,530.06 L182.50,530.05 L183.00,530.32 L183.50,530.99 L184.00,531.33 L184.50,531.46 L185.00,531.70 L185.50,531.77 L186.00,532.73 L186.50,532.54 L187.00,533.76 L187.50,533.88 L188.00,533.53 L188.50,534.22 L189.00,534.18 L189.50,534.34 L190.00,534.76 L190.50,535.31 L191.00,535.83 L191.50,535.73 L192.00,536.04 L192.50,536.47 L193.00,537.26 L193.50,537.64 L194.00,536.63 L194.50,537.43 L195.00,537.40 L195.50,537.66 L196.00,538.14 L196.50,538.35 L197.00,538.68 L197.50,538.62 L198.00,539.11 L198.50,539.46 L199.00,539.84 L199.50,540.28 L200.00,539.89 L200.50,540.12 L201.00,539.67 L201.50,540.48 L202.00,540.71 L202.50,540.94 L203.00,541.10 L203.50,541.14 L204.00,541.81 L204.50,542.03 L205.00,541.71 L205.50,542.51 L206.00,542.33 L206.50,542.50 L207.00,542.96 L207.50,543.41 L208.00,543.11 L208.50,543.12 L209.00,543.85 L209.50,543.51 L210.00,543.85 L210.50,544.09 L211.00,544.45 L211.50,544.30 L212.00,544.47 L212.50,545.00 L213.00,545.69 L213.50,544.91 L214.00,545.22 L214.50,545.48 L215.00,545.31 L215.50,545.51 L216.00,545.89 L216.50,545.99 L217.00,546.25 L217.50,546.22 L218.00,547.01 L218.50,546.66 L219.00,547.10 L219.50,547.09 L220.00,547.22 L220.50,547.65 L221.00,547.64 L221.50,547.82 L222.00,547.46 L222.50,547.55 L223.00,547.60 L223.50,548.32 L224.00,547.64 L224.50,548.36 L225.00,547.96 L225.50,548.52 L226.00,548.63 L226.50,548.80 L227.00,549.04 L227.50,548.84 L228.00,549.22 L228.50,548.99 L229.00,549.53 L229.50,549.50 L230.00,549.87 L230.50,550.03 L231.00,550.24 L231.50,550.22 L232.00,550.17 L232.50,550.80 L233.00,550.59 L233.50,549.90 L234.00,550.13 L234.50,551.14 L235.00,551.33 L235.50,552.84 L236.00,551.93 L236.50,552.64 L237.00,551.84 L237.50,551.48 L238.00,550.93 L238.50,550.68 L239.00,550.85 L239.50,550.54 L240.00,551.86 L240.50,553.12 L241.00,553.80 L241.50,552.40 L242.00,552.73 L242.50,552.16 L243.00,553.16 L243.50,552.48 L244.00,552.16" fill="none" stroke="#0d0d0d" stroke-width="2.0" stroke-linejoin="round" />
<path d="M104.60,572.30 L104.68,555.26 L104.76,542.76 L104.84,533.62 L104.92,526.88 L105.00,521.92 L105.08,518.18 L105.16,515.51 L105.24,513.32 L105.32,511.74 L105.40,510.63 L105.48,509.53 L105.56,508.83 L105.64,508.05 L105.72,507.73 L105.80,507.24 L105.88,506.64 L105.96,506.49 L106.04,506.25 L106.12,505.79 L106.20,505.60 L106.28,505.47 L106.36,504.99 L106.44,505.11 L106.52,504.81 L106.60,504.37 L106.68,504.26 L106.76,504.25 L106.84,503.98 L106.92,503.54 L107.00,503.66 L107.08,503.39 L107.16,503.28 L107.24,503.14 L107.32,502.87 L107.40,503.12 L107.48,502.72 L107.56,502.75 L107.60,502.63 L108.10,501.67 L108.60,501.12 L109.10,500.56 L109.60,500.50 L110.10,499.70 L110.60,499.46 L111.10,499.34 L111.60,498.80 L112.10,498.69 L112.60,498.53 L113.10,498.58 L113.60,498.22 L114.10,497.99 L114.60,498.04 L115.10,498.28 L115.60,498.01 L116.10,497.80 L116.60,497.76 L117.10,497.44 L117.60,497.55 L118.10,497.36 L118.60,497.47 L119.10,497.32 L119.60,497.17 L120.10,496.98 L120.60,496.86 L121.10,497.22 L121.60,497.39 L122.10,496.78 L122.60,496.76 L123.10,496.99 L123.60,496.63 L124.10,496.84 L124.60,496.77 L125.10,496.46 L125.60,496.94 L126.10,496.49 L126.60,496.57 L127.10,496.56 L127.60,496.51 L128.10,496.28 L128.60,496.39 L129.10,496.25 L129.60,496.01 L130.10,496.35 L130.60,496.24 L131.10,495.87 L131.60,495.88 L132.10,496.11 L132.60,495.97 L133.10,495.97 L133.60,495.98 L134.10,495.92 L134.60,495.91 L135.10,495.86 L135.60,495.85 L136.10,496.12 L136.60,495.68 L137.10,495.66 L137.60,495.70 L138.10,495.79 L138.60,495.47 L139.10,495.61 L139.60,495.59 L140.10,495.45 L140.60,495.33 L141.10,495.51 L141.60,495.67 L142.10,495.36 L142.60,495.34 L143.10,495.61 L143.60,495.64 L144.10,495.20 L144.60,495.33 L145.10,495.63 L145.60,495.25 L146.10,495.15 L146.60,495.32 L147.10,495.10 L147.60,495.05 L148.10,495.09 L148.60,494.92 L149.10,494.74 L149.60,494.90 L150.10,495.03 L150.60,495.01 L151.10,494.93 L151.60,494.89 L152.10,494.83 L152.60,495.05 L153.10,495.27 L153.60,495.07 L154.10,494.90 L154.60,494.95 L155.10,495.12 L155.60,494.63 L156.10,494.84 L156.60,494.60 L157.10,494.64 L157.50,498.00 L158.00,500.56 L158.50,501.98 L159.00,503.05 L159.50,504.47 L160.00,506.05 L160.50,506.28 L161.00,507.58 L161.50,508.79 L162.00,509.46 L162.50,510.28 L163.00,509.52 L163.50,510.90 L164.00,511.47 L164.50,511.47 L165.00,512.73 L165.50,513.74 L166.00,513.93 L166.50,515.23 L167.00,516.40 L167.50,518.17 L168.00,518.93 L168.50,519.74 L169.00,520.38 L169.50,520.93 L170.00,521.72 L170.50,522.49 L171.00,522.81 L171.50,523.31 L172.00,523.59 L172.50,523.52 L173.00,524.26 L173.50,525.23 L174.00,525.51 L174.50,525.70 L175.00,526.28 L175.50,526.46 L176.00,526.85 L176.50,526.95 L177.00,527.46 L177.50,527.95 L178.00,528.13 L178.50,528.62 L179.00,529.11 L179.50,529.60 L180.00,529.14 L180.50,529.90 L181.00,530.54 L181.50,530.89 L182.00,530.81 L182.50,531.65 L183.00,531.15 L183.50,532.09 L184.00,531.98 L184.50,533.04 L185.00,532.76 L185.50,533.07 L186.00,533.24 L186.50,533.66 L187.00,534.75 L187.50,534.76 L188.00,535.30 L188.50,535.02 L189.00,535.64 L189.50,535.73 L190.00,535.94 L190.50,536.52 L191.00,536.37 L191.50,536.49 L192.00,537.24 L192.50,536.98 L193.00,537.11 L193.50,537.54 L194.00,537.81 L194.50,538.31 L195.00,538.92 L195.50,538.86 L196.00,539.38 L196.50,539.49 L197.00,539.98 L197.50,540.03 L198.00,539.94 L198.50,540.14 L199.00,540.67 L199.50,540.73 L200.00,540.21 L200.50,541.22 L201.00,541.09 L201.50,541.74 L202.00,541.84 L202.50,542.42 L203.00,542.29 L203.50,542.42 L204.00,542.31 L204.50,542.75 L205.00,543.10 L205.50,543.12 L206.00,543.82 L206.50,543.41 L207.00,543.54 L207.50,544.14 L208.00,544.17 L208.50,544.15 L209.00,544.66 L209.50,544.81 L210.00,544.90 L210.50,544.87 L211.00,545.22 L211.50,545.24 L212.00,545.29 L212.50,545.60 L213.00,545.96 L213.50,546.06 L214.00,545.78 L214.50,546.65 L215.00,546.41 L215.50,546.80 L216.00,547.08 L216.50,547.59 L217.00,547.35 L217.50,547.98 L218.00,547.66 L218.50,547.61 L219.00,547.77 L219.50,547.89 L220.00,548.07 L220.50,548.18 L221.00,548.36 L221.50,548.72 L222.00,549.14 L222.50,548.47 L223.00,549.06 L223.50,549.40 L224.00,549.36 L224.50,549.45 L225.00,549.78 L225.50,549.53 L226.00,549.95 L226.50,550.25 L227.00,550.38 L227.50,550.49 L228.00,549.82 L228.50,550.23 L229.00,550.61 L229.50,550.78 L230.00,550.84 L230.50,550.99 L231.00,551.02 L231.50,551.38 L232.00,551.72 L232.50,552.15 L233.00,551.95 L233.50,550.98 L234.00,552.10 L234.50,552.17 L235.00,553.54 L235.50,553.26 L236.00,552.45 L236.50,552.93 L237.00,552.05 L237.50,551.91 L238.00,551.53 L238.50,551.90 L239.00,553.21 L239.50,552.45 L240.00,553.95 L240.50,554.33 L241.00,553.83 L241.50,553.82 L242.00,553.01 L242.50,552.49 L243.00,552.45 L243.50,551.83 L244.00,553.02" fill="none" stroke="#0d0d0d" stroke-width="2.0" stroke-linejoin="round" />
<line x1="104.60" y1="500.00" x2="104.60" y2="572.50" stroke="#0d0d0d" stroke-width="1.0" />
<line x1="157.30" y1="465.50" x2="157.30" y2="508.40" stroke="#0d0d0d" stroke-width="1.3" />
<line x1="312.00" y1="303.50" x2="312.00" y2="422.75" stroke="#111" stroke-width="1.3" />
<line x1="312.00" y1="422.75" x2="507.50" y2="422.75" stroke="#111" stroke-width="1.3" />
<line x1="309.00" y1="304.25" x2="312.00" y2="304.25" stroke="#111" stroke-width="1.3" />
<text x="307.50" y="310.55" font-size="14.5" text-anchor="end" >60</text>
<line x1="309.00" y1="324.00" x2="312.00" y2="324.00" stroke="#111" stroke-width="1.3" />
<text x="307.50" y="330.30" font-size="14.5" text-anchor="end" >55</text>
<line x1="309.00" y1="343.75" x2="312.00" y2="343.75" stroke="#111" stroke-width="1.3" />
<text x="307.50" y="350.05" font-size="14.5" text-anchor="end" >50</text>
<line x1="309.00" y1="363.50" x2="312.00" y2="363.50" stroke="#111" stroke-width="1.3" />
<text x="307.50" y="369.80" font-size="14.5" text-anchor="end" >45</text>
<line x1="309.00" y1="383.25" x2="312.00" y2="383.25" stroke="#111" stroke-width="1.3" />
<text x="307.50" y="389.55" font-size="14.5" text-anchor="end" >40</text>
<line x1="309.00" y1="403.00" x2="312.00" y2="403.00" stroke="#111" stroke-width="1.3" />
<text x="307.50" y="409.30" font-size="14.5" text-anchor="end" >35</text>
<line x1="309.00" y1="422.75" x2="312.00" y2="422.75" stroke="#111" stroke-width="1.3" />
<text x="307.50" y="429.05" font-size="14.5" text-anchor="end" >30</text>
<line x1="312.50" y1="422.75" x2="312.50" y2="425.50" stroke="#111" stroke-width="1.3" />
<text x="313.00" y="439.50" font-size="14.5" text-anchor="middle" >0</text>
<line x1="344.90" y1="422.75" x2="344.90" y2="425.50" stroke="#111" stroke-width="1.3" />
<text x="345.40" y="439.50" font-size="14.5" text-anchor="middle" >5</text>
<line x1="377.30" y1="422.75" x2="377.30" y2="425.50" stroke="#111" stroke-width="1.3" />
<text x="378.40" y="439.50" font-size="14.5" text-anchor="middle" >10</text>
<line x1="409.70" y1="422.75" x2="409.70" y2="425.50" stroke="#111" stroke-width="1.3" />
<text x="410.80" y="439.50" font-size="14.5" text-anchor="middle" >15</text>
<line x1="442.10" y1="422.75" x2="442.10" y2="425.50" stroke="#111" stroke-width="1.3" />
<text x="443.20" y="439.50" font-size="14.5" text-anchor="middle" >20</text>
<line x1="474.50" y1="422.75" x2="474.50" y2="425.50" stroke="#111" stroke-width="1.3" />
<text x="475.60" y="439.50" font-size="14.5" text-anchor="middle" >25</text>
<line x1="506.90" y1="422.75" x2="506.90" y2="425.50" stroke="#111" stroke-width="1.3" />
<text x="507.40" y="439.50" font-size="14.5" text-anchor="middle" >30</text>
<text x="412.50" y="454.00" font-size="15" text-anchor="middle" >concentration (<tspan font-weight="normal">&#956;</tspan>M)</text>
<text x="0" y="0" font-size="15" text-anchor="middle" transform="translate(280.50,357.90) rotate(-90)" >Response</text>
<text x="320.00" y="318.00" font-size="15" text-anchor="start" >ii</text>
<line x1="312.00" y1="463.50" x2="312.00" y2="578.60" stroke="#111" stroke-width="1.3" />
<line x1="312.00" y1="578.60" x2="510.00" y2="578.60" stroke="#111" stroke-width="1.3" />
<line x1="309.00" y1="463.65" x2="312.00" y2="463.65" stroke="#111" stroke-width="1.3" />
<text x="307.50" y="469.95" font-size="14.5" text-anchor="end" >200</text>
<line x1="309.00" y1="480.08" x2="312.00" y2="480.08" stroke="#111" stroke-width="1.3" />
<text x="307.50" y="486.38" font-size="14.5" text-anchor="end" >190</text>
<line x1="309.00" y1="496.51" x2="312.00" y2="496.51" stroke="#111" stroke-width="1.3" />
<text x="307.50" y="502.81" font-size="14.5" text-anchor="end" >180</text>
<line x1="309.00" y1="512.94" x2="312.00" y2="512.94" stroke="#111" stroke-width="1.3" />
<text x="307.50" y="519.24" font-size="14.5" text-anchor="end" >170</text>
<line x1="309.00" y1="529.37" x2="312.00" y2="529.37" stroke="#111" stroke-width="1.3" />
<text x="307.50" y="535.67" font-size="14.5" text-anchor="end" >160</text>
<line x1="309.00" y1="545.80" x2="312.00" y2="545.80" stroke="#111" stroke-width="1.3" />
<text x="307.50" y="552.10" font-size="14.5" text-anchor="end" >150</text>
<line x1="309.00" y1="562.23" x2="312.00" y2="562.23" stroke="#111" stroke-width="1.3" />
<text x="307.50" y="568.53" font-size="14.5" text-anchor="end" >140</text>
<line x1="309.00" y1="578.66" x2="312.00" y2="578.66" stroke="#111" stroke-width="1.3" />
<text x="307.50" y="584.96" font-size="14.5" text-anchor="end" >130</text>
<line x1="312.00" y1="578.60" x2="312.00" y2="581.50" stroke="#111" stroke-width="1.3" />
<text x="312.50" y="598.50" font-size="14.5" text-anchor="middle" >0</text>
<line x1="345.10" y1="578.60" x2="345.10" y2="581.50" stroke="#111" stroke-width="1.3" />
<text x="345.60" y="598.50" font-size="14.5" text-anchor="middle" >5</text>
<line x1="378.20" y1="578.60" x2="378.20" y2="581.50" stroke="#111" stroke-width="1.3" />
<text x="379.30" y="598.50" font-size="14.5" text-anchor="middle" >10</text>
<line x1="411.30" y1="578.60" x2="411.30" y2="581.50" stroke="#111" stroke-width="1.3" />
<text x="412.40" y="598.50" font-size="14.5" text-anchor="middle" >15</text>
<line x1="444.40" y1="578.60" x2="444.40" y2="581.50" stroke="#111" stroke-width="1.3" />
<text x="445.50" y="598.50" font-size="14.5" text-anchor="middle" >20</text>
<line x1="477.50" y1="578.60" x2="477.50" y2="581.50" stroke="#111" stroke-width="1.3" />
<text x="478.60" y="598.50" font-size="14.5" text-anchor="middle" >25</text>
<line x1="510.60" y1="578.60" x2="510.60" y2="581.50" stroke="#111" stroke-width="1.3" />
<text x="511.10" y="598.50" font-size="14.5" text-anchor="middle" >30</text>
<text x="412.50" y="612.50" font-size="15" text-anchor="middle" >concentration (<tspan font-weight="normal">&#956;</tspan>M)</text>
<text x="0" y="0" font-size="15" text-anchor="middle" transform="translate(280.50,512.80) rotate(-90)" >Response</text>
<text x="320.00" y="479.50" font-size="15" text-anchor="start" >iv</text>
<line x1="383.80" y1="315.80" x2="383.80" y2="411.50" stroke="#3a3a3a" stroke-width="1.8" stroke-dasharray="4.2 3.3"/>
<circle cx="318.80" cy="391.50" r="2.4" fill="none" stroke="#1a1a1a" stroke-width="0.95"/>
<circle cx="318.80" cy="400.50" r="2.4" fill="none" stroke="#1a1a1a" stroke-width="0.95"/>
<circle cx="328.70" cy="384.30" r="2.4" fill="none" stroke="#1a1a1a" stroke-width="0.95"/>
<circle cx="344.50" cy="369.60" r="2.4" fill="none" stroke="#1a1a1a" stroke-width="0.95"/>
<circle cx="377.70" cy="353.50" r="2.4" fill="none" stroke="#1a1a1a" stroke-width="0.95"/>
<circle cx="473.80" cy="322.50" r="2.4" fill="none" stroke="#1a1a1a" stroke-width="0.95"/>
<path d="M319.40,396.00 L319.90,395.23 L320.40,394.48 L320.90,393.74 L321.40,393.01 L321.90,392.30 L322.40,391.60 L322.90,390.92 L323.39,390.26 L323.89,389.61 L324.39,388.99 L324.89,388.39 L325.39,387.81 L325.89,387.25 L326.39,386.70 L326.89,386.17 L327.39,385.65 L327.89,385.15 L328.39,384.66 L328.89,384.17 L329.39,383.70 L329.89,383.23 L330.39,382.78 L330.89,382.33 L331.38,381.88 L331.88,381.45 L332.38,381.01 L332.88,380.59 L333.38,380.16 L333.88,379.74 L334.38,379.33 L334.88,378.92 L335.38,378.51 L335.88,378.11 L336.38,377.72 L336.88,377.33 L337.38,376.94 L337.88,376.56 L338.38,376.18 L338.87,375.81 L339.37,375.44 L339.87,375.07 L340.37,374.70 L340.87,374.34 L341.37,373.98 L341.87,373.62 L342.37,373.27 L342.87,372.91 L343.37,372.56 L343.87,372.21 L344.37,371.86 L344.87,371.51 L345.37,371.17 L345.87,370.83 L346.36,370.49 L346.86,370.15 L347.36,369.81 L347.86,369.48 L348.36,369.15 L348.86,368.82 L349.36,368.50 L349.86,368.17 L350.36,367.85 L350.86,367.53 L351.36,367.21 L351.86,366.89 L352.36,366.58 L352.86,366.27 L353.36,365.95 L353.86,365.64 L354.35,365.33 L354.85,365.03 L355.35,364.72 L355.85,364.41 L356.35,364.11 L356.85,363.80 L357.35,363.49 L357.85,363.18 L358.35,362.88 L358.85,362.57 L359.35,362.26 L359.85,361.94 L360.35,361.64 L360.85,361.33 L361.35,361.02 L361.84,360.71 L362.34,360.40 L362.84,360.10 L363.34,359.80 L363.84,359.50 L364.34,359.20 L364.84,358.91 L365.34,358.62 L365.84,358.33 L366.34,358.04 L366.84,357.77 L367.34,357.49 L367.84,357.22 L368.34,356.95 L368.84,356.69 L369.34,356.44 L369.83,356.19 L370.33,355.94 L370.83,355.71 L371.33,355.48 L371.83,355.25 L372.33,355.05 L372.83,354.85 L373.33,354.67 L373.83,354.49 L374.33,354.31 L374.83,354.13 L375.33,353.96 L375.83,353.77 L376.33,353.58 L376.83,353.38 L377.32,353.17 L377.82,352.94 L378.32,352.69 L378.82,352.42 L379.32,352.12 L379.82,351.82 L380.32,351.50 L380.82,351.18 L381.32,350.85 L381.82,350.51 L382.32,350.19 L382.82,349.86 L383.32,349.55 L383.82,349.25 L384.32,348.96 L384.81,348.69 L385.31,348.44 L385.81,348.20 L386.31,347.96 L386.81,347.73 L387.31,347.49 L387.81,347.26 L388.31,347.04 L388.81,346.82 L389.31,346.60 L389.81,346.38 L390.31,346.17 L390.81,345.95 L391.31,345.75 L391.81,345.54 L392.31,345.34 L392.80,345.14 L393.30,344.94 L393.80,344.74 L394.30,344.54 L394.80,344.35 L395.30,344.16 L395.80,343.97 L396.30,343.78 L396.80,343.59 L397.30,343.41 L397.80,343.22 L398.30,343.04 L398.80,342.86 L399.30,342.67 L399.80,342.49 L400.29,342.31 L400.79,342.13 L401.29,341.95 L401.79,341.77 L402.29,341.59 L402.79,341.41 L403.29,341.23 L403.79,341.05 L404.29,340.87 L404.79,340.69 L405.29,340.51 L405.79,340.33 L406.29,340.15 L406.79,339.97 L407.29,339.79 L407.79,339.61 L408.28,339.43 L408.78,339.25 L409.28,339.08 L409.78,338.90 L410.28,338.73 L410.78,338.55 L411.28,338.38 L411.78,338.21 L412.28,338.04 L412.78,337.87 L413.28,337.70 L413.78,337.53 L414.28,337.36 L414.78,337.19 L415.28,337.03 L415.77,336.86 L416.27,336.70 L416.77,336.54 L417.27,336.38 L417.77,336.22 L418.27,336.06 L418.77,335.91 L419.27,335.75 L419.77,335.60 L420.27,335.45 L420.77,335.29 L421.27,335.15 L421.77,335.00 L422.27,334.85 L422.77,334.71 L423.26,334.57 L423.76,334.43 L424.26,334.29 L424.76,334.15 L425.26,334.01 L425.76,333.88 L426.26,333.74 L426.76,333.61 L427.26,333.47 L427.76,333.34 L428.26,333.21 L428.76,333.08 L429.26,332.96 L429.76,332.83 L430.26,332.70 L430.76,332.58 L431.25,332.45 L431.75,332.33 L432.25,332.21 L432.75,332.08 L433.25,331.96 L433.75,331.84 L434.25,331.72 L434.75,331.60 L435.25,331.49 L435.75,331.37 L436.25,331.25 L436.75,331.14 L437.25,331.02 L437.75,330.91 L438.25,330.79 L438.74,330.68 L439.24,330.57 L439.74,330.45 L440.24,330.34 L440.74,330.23 L441.24,330.12 L441.74,330.01 L442.24,329.90 L442.74,329.79 L443.24,329.68 L443.74,329.57 L444.24,329.47 L444.74,329.36 L445.24,329.25 L445.74,329.15 L446.24,329.04 L446.73,328.94 L447.23,328.84 L447.73,328.73 L448.23,328.63 L448.73,328.53 L449.23,328.43 L449.73,328.33 L450.23,328.23 L450.73,328.13 L451.23,328.03 L451.73,327.93 L452.23,327.84 L452.73,327.74 L453.23,327.64 L453.73,327.54 L454.22,327.45 L454.72,327.35 L455.22,327.26 L455.72,327.16 L456.22,327.07 L456.72,326.97 L457.22,326.88 L457.72,326.78 L458.22,326.69 L458.72,326.59 L459.22,326.50 L459.72,326.41 L460.22,326.31 L460.72,326.22 L461.22,326.13 L461.71,326.03 L462.21,325.94 L462.71,325.85 L463.21,325.76 L463.71,325.67 L464.21,325.57 L464.71,325.48 L465.21,325.39 L465.71,325.30 L466.21,325.21 L466.71,325.13 L467.21,325.04 L467.71,324.95 L468.21,324.86 L468.71,324.77 L469.21,324.69 L469.70,324.60 L470.20,324.51 L470.70,324.43 L471.20,324.34 L471.70,324.25 L472.20,324.17 L472.70,324.08 L473.20,324.00" fill="none" stroke="#0a0a0a" stroke-width="1.55" stroke-linejoin="round" />
<line x1="385.40" y1="478.00" x2="385.40" y2="574.00" stroke="#333" stroke-width="1.6" stroke-dasharray="4.2 3.3"/>
<circle cx="318.80" cy="546.20" r="2.4" fill="none" stroke="#1a1a1a" stroke-width="0.95"/>
<circle cx="318.80" cy="561.50" r="2.4" fill="none" stroke="#1a1a1a" stroke-width="0.95"/>
<circle cx="328.50" cy="538.50" r="2.4" fill="none" stroke="#1a1a1a" stroke-width="0.95"/>
<circle cx="344.80" cy="522.30" r="2.4" fill="none" stroke="#1a1a1a" stroke-width="0.95"/>
<circle cx="377.70" cy="502.30" r="2.4" fill="none" stroke="#1a1a1a" stroke-width="0.95"/>
<circle cx="476.90" cy="473.50" r="2.4" fill="none" stroke="#1a1a1a" stroke-width="0.95"/>
<path d="M318.80,554.00 L319.30,553.31 L319.80,552.62 L320.30,551.94 L320.80,551.26 L321.30,550.59 L321.80,549.92 L322.30,549.26 L322.80,548.61 L323.30,547.96 L323.80,547.31 L324.30,546.68 L324.80,546.04 L325.30,545.42 L325.80,544.80 L326.30,544.19 L326.81,543.58 L327.31,542.98 L327.81,542.39 L328.31,541.80 L328.81,541.22 L329.31,540.64 L329.81,540.06 L330.31,539.48 L330.81,538.91 L331.31,538.34 L331.81,537.77 L332.31,537.20 L332.81,536.63 L333.31,536.06 L333.81,535.49 L334.31,534.91 L334.81,534.33 L335.31,533.74 L335.81,533.16 L336.31,532.57 L336.81,531.99 L337.31,531.40 L337.81,530.82 L338.31,530.24 L338.81,529.67 L339.31,529.10 L339.81,528.53 L340.31,527.97 L340.81,527.42 L341.31,526.88 L341.81,526.35 L342.32,525.83 L342.82,525.32 L343.32,524.82 L343.82,524.33 L344.32,523.86 L344.82,523.40 L345.32,522.95 L345.82,522.51 L346.32,522.08 L346.82,521.65 L347.32,521.23 L347.82,520.81 L348.32,520.41 L348.82,520.00 L349.32,519.61 L349.82,519.21 L350.32,518.83 L350.82,518.45 L351.32,518.07 L351.82,517.70 L352.32,517.33 L352.82,516.97 L353.32,516.61 L353.82,516.25 L354.32,515.90 L354.82,515.55 L355.32,515.20 L355.82,514.86 L356.32,514.52 L356.82,514.18 L357.32,513.84 L357.82,513.50 L358.33,513.16 L358.83,512.83 L359.33,512.49 L359.83,512.16 L360.33,511.84 L360.83,511.51 L361.33,511.18 L361.83,510.86 L362.33,510.55 L362.83,510.23 L363.33,509.92 L363.83,509.61 L364.33,509.30 L364.83,509.00 L365.33,508.70 L365.83,508.41 L366.33,508.12 L366.83,507.83 L367.33,507.55 L367.83,507.27 L368.33,507.00 L368.83,506.73 L369.33,506.47 L369.83,506.22 L370.33,505.96 L370.83,505.72 L371.33,505.48 L371.83,505.25 L372.33,505.03 L372.83,504.81 L373.33,504.61 L373.84,504.42 L374.34,504.22 L374.84,504.04 L375.34,503.85 L375.84,503.66 L376.34,503.46 L376.84,503.26 L377.34,503.06 L377.84,502.84 L378.34,502.62 L378.84,502.39 L379.34,502.15 L379.84,501.92 L380.34,501.68 L380.84,501.43 L381.34,501.19 L381.84,500.94 L382.34,500.70 L382.84,500.45 L383.34,500.20 L383.84,499.96 L384.34,499.72 L384.84,499.48 L385.34,499.24 L385.84,499.00 L386.34,498.76 L386.84,498.51 L387.34,498.27 L387.84,498.03 L388.34,497.78 L388.84,497.53 L389.35,497.29 L389.85,497.04 L390.35,496.79 L390.85,496.54 L391.35,496.30 L391.85,496.05 L392.35,495.80 L392.85,495.55 L393.35,495.31 L393.85,495.06 L394.35,494.82 L394.85,494.57 L395.35,494.33 L395.85,494.09 L396.35,493.85 L396.85,493.61 L397.35,493.37 L397.85,493.14 L398.35,492.91 L398.85,492.68 L399.35,492.45 L399.85,492.22 L400.35,492.00 L400.85,491.78 L401.35,491.57 L401.85,491.35 L402.35,491.14 L402.85,490.94 L403.35,490.73 L403.85,490.54 L404.35,490.34 L404.85,490.15 L405.36,489.95 L405.86,489.76 L406.36,489.57 L406.86,489.39 L407.36,489.20 L407.86,489.01 L408.36,488.83 L408.86,488.65 L409.36,488.46 L409.86,488.28 L410.36,488.10 L410.86,487.93 L411.36,487.75 L411.86,487.58 L412.36,487.40 L412.86,487.23 L413.36,487.06 L413.86,486.90 L414.36,486.73 L414.86,486.56 L415.36,486.40 L415.86,486.24 L416.36,486.08 L416.86,485.92 L417.36,485.77 L417.86,485.61 L418.36,485.46 L418.86,485.31 L419.36,485.16 L419.86,485.01 L420.36,484.87 L420.87,484.72 L421.37,484.58 L421.87,484.44 L422.37,484.30 L422.87,484.17 L423.37,484.04 L423.87,483.90 L424.37,483.77 L424.87,483.64 L425.37,483.52 L425.87,483.39 L426.37,483.26 L426.87,483.14 L427.37,483.02 L427.87,482.90 L428.37,482.78 L428.87,482.66 L429.37,482.54 L429.87,482.42 L430.37,482.31 L430.87,482.19 L431.37,482.08 L431.87,481.97 L432.37,481.86 L432.87,481.75 L433.37,481.64 L433.87,481.53 L434.37,481.42 L434.87,481.32 L435.37,481.21 L435.87,481.11 L436.38,481.01 L436.88,480.91 L437.38,480.81 L437.88,480.71 L438.38,480.61 L438.88,480.51 L439.38,480.41 L439.88,480.32 L440.38,480.23 L440.88,480.13 L441.38,480.04 L441.88,479.95 L442.38,479.86 L442.88,479.77 L443.38,479.68 L443.88,479.59 L444.38,479.51 L444.88,479.42 L445.38,479.34 L445.88,479.26 L446.38,479.17 L446.88,479.09 L447.38,479.01 L447.88,478.94 L448.38,478.86 L448.88,478.78 L449.38,478.70 L449.88,478.63 L450.38,478.55 L450.88,478.48 L451.38,478.40 L451.88,478.33 L452.39,478.26 L452.89,478.19 L453.39,478.11 L453.89,478.04 L454.39,477.97 L454.89,477.90 L455.39,477.83 L455.89,477.76 L456.39,477.69 L456.89,477.61 L457.39,477.54 L457.89,477.47 L458.39,477.40 L458.89,477.33 L459.39,477.26 L459.89,477.19 L460.39,477.12 L460.89,477.05 L461.39,476.97 L461.89,476.90 L462.39,476.83 L462.89,476.76 L463.39,476.68 L463.89,476.61 L464.39,476.54 L464.89,476.47 L465.39,476.40 L465.89,476.33 L466.39,476.25 L466.89,476.18 L467.39,476.11 L467.90,476.04 L468.40,475.97 L468.90,475.90 L469.40,475.83 L469.90,475.76 L470.40,475.69 L470.90,475.62 L471.40,475.55 L471.90,475.48 L472.40,475.41 L472.90,475.34 L473.40,475.27 L473.90,475.21 L474.40,475.14 L474.90,475.07 L475.40,475.00" fill="none" stroke="#0a0a0a" stroke-width="1.85" stroke-linejoin="round" />
</svg></body></html>
